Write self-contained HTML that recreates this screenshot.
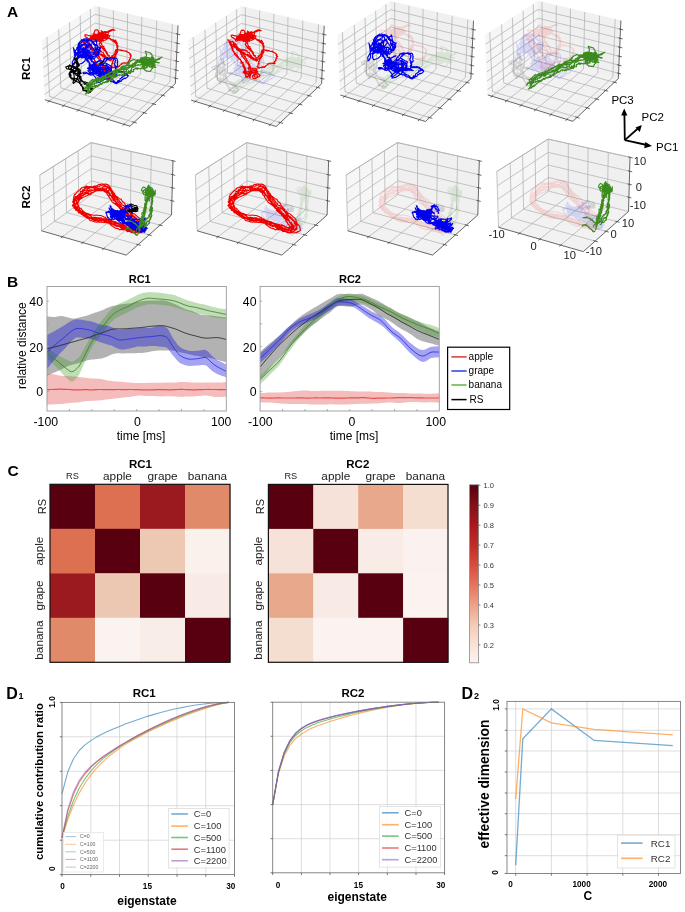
<!DOCTYPE html>
<html><head><meta charset="utf-8"><title>Figure</title>
<style>
html,body{margin:0;padding:0;background:#fff;}
body{width:685px;height:912px;overflow:hidden;}
svg{display:block;filter:blur(0.4px);font-family:"Liberation Sans", sans-serif;}
</style></head><body>
<svg width="685" height="912" viewBox="0 0 685 912">
<rect x="0" y="0" width="685" height="912" fill="#fff"/>
<defs><path id="tablack" d="M75.6 70.6L76.8 66.8L76.8 65.4L77.9 68L77.8 71.7L77.7 76.4L77 79.1L75.4 81.9L73.6 83.4L72.9 82.5L74.4 78.4L74 74.9L73.3 72.5L72.7 70.8L72.1 71.6L73.4 72.9L74.4 72.8L75.5 72L74.3 71.3L71.4 69.8L66.8 68.8L65.7 67L68.1 66.1L70.6 66L74.2 66.4L78.5 68.8L80.4 70.1L79.4 71.9L80 73.4L81.2 73.5L79.8 71.4L77 69.6L73.5 66.4L71.2 66L69.5 64.9L69.3 65.3L68.8 66.5L68.5 68.1L69.4 69.5L70.1 69L71.9 67.4L73 66.9L74.5 67.2L76.8 68.5L77.5 69L77.9 68.2L77.6 68.1L76.2 67.1L75.8 68.9L75.8 69.9L75.5 70.8L74.4 72.1L74.4 70.5L72.6 70.7L71.4 69.6L71 70.8L71.3 71.4L71.5 72.3L69.8 73.1L70.5 73.2L70.4 72.6L72.7 71.8L74.1 71.3L74 71.2L74.1 70.7L75.1 70.7L76 71.9L76.3 70.5L77.1 68.7L76.9 65.4L76.6 63.6L75.3 62L73.2 63.9L71.7 66L71.4 69.2L72.2 71.9L71.7 71.1L72 70.3L70.6 69.4L71 70.3L73.6 72.5L75.5 74.1L76.3 75.4L77.2 74.6L77.9 73.6L80.3 71.1L79.7 71.1L77.7 73.4L76.1 73.5L74.3 73.5M76.2 57.7L76 58.6L76.9 58.2L77.1 59.1L77 59.8L76.8 60.2L76.8 60.6L77.1 61.7L76.9 61.9L77.6 62.2L77.9 62.1L78.1 63.7L77.9 63.6L78.4 63.8L78.6 64.4L79.5 64.9L78.8 66.2L77.7 65.9L78.1 66.1L78.1 65.6L77.2 66.9L76.8 66.6L76.1 66.8L74.8 67.5L74.5 67.2L74.3 68.1L74.4 68.5L74.2 67.8L74 68.7L73.3 68.6L73.3 69.4L72.4 70L72 69.7L72.3 71.3L71.4 71L70.5 71.1L70.8 71.9L71 72.6L69.6 72.2L70.3 73.1L70 73L69.8 74.3L70 74.4L70.4 74.6L70.4 75.6L71.1 75.4L70.7 76.2L70.1 77.6L70.5 77.5L71.5 78.3L72.5 78.2L72.7 78.1L73.4 78.5L74.8 78.8L74.9 78.7L75.6 78.6L75.9 78.6L76.8 78.5L78.2 79.2L77.3 79.4L78.1 79.8L77.9 79.3L78.7 80.6L79.3 80.9L79.2 81L79.9 82.3L80.3 83.3L80.6 84L81.6 84.7L81.7 85.5L81.7 86.1L81.9 86.5L82.1 86.3L82.8 87.3L82.6 88.2L83.8 88.4L83.5 89.3L82.8 89.7L82.9 89.8L83.7 90.7L82.7 89.8L83.5 90.7L84.4 90.2L84.3 90L85 90.4L85.8 90.1L86.8 90.7L87.4 90.2L88.3 90.9L89.1 90.9L89.7 91.4L90.8 91.5L90.7 90.9L90.9 91.2L91.2 90.1L91.5 89.7L92.1 89.8L92.7 89.3L92.3 88.6L91.4 88L90.6 88.2L90.2 86.5L89.7 86.2L89.1 85.7L88.3 86L88.1 85.4L88.1 85.4L86.5 85L86.6 84.4L85.4 83.9L85.6 83.6L84.8 84.4L83.9 83.7L84.2 83.2L84.4 82.5L83.5 82.2L83.5 81.7L82.7 81.3L81.6 80.1L82.1 80.5L81.4 80L80.6 79.9L81 79.6L80.4 79.5L79.7 79L80 79L79.3 77.5L79.7 77.6L79 78.2L79.5 76.6L78.8 76.4L79.5 76.2L78.9 75L79.4 75L78.8 73.8L79 73.2L79.4 73L78.1 72.7L78.6 73L79.2 72.7L79.1 72.7L79 72L78.3 73L78.5 71.8L78.1 71.4L77.9 71.1L77.9 70.3L78.4 69.6L78.4 69.3L78.2 69M73.6 57.5L74.3 57.4L74.3 58L74.6 59.2L75.2 59.5L75.3 59.3L75.6 60.2L76 60.1L76.6 61.3L76.6 60.9L76.3 61.5L76.8 62.4L77.4 62.2L78.1 63.5L77.3 63.3L78.2 64.3L78 64.7L78.3 65.3L78.1 65.9L78.4 66.3L78 66.3L77.6 67.3L77.5 67.5L77.5 67.7L77 67.8L77.2 66.9L76.4 68.1L74.7 68.4L74.5 68.1L73.1 69.1L72.3 69.7L72.4 69.5L71.9 69.8L70.9 70.8L71.4 72.5L70.2 72.1L69.7 72.1L70.1 72.8L69.6 73L69.1 73.6L68.9 74.2L69.3 73.7L69.4 75.2L69.7 76L69.4 75.9L69.8 76.3L70.7 77.3L70.4 77L70.9 77.5L71.5 77.8L71.3 78.5L71.9 78.9L73 79L73 79.5L73.9 79.9L74.4 80.1L74.8 80L75 80.7L75.4 81.7L75.9 81.2L77.1 81.8L77.6 82L78 82.2L78.9 82L78.9 82.1L79.8 83.7L79.8 83.4L80.2 83.1L80.5 83.7L80.8 84.4L81.9 84.5L80.7 85.4L81.6 85.5L82.2 86.2L82.3 86.9L82.3 87.3L83.3 87.2L82.7 88.6L82.9 89.2L84 89.8L83.6 89.7L83.6 90.6L85.2 90.8L85.7 90.3L86.1 90.4L86.2 91.6L86.9 91.3L87.1 92.3L88.6 93.1L88.8 92.4L89.4 92.6L89 92.7L90.3 92.4L90.8 91.2L90.9 91.4L90.9 90.7L90.8 90L90.9 89L91.2 89L90.8 88.5L90.4 87.4L89.9 88.1L90.4 86.7L89.1 86.4L89.2 85.5L88.7 85.2L88.8 84.8L88.4 83.5L87.7 82.8L86.8 82.8L85.4 82.1L85.9 82L84.6 82L83.7 81.8L83.1 82.1L82.4 81.1L82.2 81.4L81.8 80.8L81.3 81.2L80.3 81.2L81.1 80L81.2 80L81.2 78.7L80.8 77.8L80.9 77.5L80.9 76.9L80.1 76.6L80.5 76.5L79 76.7L78.8 76.3L78.6 76.1L77.7 75.8L78 75.6L79 75.8L79.3 75.7L79.2 75.5L80 75.2L79.7 74.5L79.6 73.4L79.9 73.1L79.9 72.6L79.7 72.9L78.5 71.7L78.9 71.5L78 71.3L78.2 70.4L77 69.6L77.2 69.2L77.1 68.4L77.2 68.3M98.5 64.7L99.1 64.9L98.9 63.8L99.5 63.7L100.2 63.5L100.4 63.2L101.5 62.7L101.8 62.4L102.6 62.6L102.5 61.6L102.8 61.8L104.1 61.8L103.5 61.1L104 59.5L104.3 60"/><path id="tablue" d="M99 49.2L99.6 49.9L100 50.8L100.2 51.2L100.1 51.5L99.9 52.5L99.6 52.5L99 52.6L97.9 52.9L97.5 53.5L96.5 53.6L95.2 54.6L94.9 54.3L95.6 54L94.1 53.8L93.2 53.5L93.5 53.6L93.9 54.1L93.1 54L93 53.8L92.6 54.1L92.6 53.8L93.1 55.2L92.9 55.3L92.6 56.4L93 56.2L92.9 56.4L92.2 56.9L92 56.7L91.5 57.5L90.5 57.2L90.5 57.3L89.4 57.4L88.7 57.3L87.9 57.8L87.8 57.8L88.6 58.4L87.8 57.8L88.5 57.7L88.4 57.1L88.9 56.8L89.1 56.2L88.6 56.1L88.6 55.2L88.2 55.2L87.5 54.7L86.4 54.7L85.1 54.5L84.2 55.9L83.1 56.9L81.5 56.5L79.9 57.5L79.4 57.3L78.6 56.6L78.2 56.7L78.4 55.5L77.6 55L77.7 54.7L77.5 53.5L77.8 52.3L77.8 52.5L78.6 51.1L78.3 50.9L78 50.4L78.9 50L77.7 49.4L78.4 48.7L78.4 49.5L78.1 48.1L77.6 47.7L77.6 46.8L77.4 47.4L77.8 47.7L76.6 47.7L77.2 48.2L77.5 47.9L77.3 47.6L77 47.5L77.6 48.1L77.6 47.6L78.4 47.7L78.7 47.1L78.3 47.2L77.6 47.3L78.2 45.9L78 45.2L78.7 43.3L79.3 43.6L79.2 42.3L80.4 42L81 41.1L81.6 40.4L82 40.1L83.3 40.7L83.7 40.6L85.4 40.4L85.8 40.8L87 40.6L87.2 41L86.9 40.5L88.2 40.1L88.7 40.3L89.3 39.9L88.7 40.4L89 39.5L89.5 39.1L89.3 39.5L89.4 39.5L89.8 39.9L91.3 40.1L90.5 40L90.6 40.8L91.1 41.1L91.5 41L92.2 41.5L92.4 41.9L92.6 41.3L92.6 41.5L93 41.7L93.2 41.8L93.3 41.8L95.1 41L94.6 41.3L95.5 41.2L95.4 41.2L95.8 40.2L95.9 39.8L95.6 39.5L96.1 40.4L96.2 41L96.5 40.9L96.4 42.1L96.7 43.3L96.8 44.4L97.1 45L97 46.3L98 46.9L99.3 47.4L99.2 48.4L99.7 49M97.1 48.2L96.1 48L96 48.4L95.8 48.2L95.2 48.3L95.5 49.4L96.2 50.1L95.7 49.9L96.8 50.6L97 52.1L97.6 51.1L97.9 51.1L98.2 51.5L98.1 51.9L98.4 52L98.2 52.7L98.3 52.9L98.6 53.6L97.8 53.9L97.7 54.4L96.9 54.7L95.3 55.1L94.7 56.2L93.3 56.8L92.8 57.6L91.7 58L91.5 58.4L91.1 59.7L90.3 59.2L91.2 59.7L90.5 58.7L89.3 59L89.6 58.6L88.9 57.7L89.2 56.6L87.9 56.7L87.3 55.5L86.3 54.9L85.7 54.8L84.4 55.5L83.5 55.6L82.9 56.3L82.3 56.5L82.3 57L81.8 56.8L81.4 56.9L81.2 56.9L80.9 56.7L80.9 56.7L79.8 56.8L80 57.1L80 56.7L79.1 56.6L78.7 56.6L78.7 54.8L78.2 54.7L78.1 54L78.5 53.7L78 52.5L78.8 52.2L78.2 52.8L78 51L77.9 51L78.2 50.7L77.6 50.2L78.7 49.7L79 50.4L79 49.2L78.6 49.4L78.9 49.4L78.7 49L78.4 49.2L78.5 48.3L78.7 48.7L78.5 47.7L78.4 47.9L78.9 47.3L79.4 46.9L79.2 46.8L80.3 47.2L80.7 46.7L80.3 46.8L80.6 46.6L81.9 46.1L81.2 46.9L81.6 46.8L81 45.9L81.8 46.1L81.7 45.4L81.7 44.4L82.5 44.3L83.6 44.4L84.5 44.1L84.5 43.5L84.9 44.1L85.4 43L86.5 42.4L87.1 41.8L87.1 42.5L87.2 41.3L87.6 41L87.5 40.4L87.5 40L86.9 39.8L87.4 39.9L88.4 39.9L88.2 39.9L89.6 40.2L89.5 39.9L90 40L90.9 40.7L91.7 40.4L91.9 41.9L92.8 42.2L92.9 42.6L93.8 42.4L93.3 43L93.5 43.4L92.8 43.3L92.8 43.4L93.2 43.8L93 44L93.3 43.9L93.8 44.6L94.4 45.2L94.3 44.7L95.3 44.6L96.2 44.8L96.2 45.7L96.4 45.4L97 45.8L97.9 45.9L97.4 46L98 47.1L97.4 46.9L98 47.4L97.1 47.1L97.7 49.1L98 49.2L98.8 49.5M100.9 47.8L100.3 47.6L100.6 48.6L99.4 48.8L99.9 49.1L99.5 49.4L98.9 50L98.6 50.9L98.3 50.9L98.7 51.4L99.4 51.8L99 52.8L98.8 53.2L98.9 53.8L98.1 55.2L98 55.5L96.2 56L96.3 56.8L95.5 57.4L94.9 57.7L94.2 58.8L93.9 58.7L93.1 58.1L93.3 58.9L92.7 58.3L92.9 58.3L92.5 57.9L92.5 58L92 57.9L91.4 57.9L91.3 57.9L90.5 56.7L90.8 57.5L90.8 57.8L90.4 57.9L90.3 57.6L90.4 58L90.2 58L89.8 57.1L88.5 57.1L87.9 57.2L87.6 56.1L86.9 55.6L85.2 55.1L85.9 54.8L84.9 54.6L83.4 54.6L83.7 54.2L82.6 54.4L82.2 54.5L81.4 54.8L81.1 55L81 55.3L80.9 55.2L80.4 54.3L80.6 53.7L80.2 54.4L80.1 53.7L79.8 53.1L79.6 53.8L80 54L78.5 53.1L78.1 53.2L78 53.3L77.3 53.4L76.5 53.6L76.4 53.1L75.3 53.2L75.4 52.6L75.5 52.5L75.4 51.3L75.5 50.8L76 50.2L76.6 49.1L77.3 48.5L77.3 47.5L78.6 47.3L78.9 47.7L79.7 47.2L79.7 46.5L80 46.2L78.8 46.1L79.6 46.2L80.3 44.7L79.6 44.9L79.1 43.7L79.5 43.9L79.5 42.2L79.9 42.3L80.1 41.3L81.3 40.9L82.3 41L82.5 40.1L83.1 40L83.1 39.6L83.9 38.8L83.9 39.1L83.9 39.3L84.7 39L85.3 38.9L86.3 38.7L87.2 39.7L87.7 39.2L88.6 40.3L89.8 40.1L90.1 40.6L91.1 40.2L91.7 41L92.2 40.9L92.4 41.5L93.3 42L93.1 42L92.7 42.2L92.2 42.7L92.4 42.1L92.8 42.8L91.9 42.7L93.5 43.4L92.8 42.8L93 43.6L93.5 43.7L93 42.3L93.8 43.2L94.1 42.9L94.6 44.2L94.2 43.9L95 45L95.4 45.5L95.3 45.7L95.1 46.1L95.2 47.6L94.8 47.5L95.2 48.3L95.6 49.1L96.1 48.8L96.3 49L96.8 48.9L96.9 49.6L97.6 49.3L98.1 49.1M87 46L91 44L91.9 47L89.5 50.5L85.3 50.5L82.7 48.4L83.3 47.4L85.8 49.7L86.3 54.3L86.5 56.8L86.4 57.5L87.1 58.6L90.4 58.5L92 59.7L90.7 58.3L87.1 56.2L83.6 54.6L82.1 53.9L82 52.4L85 50.2L88 46.2L89.5 45.2L89 42.1L87.2 40.5L83.3 39.8L81.5 42.7L79.1 45.2L77.8 47.7L78.9 47.5L80.4 48.6L81.8 48.8L84.3 51.3L86 52L87 52.2L84.7 53L81.7 55.7L77.4 59L76.1 58.5L77.4 57.7L80.6 57.1L82 56.7L82 56.2L80 55.8L80.6 54.6L82.8 54.5L84.3 56.7L83.7 57.6L81.9 57.9L80.6 56.3L79.7 53.2L78.1 49.1L77.7 46.7L78.7 47.2L81.7 48.9L84.8 48.4L86.7 46.2L86.6 44.5L83.7 44.8L81.5 46.6L79.1 50.7L75.9 54.9L75.2 56L75.8 54.1L78.6 50.5L82.7 50.7L84 53.6L83.7 56L83.2 54.7L83.8 52.1L85.4 51L86.3 52.8L88.4 55.8L89.5 57.6L90.9 57.2L91.3 55.7L90.8 52.4L86.5 50.5L82.3 48.7L80.9 49.3L83.7 49.3L87.8 51L87.8 50.4L84.1 50.5L78.3 52.5L74.7 57.4L72.2 62.3L72.6 65.6L73.9 64.7L75 61.8L74.8 56.2L73.9 50.2L73.4 47.8L74.1 49.6L76.2 53.1L78.3 56.3L79 56.9L79.3 56.6L79 57.2L82.1 55.1L84.9 53.5L86.8 52L89.8 52.1L92.6 52L94.7 53.5L95.1 52L94.3 50.2L91.4 46L89.4 45.2L88.4 45L88.3 46.4L87.9 49.8L85.5 51.7L83.3 52.7L83.3 53.1L83 55.8L85.9 56.9L87.1 58.9L88.3 56.9L88.5 55.2L86.2 52.8L83.1 53L80.7 55.5L80.3 55.8L79.6 55.4L80.4 52.8L82.3 50.4L84 48.9L84.9 49.8L85.6 50.1L84.1 51.1L83.9 54.2L85.3 57.9L85.1 60.8L82.2 63.2L78.2 64.5L77 62.1L77.2 57.6L78.4 52.6L78.8 47.7L79.8 44.4M85.4 53.2L85.7 54L85.8 54L85.8 55.1L85.6 55.3L85.8 56.5L86.2 56.3L86 57.1L86.2 57.8L86 58.3L87 59.1L86.7 59.6L87.4 59.5L87.6 59.8L88.5 61L88 61.1L88.3 61.5L89.3 62.1L88.9 63L89.7 63.6L90 63.2L90.2 64.3L90.6 65L90 65.5L90.7 66.9L91 67.5L91.2 67.6L90.4 68.7L90.9 68.7L92 69.8L91.4 70.1L92.8 70.3L93.1 70.8L93.9 70.8L93.8 71.7L94.5 71.5L95.3 72.1L96.4 71.9L97.1 72.2L97 72.7L97.6 72.5L97.4 72.2L96.9 71L96.8 70.5L96.4 69.9L96.7 69.8L96.7 68.6L97.4 67.5L97.2 66.9L96.7 66.6L96.7 66.2L96 65.2L95.2 64.6L95.6 64.1L95.2 63.8L94.2 63.5L94.3 62.5L93.7 61.9L93 62.1L91.5 61.8L91.7 60.9L91.6 60L90.7 59.5L90.7 59.4L91 58.1L91.4 57.5L90.9 57.8L90.6 56.3L90.3 55.9L90 56.2L89.9 54.7L89.9 54.8L89.1 53.6L89.2 52.8L87.6 52.8L87 52.1L86.6 52L86 50.7L85.3 51L84.2 50.5M81.8 52.2L82.6 53L83.5 54.3L83.5 54.5L83.4 55.8L83.8 56.2L84.3 57.1L84.6 57.1L85.1 57.9L85.4 58.6L86 59L86.6 59.5L86.8 59.9L86.7 61L88.1 60.1L87.7 61.6L87.9 61.8L88.8 61.8L89.1 62.5L89 62.7L89.5 64L89.1 64.6L89.3 65.1L89.1 66.2L90.1 65.8L90 66.6L90.7 67.6L90.4 68.7L91.2 69.4L91.2 69.5L92.1 70.5L92.1 71.2L93.2 70.9L92.9 72L93.6 72.6L94.1 73L95.2 73.4L94.6 73.2L95.4 73L96.4 73.6L96.5 73.7L96.4 73.4L96.5 73.2L96.2 72.4L96.4 71.9L96.6 71.6L95.8 69.9L96.4 69.8L95.6 69.2L95.3 68.6L95.4 68L95.1 66.8L94.9 65.2L94 64.9L94 63.6L93.4 63.4L93.5 62.4L92.8 61.9L92.2 61.7L91.7 61L91.8 60.8L92.2 60.4L90.7 60.2L90.7 59.4L91.1 58.8L90.8 58.1L90 58.3L89.7 57.8L89.2 56.6L88.6 55.7L88.3 56L88 55.2L87.4 54.9L86.2 54.2L86.2 54.1L85.6 53.3L85.8 52.7L84.5 52.6L84.2 51.5L83.8 51.5M95.5 67.8L96.4 66.1L96.5 65.7L93 65.5L90.1 67L89.3 69.6L90.6 72.4L93.4 75L96.2 78.4L97 81.1L96.5 82.8L97 82.7L100.1 82.1L104.7 79.3L108.3 75.2L111.6 70.6L111.1 68.2L108 66.2L102.8 65.5L100.7 65.8L101.1 65.2L105.1 62.7L109.2 65.1L111.8 66.5L110.8 70.4L108.4 74.2L106.9 75.8L105.1 75.5L105.8 73L107.3 70.4L107.9 66.6L106.4 64.7L104.6 65.5L106 66.7L107.8 69.8L108.2 73L106.4 75.5L102.7 76.4L100.2 76.8L100.4 74.4L100.9 73.5L102.2 72.5L103 70.5L103.4 71.9L102 69.4L100.5 68.6L97 67.8L93 67.5L90.9 67.5L91.6 66.4L94.9 63.5L98.7 60.7L100.5 60.6L95.7 62.6L90.7 65.5L90.1 67.5L91.7 68.4L98.5 69.4L104 69.2L107.6 69.8L107.5 71.6L105.7 71.9L102.8 73.9L101.5 74.5L102.2 74.2L101.7 73.3L99.7 72.3L96.4 69.6L91.3 69.2L90 69.5L90.3 71.8L90.7 73L90 74.6L89.1 73.3L89.3 74.8L89.1 74.5L88.5 74L86.4 72.6L85.6 72.2L83.7 72.3L83 72.7L83.6 73.8L86.7 73.1L90.9 75.2L93.4 74L95.3 72.3L91.6 70L88.4 67.8L91.3 66.5L98.5 67L107.2 68L111.2 71.1L110.4 73L105.7 74.3L98.7 74L93.9 73.2L92.3 72.5L91.3 72.6L94.7 73.6L97.5 75.6L101.6 75.7L106.1 75.7L109.3 74.8L110 73.6L108.8 72.8L106 73.2L104 74.9L100.5 76.7L97.1 79L95.3 80.8L96.7 81.6L99.6 80L101.8 77.9L105.8 74.4L106.2 70.7L105.8 68.1L107.6 67.7L107.3 69.2L107.5 72.3L104.9 75.2L101.6 74.8L100.1 71.5L97.8 67.9L95.5 66.4L93.8 67.3L97.6 70L103.1 73.1L110.2 75.5L114 74.7L114.6 73.4L112.1 72.8L111.8 72.8L110.7 72.4L110.9 72L111 69.3L110.7 68.6L109 67.8L103.8 67.9L99.5 68.2L93.4 68.2L89.3 69.2L87.9 70.7L89.1 72.2L93.4 73.9L100.9 73.2L109.6 73.5L114.9 73.8L117.2 75.3L117.9 75.2L115.7 75.2L113.1 74.4L108.7 74.4L105.4 74.8L104.7 74.5L107.1 73.6L108.8 74.3L107.3 73.3L101.6 72.2L94.6 70.7L87 68.1M99 65.7L99 65.7L99.7 65.1L99.9 64.5L101.2 64.5L100.8 63.7L101.3 62.7L101.7 61.9L102.7 62L102.6 61L103 60.7L104 60.2L104.4 59.2L104.2 59.6L104.2 58.8L105.4 58.3L105.7 58.6L106 58.3L107.1 58.1L107.6 57.3L107.8 58.2L109.2 58.6L109.8 58.2L110.9 58.2L111.1 58.2L112.5 58.1L112.7 57.8L113.4 59.3L114.2 58.4L115.1 58.4L114.8 59.1L115.6 60.5L115.2 59.7L115.4 61.3L115.1 61.3L115.1 62.2L115 63L114.3 63.4L114.3 64.1L114.7 64.4L115.5 66.1L114.5 65.4L115.1 65.6L115.4 66.8L114.9 67.4L115.3 67.3L115.3 68.8L116.1 68.9L115.7 69.9L114.9 70.3L115.4 71.2L115 71.2L115.5 71.4L115.9 71.4L116.5 71.6L118.1 71.4L118.4 71.3L119.1 71.6L120.1 71.5L120.8 71.4L121.1 71.1L120.9 71.2L122.5 71.8L122.8 72.3L122.4 72.4L123.4 71.8L123.5 72.6L123.8 72.9L124.9 73.4L124.7 73.5L125.3 73.3L125.5 73.4L126.6 73.8L125.4 74.2L125.3 74.4L125.1 75.5L124.3 75.9L123.6 75.5L122.9 75.8L123.4 75.7L122.8 77.1L122.3 77.3L121.7 77.8L121.6 77.7L121.1 78.2L119.9 78.7L120 79.3L120 80.1L119.7 80.7L117.9 80.6L118.6 80.8L118.5 82L117.6 81.1L117.6 82.3L116.5 82.2L116.2 82.6L115.5 82.4L114.9 82.1L114.8 81.9L114 81.2L113.8 81.1L113.2 79.9L112.1 79.9L112.3 79.7L110.6 79.4L110.8 79.3L110.2 79L109.6 79.3L109.5 78.4L109.5 77.5L108.8 77.9L108.2 77.7L107.1 76.6L107.2 76.6L106.4 76.4L105.9 75.5L105.7 75.6L104.8 74.7L104.3 74.2L104.2 74.8L103.4 74.4L103.3 74.4L102 73.1L102.2 73L101.6 72.7L101.1 72.5L100.7 71.7L101.2 71L100.6 72L101.1 71.2L100.8 70.6L100.1 70.6L100.5 70.8L100.5 70.1L100.3 70.2L100 69.8L99.9 69.6L100.4 69.2L99.8 68.1L99.9 67.8M99.9 66.7L100.7 65.9L101.1 65.8L101.2 65.8L102.5 65.5L103 64.7L103.6 64.1L103.5 64L105.1 62.7L104.9 62.9L105.2 61.8L105.9 60.7L106.9 60.8L106.5 60.3L107.1 59L108.1 59.6L108.7 58.9L108.9 57.8L109.7 58.3L110.7 57.9L112 57.5L112.4 58.1L111.5 58.2L113.2 57.8L113.4 58.1L114.5 58.1L115.2 58L115.5 57.9L116.3 58.1L116.8 58.5L117.1 59.1L117.3 59.7L117.3 60.5L117.2 60.8L117.8 61.3L117.5 61.7L117.3 63.3L117.2 63.8L117.3 64.1L117.7 64.9L117.3 65.7L117.6 66.1L116.5 66.8L116.5 67.6L116.1 67.7L115.8 68.2L116.3 69.4L116.1 69.7L115.9 70.3L115.9 71.3L115.1 71.5L115.2 72.2L115.2 72.4L115.3 72.9L116.2 72L117.2 72.3L118 72.1L118.5 71.9L119.1 72.3L119.6 72.2L120.5 72.2L121.7 72.2L122.4 71.6L123.1 72.5L124.1 72.1L125 74L125.1 74.7L125.9 74.1L126.5 75.2L127.2 74.3L127.6 75.1L127.6 75.7L128.3 75.8L128.2 76L127.5 76.8L126.9 77.4L126 78.1L125.5 78.1L125 78.6L124.7 78.1L124 78.3L123.5 79L122.7 79.4L122 79.3L122.1 79.7L121.7 80.4L121.3 81.1L120.2 81.5L119.6 81L120 81.4L119.3 81.9L118.6 82.5L118 82.5L117 83L117.5 83.1L116.6 83.6L116.3 83.7L115.9 83.5L114.5 83L113.6 82.1L113.5 82.3L113 81.7L111.9 81.5L111.3 81.7L110.4 81.3L110.7 80.8L110.2 80.6L109.3 80.5L109 79.5L108 79.6L107.4 79.7L107.1 79.4L106.2 78.7L105.9 78.9L105.5 79.1L104.4 79L104.1 78.4L103.5 77.9L102.3 77.5L101.8 77.4L101.2 76.8L100.6 76.7L99.9 75.8L99.4 76.7L98.6 75.9L98.6 75.5L98.4 74L99 73.7L98.4 73.2L98.3 72.6L98.8 71.9L98.6 70.8L99 70.6L98.7 69.5L99.7 69.6L98.5 68.3L98.7 68L98.8 67.3L98.1 66.1L99.2 65.8"/><path id="tared" d="M99.7 42L98.5 39.7L99.1 37.9L98.8 37.6L99.8 36.2L99.8 36L100.6 34.5L102 33.4L102.6 31.7L101.8 32.3L101.2 30.9L102 31.2L101.7 31.7L100.7 33.2L99 33.4L95.4 35.7L93.4 37.5L90.5 39L88.8 39L86.8 37.5L85.1 36.4L84.9 34.9L86.2 34.8L88 35.3L90.1 35.6L94.3 35.7L96.8 34.9L97.6 34.3L99.4 32.7L100.9 33L101.9 33.9L103.1 33.3L103.5 34.8L102 36.9L100.4 38.7L99.8 39.7L99.8 37.9L99.4 37.1L97.7 36.3L94.4 36.2L90.3 37.7L89.1 40.7L90.6 40.7L94.1 39.1L98.8 37.9L102.4 34.8L106.2 34.9L108.3 35.8L107.5 37L105.1 38.5L103 39.3L100.7 37L98.4 35.8L96.7 34.6L96.9 36.5L96.2 37.6L98.4 38.1L99 37.9L98.6 38.1L99.3 37.4L98.7 38.8L98.2 39.3L99.7 39.4L100.4 37.5L100.9 37.5L102.6 35.9L104.3 35.5L105.8 36.5L106.7 36.3L107.9 34.4L108.5 32.8L106.8 31.9L104.9 31.5L102.5 32.5L100.8 34.3L99.5 34.9L98.3 35.5L98.5 35.9L99.8 35.9L99 36.6L97.3 37.2L95.4 37L94.4 37L96.9 37.5L100.6 36.9L103.9 37.2L103.5 38.1L102.9 36.4L101.7 34.3L102.6 33.6L104.2 32.3L103.2 33.2L101.4 34.9L98.7 36.1L98 37.2L98.6 38.4L97 39.2L98.2 40L97.7 38.8L96.7 38.2L94.5 38.6L94.2 37.4L95.9 38.1L97.3 37.8L99.8 36.7L101.2 35.5L105 35.6L108.4 35.5L106.6 36.6L104.2 38.2L102.3 40.1L102.3 40L104.8 36.9L105 35.5L102.7 33.4L99.8 33.2L98.2 34.8L96.5 37.1L95.3 37.5L98.6 35.9L101 35.3L103.7 33.9L103.5 33.4L102.1 34.3L97.8 35.6L93.2 38L90.2 37.6L90.7 36.8L94.3 35L99.5 33.5L103.8 33.7L107.3 34.5L109.8 36L108.5 38.3L105.1 40.2L99.9 41L95.1 40L91.5 39.4L89.2 38.8L91 38.7L92.1 38.8L93.1 37.5L93.7 38.2L92.9 36.7L93.4 37.1L94.8 38.3L99.2 37.9L102 36.9L103.1 35L103.9 32.8L106.3 32.2L109.4 31.7L112.7 30.1L114.9 30.3L112.6 29.4L109.4 30.6L106.1 32.8L105.1 35L103.6 37.8L103 39.1L99.9 39.6L96.8 38.3L94 36.8L92.8 34.9L94.1 33.7L96.4 34.6L99.8 35L102.6 35.4L103.6 37.8L103.4 36.5L102.6 36.6L99.7 38L98.2 38.3L97.4 36.5L97.3 34.9L98.2 33.4L98.8 32.5L98.3 30.7L97.2 29.8L95.1 30.1L94.2 32.3L93.7 34.3L94.2 37.6L92.8 38.5L93.6 40.1L93 39.7L93.8 39.2L95 38.9L96.5 38.9L96.9 37.1L95.1 37.6L94.6 37.1L95.3 38.2L95.9 39.9L97.4 41L97.6 41.5L97.6 41.1L98.9 40.6L100.8 40.1L104 41.1M83.7 40.3L83.5 41.7L84.5 42.6L84.7 43.5L85.4 43.5L85.7 44.2L85.4 45.3L85.5 46L86 46.3L86.7 47.1L86.7 47.3L86.8 48.5L86 48.7L85.9 49.7L86.7 50.5L87.1 51.1L87.3 51.2L88 52.4L88.2 53.5L88.3 54.1L89 54.6L89.9 55.5L90.4 56.1L90.9 56.7L92.3 56.7L91.9 57.5L92.5 57.8L92.6 58.1L93.2 58.3L94 59.2L94.4 59.4L94.6 60.9L95.1 60.6L95.3 61L95 61.5L94.8 62.8L97.1 62.4L96.8 63.3L96.8 63.7L96.5 64.6L96.9 65.3L98 66.4L96.8 66.2L97.8 67.4L98.3 68.7L98 68.7L98.3 69.5L98.1 69.9L99.1 70L98 71.6L98 72.8L98.8 72.9L99.4 73.2L99.1 74.7L99.7 75.4L99.4 76.6L99.7 76.7L101.2 75.9L101.9 75.8L102.6 74.7L102.5 75.4L102.9 74.8L103.5 74.7L104.4 74.3L105.2 73.3L105.5 72.8L104.6 71.8L104.9 70.6L104.5 70.5L104.2 69.7L103.9 68.3L103.5 68.1L103.4 66.9L102.9 66.1L102.5 64.8L101.9 63.6L101.9 63.6L101.2 62.8L99.9 61.8L100.3 61L99.4 60.3L99.3 59.7L98.4 58.9L97.9 57.7L97.5 58L96.9 56.5L96.3 56.3L95.4 55.7L96.3 55.3L94.8 54L94.9 54.3L94.9 53.5L94.5 53L94.3 52.6L94.1 51.3L94 49.9L93.4 50.6L94 50.4L92.4 49.8L92.5 48.7L92 48.4L91.6 48.1L91.6 46.9L91.7 46.9L90.6 46.4L90.3 46.7L90.4 45.4L89.9 45.7L90 44.6L89.3 43.4L88.6 44.2L88 42.5L87.8 42.5L87.2 42.3L86.2 41.3L86 40.9L85.3 41.6L84.6 41.2L83.8 40.7L83.8 40.7M81.1 39.3L81.7 39.5L81.8 39.8L82.3 39.7L82.8 40.9L83.3 41.5L83.3 42.7L83.7 43.6L84.5 44.8L84.3 45.1L84.9 45.5L85.3 47.6L85.5 47.6L86.2 48.2L86.2 48.9L86.8 49.2L86.8 50.5L87.3 50.9L88.1 51.9L88.4 52.2L88.5 52.7L89.3 53.4L89.6 53.4L90.1 53.9L91 54.8L90.8 55.1L91.6 56.2L92.2 57L92.6 58.2L92.9 58.8L94.2 59L94.7 60.5L95.3 61.9L95.9 61.6L96.4 62.8L96.7 63.9L97.6 64.2L97.3 65.2L98.3 66L98.1 66.2L98.8 67.3L99.4 67.9L99.2 67.8L99.2 68.8L99.5 69.7L99.1 69.9L99.1 70.7L99 71.4L99.7 71.8L99.5 72.9L99.5 73.4L99.1 73.7L99.9 74.9L99.4 75.8L100.2 76.4L99.8 76.6L101.3 76.9L100.6 76.6L102.1 75.6L102.5 75.3L102.1 74.7L103.1 73.6L104.2 73.2L104.6 72.2L104 72.1L104.8 71.1L104.4 70.2L104.2 69.7L104.1 68.9L104.8 68.3L104 67.6L103.7 66.3L103.5 65.7L103.7 65.3L103.5 64.6L102.7 63.7L103.3 63.9L102 62.7L101.9 61.6L101.7 61.2L101.7 60.8L100.6 59.8L100.4 58.4L100.3 58.4L99.7 57.8L99.5 57.8L99 55.8L98.4 56.3L98.1 55.1L97.7 54.9L97 53.9L97 53.5L95.3 53.4L95.1 52.6L95.3 52.5L94.4 51.6L93.4 51.1L93.1 50.8L92.8 50.2L91.7 49.9L91.6 50L90.8 48.6L90.4 47.9L90 47.9L90.1 47.9L89 47.1L89 46.6L89.1 46L88.1 44.7L87.7 44.4L88.2 42.9L87.7 43L87.3 42.9L87 41.6L86 41.2L86.6 41.3L84.5 41.8L84 42L82.9 42.4L82.5 41.9M98.3 71.4L98.8 72L100.4 72.2L101.9 71.5L104.8 70.9L107.4 70.2L109.2 70.4L110.6 68.9L109.6 68.3L108.4 67.9L106.1 67.9L106 68.6L107.5 69.4L110.3 69.9L110.6 71.8L110.1 71.1L109.3 74.4L106.3 75.5L106.7 77.4L107 78.3L109.4 78.3L111.1 77.3L111.2 75.2L109.9 73.2L107.5 73.5L107.6 74L108.4 76.5L111 76.9L113.1 76.3L113.9 75.1L111.7 73.2L109.6 70.8L107.9 70.2L106.4 70.9L104.9 70.1L104.3 70L102.6 69.7L102 68.2L102.7 66.6L103.6 65.9L104.5 66.8L104.6 67.8L104.8 69.3L104.9 70.4L104.5 70.8L104 72.6L100.5 73.4L97.8 72.4L96.8 71.9L98.3 70.6L102.5 71.2L102.9 72.1L103.8 72.4L104 74.2L104 73.5L103.3 73.5L102.7 73.6L104.2 74.9L103.8 76.1L104 76.9L103.9 77.7L102.7 76.3L103.2 74.4L105.5 72L108.1 72.2L111.1 71.6L111.2 71.1L110 71.1L107 72.4L104.3 73.8L104.3 75.5L103.4 76.1L103.7 75.5L102.2 75.3L101.4 73.4L100.6 73L99.4 72.3L99.1 71.7L97.7 72.8L99.3 74M103.4 36.3L104.5 37.2L104.5 37.6L105.2 37L105.2 37.5L106.1 37.9L105.9 38.3L107.3 38.1L107.3 38.8L108.6 38.5L108.5 38.1L110.2 38.9L111.2 39.8L111.9 40.4L113 39.6L112.9 40L114.6 40.9L115.2 39.9L114.8 41.5L115.4 41.9L115.9 40.8L116.5 42.3L116.8 42.3L116.1 43.3L117.4 43.3L117 43.7L116.6 44.5L117.2 45.5L116.7 45.9L117.3 46.5L117.1 46.6L116.9 47.9L117.6 48.3L117.6 49.5L117.4 49.3L117.2 49.8L117.6 50.1L117.8 51.1L117.2 51.3L117.7 51.6L116.9 53L116.7 53.6L116.5 53.4L115.8 53.9L115.9 55.2L115.4 55.1L114.5 56.9L114.3 56.4L114.8 57.2L113.9 56.9L113.6 57.7L112.6 58.5L112.4 58.6L112.3 58.6L111.4 59.9L110.6 58.8L110.7 57.7L109.5 56.9L108.8 56.3L108.8 56.1L107.2 54.7L107.5 54.2L106.5 53.3L106.3 53.4L106 52.3L106 52.1L105.7 51.6L105.5 50.8L105.2 50.9L105.4 50.6L105.2 49.6L104.5 50L104.2 50.7L103.5 49.1L102.8 49.1L103 48.1L102.4 48.4L102.3 47.7L101 47.8L102.2 47.1L100.4 46.3L100.5 46.6L100.5 45.7L99.4 44.9L99.4 44.7L98.9 43.8L99.5 43.6L99.7 42.8L100.9 42L101.3 41.7L101.5 40.4L102.4 40.5L102.8 38.8L102.7 39.4L102.9 38.3L103.2 37.5L103.5 36.8L104.5 36.7L104.5 35.9L104.7 35.5M104.5 36.6L104.9 36.7L105.4 37L106.8 37.8L106.8 37.2L107.2 38.3L108.1 37.7L108.3 37.7L109.5 38.6L110.1 38.6L110.7 39L110.5 39.6L111.2 39.7L112.4 40.1L112 39.5L113 40.3L113.5 41.1L112.9 41.4L114.2 42L114.5 41.9L115 42.8L115.8 43.4L115.9 43.2L116.2 43.6L116.9 43.7L116.7 44.3L117.2 44.5L116.4 44.7L117.9 45.4L117.2 45.8L117.7 45.6L117.7 46.6L117.7 47L117.7 47.5L117.8 47.7L117.2 48.5L117.5 49.1L117.8 49.1L116.6 50L116.3 50.7L117.1 51.2L116.4 51.3L116.3 51.8L115.4 52.8L115.2 53.1L115.1 54.9L114.5 54.2L113.8 54.7L112.9 55.7L112.7 55.7L111.9 55.6L112.5 56.8L111.3 56.9L110.9 57.5L110.6 57.5L110.2 57.4L110 57.2L109.2 56.7L108.5 55.9L109.4 55.5L108.2 55L107.9 54.9L107.5 54.3L107.3 53.5L107.3 53.7L107.3 52.7L106.4 52.7L106.6 51.8L106 51.8L106.4 51.2L105.3 50.8L105.6 50.5L105.5 50.1L104.5 49.6L104.8 49.1L104.5 48.2L103.9 48.1L103.8 46.9L103.9 46.4L103.2 46.6L102.6 46.1L102.3 46.2L102.1 45.4L102 45L101.4 44L101.2 43.7L101.7 43.5L100.8 42.7L101 42.2L100.9 41.6L102.2 40.8L101.2 40.3L102.2 39.6L102.7 39.8L102.1 39.1L102.6 38.4L103 38.3L103.5 37.4L103 37.5L103.8 37.2M116.7 49L116.7 49.4L117.1 49.8L117.3 49.1L117.7 49.8L117.9 49.7L119.2 49.7L119.3 50.2L120.2 49.8L120.7 50.5L120.8 50.1L121.4 50L121.9 50.8L122.9 50.2L123.2 50.4L123.8 50.9L124.6 51.2L124.9 51.2L126.2 50.7L125.7 51.1L127 51.9L127.6 52.1L127.2 51.8L128.3 52.4L128.6 52.6L129.2 53.1L128.9 52.7L129.8 53.6L129.7 53.3L130.1 54.2L130.9 54.4L130.5 54.2L129.9 54.9L130.4 55.5L130.6 56.2L131.5 55.9L130.6 56.7L130 57.7L130.7 58.2L130.1 58.2L129.9 58.8L129.3 59.8L129.9 59.8L129.1 60.7L128.3 61.4L128.4 61.5L128.4 61L128.5 62.7L128.8 63.2L128 63.4L127.6 63.1L128.2 62.2L127.1 63.2L126.6 62.9L126.4 63.1L125.6 62.7L125.9 62.7L125.7 62.8L124.7 63.5L124.9 63.1L124 63L123.7 62.7L122.8 63.3L122.3 63.2L121.6 63.6L121.8 64.3L121.2 64.5L120.8 64.7L120.1 65.1L119.6 65.4L119.4 65.9L119.5 66.2L119 66.4L118.3 66.3L118.3 67.1L118.3 67.2L117.2 66.6L117.4 67.1L116.4 66.9L116.2 66.3L115.1 67.1L115.2 67.5L113.9 67L113.9 67.1L113.3 67.8L112.3 67.1L112.1 67.2L112.5 67.5L111.9 67.9L112 67.7L111.7 66.8L110.7 66.4L111.9 66L111.7 65.2L111.8 64.5L112 63.9L112 64L112 63.1L112.8 63.6L112.7 62.2L112.4 61.2L112.7 60.9L113.5 60.6L113.5 60.1L113.7 59.6L113.5 59.2L114 58.5L113.9 58.4L113.8 58.5L115 57.2L114.7 56.9L114.8 56.9L114.7 56.8L115.4 56.3L116 56.1L115.4 55.3L115.5 55L114.8 54.9L115.2 54.6L115.2 54.6L115.7 54.2L115.1 52.6L114.8 53.2L115.2 52.2L115.1 51.3L115.8 51.7L115.7 51.1L115.6 50.6L115.7 49.8L116.1 49.4M86.2 44.2L86.8 45L87.3 45.2L88.4 46.3L89.2 46L90.5 46.6L90.9 47.1L91.2 47.8L92.4 48.1L92.9 48.3L94.3 49.3L93.9 48.9L95 49.3L95.7 50.3L96.6 49.3L97.2 50.1L97.3 50L97.8 49.6L99.1 50L100.1 50.6L100.6 50L100.5 50.7L101.3 51.5L101.4 51.5L101.7 52.1L103.1 52.3L103.4 52.9L103.6 53.6L104.1 54.3L105 55.3L105.4 55.7L105.7 57L106.4 57.1L106.9 57.5L107.3 58.7L107.8 58.3L109 58.5L109.1 59.2L109.4 59.2L111.1 60.2L110.3 60.3L109.4 59.8L108.5 59.2L107.9 59.1L106.7 59L106.6 59L106.1 58.1L105.3 57.8L104.9 58L103.9 57.3L103.7 57L102.6 56.6L102.6 55.7L101.8 55.5L101 55.6L100.8 54.7L100.4 54.3L99.6 54.1L99.5 53.8L98.4 54.1L98.4 52.6L97.8 52.5L96.8 52.8L96.9 51.7L95.4 51.5L95.6 50.3L95 50.8L94.8 50.3L93.5 50L93.2 49.3L92.8 49.3L92.6 48.8L92.1 48.9L91.6 48.4L91 48.4L90.3 47.3L89.5 47.3L89.3 45.9L89.1 46.4L88.7 46.1M87.2 43.1L87.3 44.7L87.8 44.9L88.9 45.5L89.2 46.4L90.4 46.6L90.9 47.3L91.5 48.3L92.5 48.7L93.2 48.9L92.7 50.2L94.3 50.7L95.1 51.5L96 51.4L96.3 52L96.9 52.8L98.1 53.1L99 53.4L98.7 53.7L99.6 54L100.6 54.2L100.5 54.4L101.7 55L102.7 54.9L102.5 54.6L103.3 55.3L103.3 56L104.1 56L104.5 55L105.1 55.6L105 56.4L105.8 56.5L106 56.8L106.2 57.2L107.4 57.7L107.3 57.8L108.3 59.1L109.8 58.8L110 59.7L110.2 60.8L110.3 60.7L109.6 60.2L109.3 60L108.4 59.6L108.6 59.4L107.5 59.2L107.8 59.5L107.3 58.5L107 58.5L106.9 58L105 57.6L104.6 56.8L104 56.6L103.5 55.9L103.3 55.4L102.1 54.8L101.2 53.8L100.2 54.4L99.6 54.1L98.8 53.4L98.2 53.2L96.9 53.1L96.7 52.5L96.2 52.8L95.6 52.6L94.5 52.3L94.7 51.9L94.3 50.5L93.6 51L92.6 50.3L92 50.4L92 50L91 49.5L90.3 48.8L90.4 49.3L89.8 47.9L89 47L88.6 47.2L87.7 45.8L86.3 46.3"/><path id="tagreen" d="M86.7 85.9L86 84.7L86.6 85.7L86.7 84.4L87.2 84.3L87.2 84.2L88.1 83.3L87.7 84.4L89.1 84L89.1 83.1L90.3 83L89 82.4L90 81.9L89.9 81.6L90.8 80.7L91.5 80.7L91.5 80.3L91.8 80.9L92.3 79.3L93.7 80L94.8 79.5L95.4 79.1L95.6 78.5L95.8 79.3L96.7 78.9L96.8 78.1L97.3 77.9L98.8 77.9L98.8 78.5L99.5 77.4L99.7 77.8L100.8 78.2L101.2 77.2L100.7 77.7L101.1 78.2L101.3 77.4L102.2 77.4L102.4 76.6L101.9 77.2L103.1 76.3L102.4 76.4L102.1 76.5L102.1 75.9L103.2 76.3L103.8 76.1L103.9 75.8L104.8 75.8L105.7 75.1L105.8 73.9L106.8 74.8L107.8 74.4L107.9 73.5L108 73L109 73.4L109.6 72.5L110.8 72.4L110.3 72.3L110.4 73.3L111.6 72.1L112.1 71.3L112.2 72.2L113 71.8L113.3 71.3L114 71.8L113.4 71.2L113.7 71.4L114.1 70.5L114.2 70.7L115.1 70.3L115.1 69.7L115.2 69.7L116.2 70L116.2 69.5L116.9 68.7L117.4 69.3L117.6 69.3L118.3 69.7L119.1 69L119.5 69.3L120.6 68.5L121.9 68.2L122.6 67.6L123 67.2L125.1 66.7L124.6 66.4L125.9 65.4L126.6 64.9L127.3 64.9L126.8 64.6L127.5 64L127.7 64.1L128.5 63.7L128.4 64L128.7 62.4L129.1 63.4L130.1 61.3L130.1 61.1L130.8 61.4L130.8 60.6L132.2 60.4L132.2 60.1L133.8 59.5L134.3 59.4L134.6 59.8L135.2 60.1L136.2 60.3L136.8 60.3L137 60.2L137.5 60.8L137.9 59.6L138.2 60.5L138.6 60.9L139 60.9L139.7 60.5L139.7 60.3L139.5 59.8L140.7 59.2L140.8 57.9L140.6 58.4L141.5 58.3L141.4 59L141.8 58.2L142.3 58.3L143.8 58.9L143.8 58.5L144.4 59.1L144.9 59.5L145.2 59.3L146.1 59.5L146.7 58.9M83.3 90L84.6 89.4L84.6 88.1L85.5 88.1L85.1 87.1L86.7 86.9L87 86.3L88.3 86.4L89.4 85.1L89.5 84.7L90.8 84.8L90.6 85L91.4 84.1L91.4 84.1L91.9 84L91.9 83.8L91.1 83.3L91.8 83.1L91.7 83.1L92.6 83.1L91 83.2L92.1 82.6L92.6 82.4L93.3 82.4L93.4 82L93.2 81.8L94.2 80.9L94.1 81.8L94.6 80.6L95.2 80.3L95.9 79.8L97.4 80.1L96.9 80.1L97.7 79.4L99.4 79.1L100 78.8L100.8 79.5L101.1 78.6L102.1 77.9L102.4 77.8L102.9 77.8L103.4 77.1L104.2 76.8L104.6 76.3L104.9 75.9L106.2 75.8L106.2 76L106.3 75.3L106.4 74.9L107.4 74.6L107.3 74.9L108.2 74.7L108.7 74.6L109.3 75.2L110.4 75.1L109.6 75.4L112 75L112.2 74.5L112.4 74.7L112.9 74.1L114 74.1L114.2 72.7L115.5 72.4L115.3 72.1L115.6 72.1L116 71.2L117.1 70.2L118.1 69.9L117.8 70.1L119.2 69L119.5 69L119.4 69L120.4 68.7L119.4 68.7L119.5 68.7L120.7 68.3L120.9 67.4L121.2 68.2L121.3 67.9L121 66.9L122.2 66.8L122.3 66.1L123.4 66.9L123.7 65.9L123.9 66L125.3 65.8L126 65.9L126.7 65.3L126.7 65.1L127.1 65.4L128.3 65.6L128.3 65.1L128.6 65.4L129.3 64.9L129.7 66.2L129.8 65.4L129.9 66.1L131 66L130.5 65.9L131.5 65.7L132.1 64.8L132 64.8L132.8 64.1L134 63.9L134.1 63.2L134.2 63.9L135.7 62.7L135.5 62.6L135.9 61.6L137 62.4L136.1 61.5L136.9 61.3L137.1 61L138.4 60.3L138 59.9L139.7 60.5L139.4 59.7L139.8 59.7L140.6 60.3L140.7 59.2L140.9 59.9L141.6 59.2L142.4 58.5L142.6 59.1L143.6 59.2L143.9 59L144.7 58.3L145.3 57.9L146.5 58.5L147.4 58.8M85.7 87.3L86.1 87.4L86.4 87.3L86.2 87.4L87.1 88.4L86.6 88.2L86.2 87.5L87.3 88.7L88.1 88.1L88 87.9L87.8 87.3L88.8 87.1L89.9 86.9L90.2 87.6L90.8 85.6L91 85.2L92.2 85.2L92.6 84.5L94.1 83.7L94.2 84.7L94.9 83.3L94.4 83L95.3 83L96 83.2L96.6 83.1L96.8 83.1L96.2 82.7L97.9 82.2L97.1 82.6L97.4 81.8L97.8 81.3L97.8 81.5L98.4 81.3L98.6 80.3L99 80L99.1 79.8L99.6 79.3L100.2 79.2L100 79.4L100.2 79.2L101.3 77.8L101.6 79.2L102.5 79L102.6 77.9L103.7 78.7L104.2 77.4L104.8 78.2L105.9 77.2L106.8 77.3L107.7 76.9L107.9 76.9L109.2 75.9L109.9 76.9L110.2 76.6L110.4 76.3L110.6 76.8L111.7 76.3L111.3 77.1L112.4 76.7L111.5 76.8L111.7 75.5L112.9 75.5L112.5 74.3L113.6 74.6L113.3 73.8L113.6 73.3L114.2 73.5L114.9 72.7L115.2 72.8L115.3 71.7L115.7 71.5L116.6 71.7L116.5 70.4L117 70.7L117.6 70.8L119.9 69.8L119.8 70.5L120.2 69.6L120.5 70.1L121.5 69.3L121.4 69.9L122.5 68.4L123.6 69.3L123.8 68L123.9 68.9L124.8 68.2L125.2 67.2L126.3 68L126.6 67.4L126.9 67.3L128.3 67.1L127.9 67.2L129.3 66.4L129.7 66.4L130.3 65.3L130.9 65L132 64.9L133.2 64.7L132.6 63.7L133.9 63.2L134.8 63.1L134.6 62.8L135 62.1L136.2 63.5L135.9 62.1L136.1 61.7L136.7 62.2L136.9 62.3L137.4 62L137.7 61.8L138.5 62L138.5 62.2L139.1 61.8L138.9 61.8L139.8 62.3L140 62.5L141.3 62.2L141.5 63.9L142.4 63.6L142.5 64.2L142.9 64.2L144.2 63.4L144.6 64.8L144.8 63.4L145.9 63.5L146.3 63.8L147.7 63.2L147.7 63.4L148.5 63.1L148.8 62.2M86 93L86.5 93.2L87 92L87.4 92.2L87.8 91.1L87.3 90.6L88.5 90.4L87.8 89.7L88.8 89.6L88.8 89.3L87.9 88.7L89 88.6L89.5 88.6L89.9 87.9L90 87.5L90.6 87.6L90.7 87.4L91 86.6L91.9 86.9L93.5 86.5L92.3 87.3L92.9 86.3L93.8 86.4L93.8 86.5L95 85.5L95.2 85.5L96.6 85.9L96 85.9L97.1 85.2L97.3 85.5L98.6 85.4L98.9 85.1L99.4 85.1L100.2 84.3L101 83.5L101.9 83.7L102 83.3L103.2 82.5L103.2 82.1L103.6 82.4L103.9 82.3L104.4 82.6L105.4 82L104.7 82.2L105.5 82.1L106.1 81.5L106.8 81.4L107 80.2L107 80.1L108.9 80.1L109.6 79.6L110.4 79.3L111 79.1L111 78.2L112.6 78.9L112.5 78.3L113.3 78.2L114.4 76.9L114.4 76.9L113.8 76.3L114.4 76.2L115.1 76.3L115 75.9L114.7 75.7L114.4 74.4L114.9 74.6L115.4 73.4L116.1 73.6L117 73.4L117.6 72.3L117.1 72.4L118.2 72.7L118.8 72.7L119.5 72L120.6 71.8L121 71.9L121.1 72.6L122.6 72.6L122.1 72.4L122.3 72.6L122.9 72.5L124.2 72.1L124.1 72.5L123.9 71.1L124.8 71.2L124.8 71.2L126.2 71.7L126.6 70.7L126.1 72.2L127.8 72.1L128.8 72.1L128.4 70.7L129.5 71.6L129.8 71.3L130.5 71.7L130.1 70.8L131.3 70.7L131 69.8L131.9 70.3L131.8 70.2L131.5 69.1L131.4 67.8L131.8 67.9L132.9 67.3L133 67.5L133.1 66.9L133.5 66.9L133.7 66.5L134 66.1L134.7 66.2L135.3 65.1L135.8 65.9L136.8 65.1L138.3 64.7L137.3 65.3L139 65.1L139.4 65.2L139.6 65.2L140.9 64.4L142.3 64.8L141.4 63.7L142.6 64.1L142.6 63.7L144.1 63.3L144.3 62.8L144.6 63.5L144.8 62.6L145.7 63L146.1 64L145.7 64.2M85.6 94.3L85.4 93.6L86.3 93.8L87.4 92.7L88.4 91.8L88.2 93.1L88.7 92.5L89.8 91.4L90.4 91.1L90.2 90.4L91.5 91.2L92.3 89.7L92.3 90.1L92.9 89.7L93.5 88.8L93.1 89.4L94.1 88L94.1 88.4L94.9 87.8L95.3 87.7L95.5 86.4L95.6 86.8L96.1 86.9L96.2 85.8L96.9 86.3L97.3 86.4L98.4 86L98.6 84.9L99 85.6L98.8 84.4L99.3 85L100 83.7L101 83.9L100.5 83.2L101.3 84.4L102.4 83.7L102.7 82.6L103.8 82.5L104.1 83.1L104.2 82.8L104.7 82.4L105.1 82.4L105.6 82.5L106.5 82.1L106.3 81.5L106.4 81.8L107.3 82.3L107.2 82.2L108 82.2L107.8 81.9L107.7 81.3L108.6 81L108.5 81.4L109.3 80.1L109.7 80L110.7 80.5L111.2 80L111.2 79L111.8 78.4L111.8 78.2L112.3 78.7L113.2 78L113.7 78.1L113.7 76.8L114.8 77.6L115 76.6L116.1 76.6L115.9 77.1L117.3 76.1L117.6 76.1L117.9 75L118.9 74.9L119.3 74.6L119.5 75.5L120 74.7L121.4 75.2L121.5 75.8L122.3 74.7L122.9 75.1L122.5 74.5L122.8 75.3L122.7 74.9L123.7 75.3L123.5 74.9L123.7 75.1L124.5 73.8L125.3 73.8L125.4 74.5L125.1 74.2L127 73.8L127.1 73.5L127.3 73.5L128.1 73.2L128 73.7L128.7 73L129.4 73.3L129.5 72.5L130.5 73.5L130.2 72.8L131 72.4L131.4 72.1L131.2 71.4L131.8 71.8L132.1 71.6L133.6 71.6L133.6 70.5L133.4 69.5L134.2 69.3L134.4 69.3L135.8 68.6L135.2 68.1L136.8 69.1L136.6 68.1L137.6 68.2L137.7 69.2L137.7 68L139.7 68.7L140.2 68.8L140.7 68.5L141.4 68.4L142.3 68.4L142.1 68.5L142.9 68.1L144 68.8L144 68.9L144.8 67.1L145.2 68.2L146.6 67.8L146.4 67.7L147.7 67.8M86.7 89.2L86.9 88.9L87.6 89.4L88.5 88.6L88.9 88.4L88.8 87.6L88.6 88L89.7 87.5L89.8 86.6L89.4 86L90 85.6L90.4 86.1L91 85.2L90.6 84.1L91 83.7L90.8 83.1L91.4 83.8L91.5 83.1L92.2 82.4L91.7 82.5L92.7 81.3L92.3 81.8L93.3 81.6L94.1 80.4L94.8 80.3L95.9 80.8L96.8 80.8L97.8 79.8L98.3 79.6L99 80.7L99.6 80.3L100.5 80.7L100.4 80.8L101.8 81.2L101.6 79.9L101.4 80.6L100.8 80.9L101.7 80.7L101.9 80L102.3 79.8L102.5 80.9L103.3 79.2L102.4 80.5L103 79.4L103.6 79.1L104.2 78.6L103.6 79L105.2 78.8L105 78.6L105.6 78.2L106.7 77.7L107.8 77.5L108.4 77.2L109.3 76.9L110 76.7L111 76L111.2 76.4L112.1 75.3L112.9 75.2L113.4 75.1L114.1 74.8L114 74.2L114.5 74.2L115.6 74.1L115.6 73L116 73.3L116.5 72.9L116.9 72.3L116.3 72.1L117.5 71.9L116.7 71.5L117.7 70.9L117.2 71.1L118 70.6L118.4 71.2L119.1 70.3L119.7 70.6L119.8 69.6L121 69.9L121.7 69.4L122.8 69.5L123.3 70.2L123.9 70L125.1 69.1L126 69.8L125.5 69.1L127.1 69.4L127.2 69.5L127.9 68.9L127.8 68.3L128 68.7L129 67.8L129.1 67.9L129.4 67.6L130.2 67.1L131.3 66.2L131.9 66.4L132.7 65.9L132.8 66.1L132.7 65.7L134.5 65.5L134.5 65.1L134.4 65.1L135.1 64.5L135.5 64.4L135.6 63.9L136.6 63.1L137.1 62.5L137.5 62.2L138 61.8L138.2 62L137.9 61.6L138.6 61.1L139.4 61.1L139.4 62.3L139.7 61.1L139.6 61.6L140.3 61.8L140.3 62.1L140.9 61.2L141.4 61.7L142.2 61.7L142.4 62.6L142.6 61.9L142.9 62.5L144.9 61.4L145.4 61.3L145.1 61.6L146.6 61.4L147.7 61.1M147.5 63.5L146.2 63.6L145.4 62.1L144.7 60.5L145.8 59.4L148.8 58.8L151.2 58L153.5 57.6L152.7 57.1L151.2 58.4L149.5 60.5L147.7 63.5L146.7 65.5L146.9 65.7L145.6 63.7L144.5 62.6L142.5 61.5L140.8 60.6L139.7 59.9L140.4 60.2L141.9 60.7L144.7 61.3L148 62L150.4 63.4L152.9 65.3L155 65.3L154.1 65.2L152.9 64.1L152.4 63L149.7 61.3L150.4 62.2L151 63.1L153.2 62.3L152.5 60.4L149.9 58.7L147.3 58.7L145.5 61.3L143.4 63L144 65.3L144.2 63.9L142.9 62.8L141.7 60.5L141.2 59.2L140.7 59.4L141.9 61.9L143.5 62.5L145.2 61.8L146.3 60.9L147.2 61.9L148.5 63.7L149.4 66.9L152.6 67.5L154.1 67.1L156 67.1L155.4 67.4L154.6 67.2L152.5 66.1L150.6 64.8L151.3 64.5L151.3 62.1L152.6 60.6L150.7 60.4L149.2 60.7L147.5 60.3L147.8 60.2L149.6 60.1L150.1 58.8L149 57.5L147.3 57.5L144.5 57L141.6 57.8L139.8 59.8L141.6 62.4L144.8 64L147.9 65.1L150.5 65.1L149.5 63.8L146.3 62.5L144.1 61.5L143.5 62.1L144.8 61.8L146.1 61.7L148.3 60.8L149.7 61.9L149.6 64L148.8 64L147.3 63.2L146.5 61.7L146.1 60.2L148 60.8L150.2 61.9L153.2 63.5L152.8 65.2L153 64.7L153.3 64.4L152.7 62.7L152.3 61.5L152.9 60.5L153.6 59.3L154 59.6L151 60.1L149.6 59.6L148.2 59.8L149.3 61.8L150.7 63.2L150.5 64.5L150.7 64.2L151.9 61.9L151.8 60.7L151.5 60.4L151 61.5L151.2 61.6L150.8 60.7L151.1 59.3L151.1 58.5L151.7 59.3L154.3 61L157.4 62.3L159.3 62.8L158.7 63L155.3 62L151.6 61.1L150.7 61.3L151.4 60.3L154.3 61.3L155.1 60.9L155.6 61.7L154.4 63.1L150.7 64L147.6 64.9L146.4 67.3L147.2 67.1L149.1 64.5L149.8 63L151.3 60.4L152.1 56.5L152 54.9L150.2 52.7L146.7 51.8L145.3 51.2L145.4 51.8L146.4 54L146.4 56.2L145.5 57.2L145.4 58.6L147.4 60.5L150.4 60.4L150.5 61.5L149.2 62.2L147.4 61.6L148.5 60.8L148.5 60.4L149.1 60.6L149.4 60.6L148.5 60.4L146.3 60.9L144.5 62.6L144.2 64.4L145.2 65.9L147.3 63.7L148.7 61.5L150.4 58.3L151.5 57.2L152.6 58.7L152.5 59.7L153.2 59.8L154.5 60.5L152.8 60.2L151.4 59.5L147.4 60.2L143.6 59.9L139.6 60.4L140.9 60.5L143.6 61.3L145.7 62.1L146 64.8L145.3 65.2L144.2 64.3L145.1 62.6L148.9 60.5L153.5 60.5L157.5 59L160.4 57.8L161.7 57.5L161.9 57.1L160.7 57.8L159 59.5L156.2 60.1L154 62.5L154.5 65.3L153.6 67.2L151.8 69L150.2 71.5L148.7 71.3L146.2 71.1L144.7 69.8L143.4 67.7L143.2 66.8L143.8 66.4L144.2 65.5L145.1 65.6L144.5 64.1L142.8 65.5L141.9 67L142.7 66.9L147.3 65L149.3 62.7L150.4 60.8L150.4 59.8L151 59.8L153.3 60.6L154.4 62.7L154.1 64.8L152.7 66.5L149.5 66.6L148.5 64.9L146.9 61.6L145.6 58.1L145 58L144.6 59.1L147.5 59.9L148.7 59.6L151.5 58.4L152.2 57.9L152.2 58L153.7 59.1L153.8 59.2L154 58.7L153.3 57.7L152.5 57.8L151.7 58.2L151.3 60.7L150.3 61.6L149.6 62.4L150.9 63.2L149.6 62.6L148.4 61L146.3 59.7L145.1 59.5L145.7 59.4"/></defs>
<defs><path id="tbblack" d="M128 211.2L129.6 211.9L131.8 211L135.7 211.7L137.9 211L137.1 210.2L135.3 208.8L135.4 208.5L134.3 208L133.9 209.5L132.7 210.1L131.4 210.9L130.7 211.4L129.7 211.2L130.7 211.5L131.1 211.8L131.6 210.4L130.2 209.7L131 209.9L130.6 209.7L131.8 209.2L132.6 208.4L134.9 209L136 209.9L135.6 210.4L135.5 210.9L134 211L133.1 211.2L134.7 210.8L136.6 209.1L137.5 207.5L136.6 205.7L133.9 205.3L131.1 203.9L130.4 204.4L129.5 204.8L130.9 205.6L132.8 206.8L135 207.3L137.6 207.9L138.1 208.7L137.2 209.8L134.7 210.9L132.7 211.8L131.7 211.2L131.2 210.2L129 210.3L128.1 210.3L125.9 211.2L125.4 211.8L126.3 211.5L129.2 210.2L132.8 210.3L135 210L135.6 210.7L135.9 209.9L136.3 208.9L135 208.4L135.7 209.6L136.1 211.8"/><path id="tbblue" d="M110.7 211.2L110.3 211.7L110.3 212.3L110.1 213.8L110.1 213.9L110.1 213.8L110.3 214.6L111.6 214.9L111.8 214.5L112.7 214.7L114.1 214.1L114.2 213.4L115.4 214.2L115.5 214.2L116.5 214.3L117.6 214.2L118 214.3L118.1 214.8L118.6 215.1L119.7 215.4L119.7 215.6L120.7 215.5L121 215L121.3 215.2L122.1 214.7L123.1 215.5L123.8 215.6L124.5 215.9L126 215.8L126.9 216.3L128.1 215.7L129.5 216.3L130.3 216.2L131.3 216.4L131.3 216L131.5 216.5L131.5 216.3L131.6 217.2L130.8 217.5L130.6 218.4L130 218.4L129.7 219.6L129.7 220.5L130.5 220.6L129.6 222.8L130.1 223.1L130.4 223.3L130.8 224.7L131.4 225L132.7 223.9L132.6 224.8L134.1 224.8L134.6 225L135.1 224.7L136.2 224.9L137.3 225.1L138 224.4L139.6 225.5L140.1 226.1L140.7 225.9L140.6 226.4L141.3 226.7L141.1 226.4L142.2 226.6L141.4 226.8L141.6 226.7L141.8 228L141.6 227.6L141.7 228L141.9 228.5L142.7 229L142.5 228.5L143.2 229L144 229.9L144.1 230.4L143.5 230L143.4 230.1L143.5 231.1L143 231.3L143.3 231.2L142.6 231.4L142.1 231.5L141.2 231.4L141.1 231.5L140.2 231.6L139.4 231.1L139 231L139.6 229.7L138.2 228.9L137.8 229.1L138.2 228L137.9 227.8L137.4 227.5L137.7 226.8L136.5 226.5L136.4 227L135.5 225.8L135.8 226.8L134.5 225.8L134.3 226.4L132.4 226L131.2 225.7L129.4 225.4L128.2 224.8L127.3 223.7L126.8 223.8L125.3 222.8L124.2 222.1L124.7 220.9L124.3 220L123.3 219.6L123.4 218.8L123.2 217.9L122.8 216.9L121.5 216.6L121.6 216.3L120.9 216.9L121.2 216.6L120.6 216.5L119.9 216.6L120.3 216.6L120.4 217.5L119.6 217.2L119.6 217.7L119.7 218.6L119.7 218.8L119.4 218.7L118.6 218.4L118.3 218.5L118.4 219.2L118 219L117 219.4L116.8 218.6L116.8 218.6L115.5 218L114.8 218.5L114.1 216.9L113.9 217.2L113.1 216.9L112.7 215.3L112 214.4L111.7 213.9L111.2 213.2L110.5 213.3L110.5 212.7L109 212.1L109.3 211.9L108.6 212.1L108.5 211.1L108.7 210.6M109.8 211.6L110.2 211.5L110.6 212.3L111.5 213.5L111.1 212.3L112 213.1L112.6 212L112 212L113.7 212L114.4 211.1L115.2 211.8L116.3 210.9L116.7 212L118.3 212.4L119.2 213.2L119.4 213.8L120.5 214.2L120.7 214.3L121.6 213.9L121.5 213.7L121.9 214.2L121.4 214L121.6 213.7L121.6 214L121.6 215.1L122.1 215.8L122.5 216.7L121.3 217.6L122.3 217.9L122.1 219.2L122.4 219.4L122.7 220.3L123.2 220.3L123.8 220.8L124.7 220.1L125.6 219.4L125.9 219L126.5 218.7L127.3 218.6L127.8 218.7L128.9 218.3L128.5 218.7L129 220L130.1 220.5L131 221.7L131.5 222.2L132.3 223.2L131.8 223.3L132.9 222.9L133.3 223.3L133.3 223.7L133.7 223.3L134 223.8L134.3 224.3L133.9 224.7L133.7 224.9L134.5 224.5L135.1 225.7L134.7 225.3L134.9 225.9L134.7 225.9L135.5 226.8L136.5 226.8L135.9 227.3L137.6 227.8L137.4 228.1L139.4 228.5L139.9 229.7L140.4 229.9L141.4 230.5L142.6 230.1L142.5 230.5L144.1 232.1L144.7 232.1L144.8 231.2L145 231.5L143.6 230.8L143.6 229.7L142.7 229.1L142.5 229.2L142 227.8L140.6 228L140.6 227.5L140 227.4L139.2 228.8L138.9 228.2L138.8 227.8L138 227.6L137.7 227.2L136 226.3L135 226.2L135 225.7L133.2 224.8L133.3 224.5L132.4 223.8L132.3 224.1L131.8 223.1L132.4 223.5L132.7 223.9L132.9 223.2L132.9 224.1L132.5 222.8L133.3 223.1L132.9 223.3L133 223.7L131.5 223.9L131.6 223.6L130.5 223.1L129.7 224L129 223.6L128 223.5L127.1 222.5L125.8 223.1L124.9 222.9L123.9 223.3L122.6 223.6L122.6 222.8L121.2 223.1L120.6 222.9L120.2 222.2L119.2 221.9L118.6 221L117.2 219.3L117.2 218L116.5 217.1L116.1 215.2L116 214.9L115.3 214.4L114.9 214L114.6 213.3L114.5 214.3L114.2 214.8L113.6 214.2L113.2 215.7L113.4 216.1L112.9 216.4L112.9 216.3L113 217.1L112.7 216.4L112.6 216.3L112.6 215.9L112.8 214.9L112.7 213.5L112.4 212.4L111.5 210.8L111.3 209.5L110.8 207.9L110.3 206.7L111 206.2L109.6 205.5M111.2 208.5L111.3 209.5L112.3 210.4L112.2 210.2L113.2 210.6L113.4 211.6L112.9 212.3L113.8 213.1L113.8 212.9L113.9 214.2L113.8 214.4L114.9 214.6L115.4 214.6L115.9 215.4L115.9 215.8L116.7 215.7L117.3 215.6L117.9 215.2L118.3 214.9L119.5 213.8L119.8 214.3L119.9 213.7L120.5 213L120.9 213L120.9 212.7L121.2 213.3L121.6 214.4L121.4 214.7L122.4 215.4L122.5 216.4L123.4 217.3L124.4 217.3L124.4 218.1L125.5 218.4L125.8 218.5L126.4 218.6L125.8 218.5L125.3 218.6L126.6 219.4L128.1 219.1L128.1 220.3L128.6 219.9L129.5 220.6L130.5 221.1L131.3 220.8L133.1 221.8L133.3 222.3L133.7 221.8L134.4 222.4L135.4 223.1L135.9 223.4L136.5 223.7L136.8 223.1L136.9 223.7L136.3 224.5L136.8 223.8L136.5 224.2L137 225.1L136.8 225.6L137.9 225.7L138.4 226.4L138.5 227.2L138.6 227.7L139.8 228.6L140.1 228.5L140.2 228.5L141.4 228.5L142.1 228.8L142.7 229.5L142.7 228.6L144.2 228.6L145 228.9L145.1 229.7L146.2 229.8L145.9 230L145.3 230.6L143.4 230.9L142.9 231.7L142.2 232.1L140.6 231.6L140.3 231.6L140.1 232.1L138.4 231.7L138.9 231.3L138.3 231.4L137.3 230.5L136.8 230.6L136.4 230.8L136.3 229.2L135.1 229.6L135.8 229.1L134.9 229.4L135.2 229.1L135.2 228.2L135.7 228.2L135.1 227.7L135.1 228.1L135.7 227.1L135.6 227L134.7 226.9L134.2 226.1L134 225.4L133.4 224.9L132.8 224.4L131.9 224.1L130.9 223.4L131.3 223.1L130.7 222.3L130.8 222.3L130.5 221.8L130.4 221.8L129.4 221.2L129.4 221.2L128.2 222.4L128 222.5L127.3 222L126 222.8L125.3 223.3L125.3 223.5L123.3 223.6L123.2 222.7L122.1 221.7L121.8 220.7L119.9 219.7L119.5 218.9L119 217.8L118.7 217.1L117 216.6L115.5 215.5L114.5 214.1L113.8 213.9L111.9 213.4L111.5 212.5L110.7 212.1L110.2 212L110.3 212.2L110 211.6L110.8 212.4L111.3 212.6L112.3 213.3L112.3 213.5L112.5 213.1L112.1 213.4L112 212.6L111.2 211.9L111.5 211L109.5 209.7L109.8 209.8L109.2 208.6L108.8 207.5M110.6 208.4L110.8 208.4L112.1 208.4L112.4 209L113.1 209.3L114.4 210.6L114.7 211.5L115.4 212.1L115.1 213L116.6 214L116.8 214.3L117.5 214.6L117.3 215L117.3 215.4L118.4 215.3L118.3 215.1L118.4 214.4L118.3 214.6L119.4 215L119.5 214.6L119 215.3L119.7 215.4L119.8 215.7L120.3 216.7L120.1 217.4L121.2 217.5L120 218.1L120.5 217.7L121.6 217.5L122.1 217.1L122.3 217.4L123.4 217.5L123.2 216.5L122.9 215.9L124.4 216.4L124.2 216.6L124.4 217L125.2 217.2L125.7 218.7L126 218.7L127.4 219.4L128.3 219.4L129.2 220.4L130.4 220.9L130.9 220.8L132.3 220.2L133.1 221L133.8 220.6L134.8 221.2L134.6 221.6L134.6 222.4L134.5 222.8L135 223.1L135.2 223.6L135.6 224.6L136.5 224L136.7 224.6L137.8 225.8L139.2 225.3L139.7 225.2L140.1 225.9L140.7 226.4L140.9 226.1L141.8 226.9L141.7 227.2L141.7 228.2L140.9 228.5L140.8 228.6L141.1 229.3L140.5 228.8L140.9 229.6L141.9 229.1L142 228.4L142.5 228.4L143.3 228.4L142.7 227.7L142.3 226.8L142.2 226.7L141.3 226.5L141.8 226.4L141.4 225.8L141.2 226.6L140.9 227.5L140.9 226.5L139.8 226.5L140.1 226.5L140.2 226.9L139 226.7L138.3 226.9L137.7 227.3L136.8 226.3L137.6 226.8L136.1 227.4L136.1 226.8L135.2 226.3L135.2 226L135.1 224.6L134.9 225.3L135.2 224.6L135.6 224.8L134.5 224.3L134.4 224.3L133.8 223.5L132 223.4L130.9 224.5L129.6 223.6L127.6 223.2L126.5 223.5L125.1 222.9L124.8 222.5L124.7 222.4L123.8 221.5L123 220.9L122.3 220.3L121.6 219.3L121.2 219.5L121.7 219L121.1 218.2L120.6 218.6L120.4 216.9L120.3 216.4L121 215.8L120.5 215.4L120.6 215.3L120.5 214.6L120.8 214.6L120 215.1L119.8 214L118.2 214L117.2 214.3L115.9 215.3L115.3 215.5L113.8 216.1L113.1 216.5L113 216.9L112.3 218.2L111.7 218.3L111.6 217.4L110.5 217.1L111.1 216.5L112.3 215.6L111.7 215L111.8 214L112.2 212.2L111.2 210.6L111.4 210L111 209.1L111 207.2L110.8 207.2L111.3 206.4M108.5 212.2L108.8 212.1L110.6 212.2L111.1 211.6L112.3 211.7L112.4 211.4L113.2 210.8L113.5 210.7L114.3 210.9L114.7 210.9L114.3 211.4L114.8 210.4L114.6 210.2L115 211L114.9 210.7L115.4 210.6L116.4 210.9L117.5 210.4L118.3 211.5L119.4 212L120 212.5L121.3 213L121.6 213.8L121.7 214.9L122.9 214.8L122 216.2L123.1 215.7L122.8 215.9L123.1 216.7L124 215.6L123.4 215.2L123.8 215.3L124.3 214.8L125.6 216.1L126.9 216.2L127.4 217L128.5 217.7L129.6 219.3L130.4 220.8L131.3 220.6L131.3 222.1L131.4 223.5L132.2 223.4L132.4 223.4L133.2 222.6L133.1 222L132.9 222.1L134 221L134.2 220.5L134 218.9L135.3 220L135 220.4L135 221.1L135.6 221.4L136.3 223L136.5 224L136.3 224.5L137.6 224.4L137.1 226L137 226.8L137.4 227.6L137.7 227.7L138.5 228.6L138.8 228.8L138.3 229.2L139.6 229.4L140.6 229.7L141.7 230L142.9 229.7L143.8 228.9L144.2 229.2L146 228.6L146.5 228.6L146.2 227.4L147.3 228.4L146.4 227.6L145 227.4L144.6 227.4L143.7 227L142.4 227.2L140.8 226.6L139.6 227.8L138.3 227.5L136.9 227.6L136.1 227.5L134.6 227L134.1 227.3L133.4 226.1L133 226.7L132.4 227L131.9 226.7L131.6 227L131.5 226.8L132.2 227.3L131.4 227.3L131.1 226.6L131.1 226.6L131.3 226.8L131 226.6L129.8 226.6L130.3 226.4L129.3 226.2L129.3 225.4L128.5 225.4L126.9 225L125.9 223.6L125.1 223.6L124.5 223.1L124.2 222.9L123.8 221.8L123.6 222.4L123.7 222.3L123.4 222.7L123.6 222.7L123.7 221.2L123.8 221.7L122.8 221.7L122.1 221.5L121.8 221.2L120.9 220.4L120.2 220.4L119.3 220.6L119 220.7L118.3 220.5L117.9 220.1L117.9 219.2L117.1 219.9L117.5 219.8L117.7 219.5L116.4 219.4L116.2 219.1L116.2 219.4L115.3 218.5L115.2 218.7L114.2 219.3L113.2 219.3L112.6 219L111.1 219.7L110.2 219L109.1 219.3L109.1 218.8L108.3 217.6L107.6 217.5L107.5 216.6L106.8 215.5L106.9 215.3L106.7 214L106.1 213.4L106 212L106.8 212M123.8 213.4L122.4 211.8L121.4 211.3L120.4 212L120 212.5L119.1 214.5L117.6 214.5L115.2 215.1L112.5 214.5L111 213.9L111.8 213.6L112.7 213.2L115.2 213.3L117.1 212.3L117 212.9L118.1 212.6L115.9 213.6L116.2 215.3L115.9 216.8L117.3 217.7L119.5 218.1L121.3 217.3L122.9 215.2L123.9 214.7L125 214L124.4 215.4L123.1 216.8L120.8 217.6L119.1 218.6L118.9 217.9L118.9 216L119.8 215L121.7 213.1L123.1 212L124.2 212.9L125.1 213.5L123.1 213.6L120 215.5L115.7 215.3L115.3 215.9L116.2 215.6L116.6 215L118.9 212.6L119.6 212.3L120.6 209.9L121.1 209.5L120.8 210.2L119.9 210.3L119.5 212.1L121.1 213.5L121.4 215.2L120.6 216.9L120.8 219.6L119.2 220L117.4 220.4L117.1 219.4L117.7 216.2L119.3 212.7L122.4 210.9L124.1 209.3L125.7 209.8L125.2 210.8L123.6 210.5L121.9 210.2L122.9 209.1L123.2 211.2L123.6 213.1L124.4 213.1L124 214.5L122 215.4L121.3 215.5L118.1 215.5L115.3 216.4L112.4 217.2L110.4 217.1L110.5 216L113 213L117.6 210.9L121.3 211.2L124.7 212.1L127.6 213.3L128.1 213.8L128.1 213L126.1 211.7L123 212L120.1 211.9L116.6 213.2L115.1 214.5L114.6 215.2L114.7 214.9L115.2 213.8L116.2 214.2L117.2 212.7L118.3 214.8L118 214.4L117.1 215.4L117.5 214.2L116.6 215.1L117.4 216.5L117.7 215.8L117.9 217.5L119 217.8L118.8 218.9L118.8 218.5L118.9 219L119.6 219.8L120.6 219.9L121.2 219.5L121.7 219.4L123.1 218.1L122.5 216.7L119.4 215.1L115.3 213.5L110.9 212.5L107.6 212.4L106 212.2L105.8 212.2L107.2 212L109.1 211.2L112.2 211.6M135.9 224.6L134 224.4L134.5 222.6L134.9 224L135.9 223.3L137.2 224.7L137.2 224L135.7 223.4L134.1 223.8L132 222L129.4 221.5L128.4 221.6L130.4 224.2L132.8 226.3L135.1 227.7L136.2 228.1L136.3 228.1L136.5 226.8L136.4 226.9L136 227.1L135.5 228.2L137.2 227.9L138.1 229.2L138.2 228.2L138.2 226.3L137.9 224.8L137.2 222.2L136.6 221.5L135.1 221.4L133.9 220.7L132.3 221.3L131.4 221.4L131.2 223.2L131.3 224.3L131.4 227.2L131.6 227.8L132.3 228L134.3 226.1L138.7 224.1L143.2 221L145.2 219.1L145.2 217.8L143.5 218.9L141.9 218.9L140.4 220.7L139.6 222.2L139.5 223.8L139.3 225.6L138.3 225.8L133.2 225.5L131.3 225.2L129.3 225.1L130.6 223.7L132.9 223L136.6 223.1L137.8 223.4L136.8 222.9L133.3 221.2L131.8 220.3L132.3 219L135.6 219.1L138.7 219.2L141.4 220.9L140.4 222.4L139.4 223.5L139.9 225.6L139.9 226.1L142.1 226.9L143.9 224.8L145.8 224.5L146.5 223.4L144.9 225.8L142.1 226.7L138.5 227.1L136.9 226.3L137.9 224.7L138.8 221.6L141.3 220.2L141.2 218.2L140.7 219.5L139.2 221.1L137.9 222.2L138.5 224.2L141.2 224.7L144.1 224.5L144.7 223.7L144.1 222.8L142 224.1L137.8 224.4L134.9 225.5L130 227.1L129 227.9L129.1 229L129.8 228.8L133.2 228L133.5 224.1L134.9 223.9L133.3 223.3L132 223.6L131 224.4L131.2 224.7L131.4 224.6L132.3 224.4L131.2 224.9L129.6 225.8L128.8 225.8L131.8 226.4L135.3 225.8L141.6 223.7L141.4 221.5M123.8 213.7L123.7 213.2L123.8 212.1L123.6 212.3L124.4 212.1L124.7 211.3L124.6 210.4L125 210.4L125.3 209.2L125.3 209.5L125.9 209L125.6 207.9L126.1 208.3L126 207.5L125.7 207L125.9 207.4L126.7 207L126.6 206.3L127.4 206.8L127.8 206.9L127.6 206.6L127.8 206.9L128.9 207L128.5 207.3L128.6 206.9L128.9 207.9L128.8 208L128.7 208.1L130 208.6L129.3 209.1L130.2 209.7L130.6 209.7L130.9 210.4L131 210.1L130.6 211.1L131.6 211L132.1 212L131.8 213.2L132.2 213.2L132.9 213.4M124.3 213.1L124.7 212.4L124.4 212.4L124.1 211.9L125 211.3L125.6 211.3L124.8 210.6L125 210L124.8 210.5L125.7 209.5L125.1 208.4L125.2 208.4L126.3 207.5L125.1 207.2L124.8 206.2L126.5 205.7L125.8 205.7L125.9 206.1L126.3 205.5L127.4 205.7L128 204.6L127.7 205.6L127.8 205.5L128.5 205.7L128.2 205.9L129.1 206.2L128.8 205.7L130 205.8L130 206.7L130.1 206.7L131.2 207.3L131.3 206.5L131.5 207.3L131.8 208.4L132.1 208.8L131.7 208.9L132.1 209.9L132.8 209.8L133 211L133 211M129.3 225.3L130.3 226.1L131.4 225L131.6 226L131 226.6L130.9 226.5L131.7 226.8L131.4 228L132.4 227.1L132 228.8L133.2 228.2L132.5 228.9L132.9 228.9L133.1 229.8L134.1 229.7L134.8 229.6L135.3 229.9L135.8 229.4L135.9 230.3L137 230.3L137.9 231.4L138 230.6L139 230.9L138.8 231L139.3 231.4M131 223.6L131.2 224.1L130.7 224.8L130.9 225.3L132.5 225.5L132.3 226.4L133.5 226.7L133.6 226L134.2 226.8L134.2 227.8L134.8 228.2L134.7 228.8L134.8 228.9L135.2 228.5L135.2 228.9L135.9 229.2L135.1 229.2L136.6 229.5L136.7 229.6L136.6 229.9L137.9 229.5L137.1 229.7L137.5 230L138.8 229.5L138.7 229.8"/><path id="tbred" d="M77.4 209.6L77.5 208.8L77.5 206.8L77.9 205.9L78 204.6L77.7 202.8L78.3 201.2L78.7 200.1L78.9 198.3L79.8 196.8L80.7 195.9L81 194.4L82.2 192.7L82.9 192L83 190.6L83.9 190L85 188.9L85 188.1L85.6 187.3L86.5 187.2L87 186.9L87.8 187.4L89.1 186.8L89.7 186.4L90.7 187.6L91.6 186.5L92 187.8L93 187.4L93.9 188.5L94.6 188.4L95.5 189.1L96.7 189.2L97.5 189.5L98.6 189.9L99.8 189.7L100.8 190.3L101.2 190L102.4 190.1L103.6 190.2L104.9 190.3L105.9 191.4L106 191.5L106.9 192.1L107.8 192.7L108.8 193.6L109.6 194.5L109.7 194.7L110.7 195.5L111.4 195.9L112.8 196.7L113.5 196.7L114.1 198.2L114.9 199L115.9 199.2L116.9 200.2L117.1 200.6L118 201.9L118.8 202.6L119.5 204.1L120.2 204L120.3 204.6L120.9 205.6L120.9 206.1L122 207.4L122.7 208.3L122.2 209.3L123 209.9L123.8 210.5L123.8 211.8L123.6 212.4L124.9 213.2L124.6 213.4L125.9 214.2L125.8 215L126.3 215.7L127.1 215.8L127.8 217.5L128.7 217.7L129.4 218.6L130 219.2L131.2 220L131.9 220.2L132.6 220.8L133.4 221L134.1 221.9L134.8 223L135.7 222.6L136.3 223.5L136.9 224.5L137.8 225.5L137.6 225.5L138 226.5L138.3 227.4L137.8 229.2L137.4 228.5L136.9 229.2L135.1 229.9L134.6 229.9L132.7 230.4L131.9 230.3L130.2 230L129 230.2L127.8 230.6L126.5 230.1L125.8 229.9L124.6 229.6L123.6 229.8L122.3 229.9L121.8 229.5L120.7 229.4L119.7 229.9L118.5 228.8L118.2 228.5L117.5 228.7L116.7 228.3L116.2 228.3L115.5 228.2L114.5 227.6L114.1 227.1L113.4 226.9L112.7 226.4L111.8 225.7L111.1 225L110.5 224.9L110.2 224.1L109.7 223.2L108.2 223.2L107.2 222.4L106.6 222L105.7 222.1L105 221.4L104.4 221.3L103.2 220.8L102.8 220.5L102 220.8L101.4 221.1L100.6 220.2L99.5 220.8L99 220.6L97.2 220.7L96.6 219.8L95.6 219.8L94.8 220.3L94 219.6L92.7 219.5L92.4 219.4L91.4 218.9L90.3 218L89.5 217.6L88.2 217.3L86.8 216.7L86.7 215.8L85.9 215.9L84.9 215.3L83.6 214.4L82.9 213.8L82.6 213.7L81.4 212.2L80.4 212.5L79.2 211.8L78.6 211.3L77.9 211.1L77 210.3L75.9 210.4L75.3 208.8L74.2 208.3L73.8 207L73.5 206.9L72.6 205.6L72.1 204.9M74.1 203.6L74.7 202.9L74.8 202.2L74.7 201.4L75 200.6L75.7 199.9L76.1 199L76.1 198.8L76.8 197.9L77.3 197.4L78.5 196.7L79.4 196.4L80.4 196.2L81.7 195.7L82.4 195.6L83.3 194.7L84.6 194.5L85.9 193.7L87.1 193.7L88.4 193.7L89.5 193.3L91 192.7L92 192.6L93 192.2L94.5 191.5L96.3 191L96.6 190.6L98.8 190.7L99 190.5L100.4 190.2L100.8 189.7L102.2 190.1L103.7 189.2L103.8 189.1L104.8 188.8L106 188.8L106.8 187.8L107.1 188.2L108 187.7L109.2 187.5L109.6 187.7L110.1 188.3L110.1 189.4L110.7 189.8L111.2 189.6L110.8 190.7L111.8 191L112.1 192L112.7 192.3L112.7 192.9L113.3 193.2L113.8 193.8L114.1 194.3L115 194.7L115.2 195.6L115.4 196.8L116.3 197.5L116.4 197.6L116.9 198.4L117.6 199.2L118.5 200L119.2 200.7L119.8 201.7L120.7 202.9L121.9 203.8L121.9 205L123.3 205.4L124.2 205.7L124.7 207.1L126 207.9L127.3 209L128.3 209.7L129.2 211.1L130.8 211.4L131.8 212.4L133.1 213.6L134.4 213.8L134.6 214.1L136.2 215.5L137 216.1L137.4 216.8L138.4 217.5L139 217.7L139.4 218.4L140.4 219.6L140.3 219.9L140.3 221L141.4 222.5L141.2 222.7L141.7 224L141.5 225.3L141.2 226L141 226.9L140.2 228.5L140 228.4L138.6 229.8L137.9 229.6L136.4 230.3L135.3 230.1L134.4 229.9L133 230.2L132.1 229.8L131.2 229.6L130.5 228.9L129.1 228.9L129 228.2L128 228.2L127.1 227.9L126.7 227.6L126.2 227.2L125.6 226.6L124.3 226.6L124.3 225.9L123.2 226.1L122.8 225.3L121.4 225.3L120.8 224.5L120 224.4L118.7 223.9L118 223L117.3 223.1L116.3 222.2L115 221.5L113.8 221.6L112.3 221.4L111.8 220.9L109.6 220L108.4 219.3L107.2 218.7L106.2 219L104.7 218.8L103.9 218.7L102 218.9L101.6 218.3L100.8 217.8L99.6 217.7L98.2 217.7L97.3 217.8L96.9 218L95.3 217.9L94.8 218L93.8 218.1L93.5 218.2L93.4 218.4L92 218.6L91.8 217.9L90.6 217.8L90.2 217.6L89.5 217.2L89.4 217.1L88.2 216.7L87.6 215.8L87.1 216L86.8 215.2L85.7 214.7L85.4 213.8L84.2 213.6L83.2 212.7L82.8 211.9L81.4 211.6L80.3 210.8L79.7 210L78.4 209.7L77.6 209.1L76.7 207.9L76 207.7L75.5 206.9L74.8 206.1L73.6 205L73 204M76 205.1L75.8 203.6L76.9 202.7L78 201.7L78.9 200.6L79.7 199.4L80.1 199.2L81.8 198.3L82.7 197.5L84.1 196.8L84.9 196.6L86.9 195.7L87.4 195.6L88.6 194.9L89.6 194.5L90.9 194.1L91.4 193.2L92.7 192.8L93.5 192.3L94.9 191.6L95.1 190.3L95.8 191L96.5 190.3L97.3 190L98.1 190L98 189.1L98.4 189.1L99.2 188.3L99.1 189.4L99.6 189L99.8 189.1L100.4 189.2L100.8 189.7L102.2 189.2L102.5 190.7L103.2 190.5L103.5 190.9L104.7 191.8L105.4 192.1L106.3 192.4L106.7 193.1L107.5 195L109.1 196L108.7 196.8L109.8 198.2L110.6 199.4L111.1 200.1L111.9 201.6L112.3 202L113.9 203.2L115 203.7L115.3 204.4L116 204.5L116.9 205.4L117.7 206L119.3 206.3L120.4 206.4L121.6 207L121.7 207L123.2 207.4L124 208.1L124.6 208.6L125.2 209L126.3 209L127.5 209L127.1 209.5L127.8 210.4L128.4 210.7L128.9 211.7L129.8 211.7L129.7 212.7L129.6 212.7L130.4 213.7L130.9 214.6L131.9 215.2L132.4 215.8L132.6 216.1L133.9 217.2L133.8 217.7L135.1 218.3L136.4 219.2L136.4 219.6L138 220.3L139.1 221.8L139.5 222L140.5 223.1L140.8 223.4L142.2 224.2L142.5 224.7L143.5 225.6L144.2 226.6L144.3 228.1L144.4 228.8L144.9 229.8L144.3 230.6L143.1 231.6L141.7 231.9L141.2 232.8L140.3 232.6L138.6 233L137.2 232.7L135.9 232.8L134.9 232.2L133 232.3L132.4 232.1L131.6 231.6L130 231.5L128.7 230.9L127.8 230.6L126.9 229.8L125.8 229.6L125.1 228.6L124.4 228.8L123.9 227.7L123.7 227.4L122.6 227.2L122.7 226.9L121.3 226.3L121.3 225.3L120.3 225.1L120 224.9L119.4 224.7L118.2 223.9L118 223.6L117.4 223.5L116.5 223L115 222.7L114 222.2L113.4 221.2L111.8 221L111.5 221L109.7 220.7L108.4 220L107 220.1L105.6 219.2L104.7 219L103.4 218.9L102.8 218.8L101.2 218.4L100.2 218.4L99.4 218.1L98.3 218.2L96.3 218.9L96.5 218.2L94.4 219.1L93.6 218.6L92.8 219L91.8 218.4L91.7 218.1L90.3 218.3L89 218.2L88.4 218.1L87.5 217.5L86.8 217.1L86.4 217.1L85.8 216.7L84.9 216.2L83.9 215.9L83.5 215.8L83.3 215.2L82.5 214.3L81.7 213.9L81.5 213.2L80.2 212.2L80 210.4L79.6 209.8L79.3 209.1L79.2 208.3L78.5 206.6L78.2 206.6M73.7 202.1L74.6 201.1L74.8 200.3L74.8 199.4L75.4 198.3L76.4 197.9L77 197.1L77.7 196.2L78.9 195.8L80.2 194.5L80.6 195L82.1 193.9L83.1 193.2L82.7 193.1L84.3 192.8L85.7 192.1L86.3 191.7L87.3 191.1L88.5 190.5L89.4 190.8L89.9 189.5L90.3 189.7L92.3 190L93.4 190.3L94.2 190.1L95.2 189.9L96.2 189.9L97.1 190.3L97.8 190.2L99 190.6L100.1 190.7L100.6 190.4L101.8 190.6L103 190.8L104.1 191L104.7 191.3L106 190.7L106.3 190.4L107.1 191.2L108.5 190.4L108.6 191.8L108.9 191.9L109.1 192.7L109.9 193.6L110.3 194L110.4 195.3L110.8 196L111.8 195.8L112.4 197.2L112.5 197.5L112.9 198.7L113.5 199.5L112.8 199.9L114.3 200.9L115.2 201.7L115.7 202.6L115.7 203.2L116.3 203.6L116.3 204.8L117 205.5L117.9 205.5L118.1 206.7L119.5 207.2L119.9 208.1L120.3 208L120.8 209.2L121.1 210.6L121.9 210.2L121.9 211.3L123.2 212.4L123.7 212.6L124.3 213.3L124.6 213.5L125.6 213.6L125.7 214.3L126.3 215.2L126.7 215.3L127.3 216L127.5 216.3L128.5 216.5L129.2 216.7L130 218.2L130.4 218.1L131 218.7L131.8 219.7L132.7 220.2L133.7 220.8L133.8 221.7L134.9 222.4L135.4 222.8L135.7 223.5L135.9 224.9L137.2 225.4L136.9 226.1L136.5 226.8L136 227.6L134.8 228.3L134.2 228L133.9 228L132.8 228.1L132.4 227.9L132.2 227.8L130.8 227.3L130.5 226.8L130.1 227.2L128.8 226.2L128.7 225.9L128 225.5L126.9 225.5L126.6 224.7L126 224.7L125.3 225.2L124.1 224.7L123.6 224.5L122.2 224.4L121.1 224.5L119.8 223.5L118.7 223.7L117.8 223.8L116.5 223.3L115.6 223.4L114.2 223L112.9 223.1L112.5 223L110.5 223L109.7 222.8L109 222.6L107.7 221.7L106.8 222.4L105.8 222.3L104.1 222.3L104.1 222L102.6 222.5L101.8 222.3L101.3 222L99.8 222.1L98.9 222.2L98.1 221.7L96.7 222.2L96.1 221.9L95 221.9L93.9 221.4L92.9 221.2L92.4 220.9L90.8 220.8L90.4 220.7L89.6 220.1L89.3 219.6L89.2 218.6L88 218.4L87.5 218.3L86.1 217.3L86.1 217L84.6 216.2L84 216.1L83.3 215.2L82.2 214.8L82 214.2L81.2 214.2L80.3 212.9L78.7 213L77.9 211.3L77.6 210.9L77.6 210.3L75.8 209.1L75.4 208.6L75.7 207.8L75.1 206.3L74.8 205.3L74.2 204.2M76.3 204L77.2 203.4L78 202.5L78.5 201.1L79.1 201L78.9 199.3L78.8 198.7L80.1 198L81.1 197.3L81.4 196.4L82.1 195.9L82.4 195.9L82.8 195.2L83.7 195.3L83.6 194.4L84.8 193.8L85.3 193.7L86 192.8L86.2 193.2L87.3 192.6L87.9 192.8L88.7 191.7L89 191.3L89.8 191L90.6 191.3L92 190.6L92.7 190.5L94.2 189.7L95 189.2L95.9 189.1L97.3 188.8L98.7 188.6L99.7 188.8L101 188L102.2 187.8L103.3 187L104.4 186.7L105.8 186.5L106.4 186.7L108 186.5L108.6 187.9L109.4 188.6L110.1 188.9L110.6 190.2L111.2 191.9L111.5 192.5L111.9 193.7L112.6 194.5L112.5 195.3L113.1 195.4L113.7 197L114 197.4L114.2 199L114.2 199.7L114.6 200.5L115.1 201.5L115 201.9L116.1 202.2L116.2 203.3L116 203.6L117.4 205L117.1 204.8L118.3 205.7L118.3 206.1L119.1 206.8L119.4 207.6L120.5 208.4L121.2 208.6L122.3 209.5L123.4 210.7L123.9 211.4L124.1 212.2L125.9 212.8L125.9 214.3L126.9 214.6L127.8 216.4L128.5 216.5L128.7 218.5L129.9 218.9L130 219.7L130.7 221.2L130.4 221.6L132.1 222.8L132 223.5L132.4 224.2L133.6 224.9L133.7 225.8L133.9 226.2L134.6 227.2L135.1 228L135.3 228.2L136.2 229L136 229.6L136.5 229.8L135.8 230.4L135.1 231.5L134.6 230.2L133.8 230.4L133.3 230.9L133 230.5L132.5 229.9L130.9 229.3L130.7 228.9L129.4 228.7L129.1 228.7L128.1 228L127.3 227.9L126.7 227.3L125.5 227.6L124.8 226.7L123.6 227.4L124.1 226.8L123.2 226.7L121.9 227.4L121.4 226.1L120.1 225.9L118.9 226L118.2 225.6L116.9 225.6L116.5 225.1L115.7 224.7L114.8 224.5L113.6 223.5L113.2 223.1L112 222.8L111.4 222.1L110.4 221.2L110.3 220.1L109.4 220.5L108.8 219.8L108.3 219L107.5 218.8L106.1 218.5L105.7 217.4L104.3 217.2L103.4 216.5L102.6 216.2L101.5 215.7L100.4 215.5L99.3 215.5L98.4 215.2L96.6 215.2L96.3 215.1L94.7 215.2L93.6 215.3L92.4 215L91.2 214.8L90.8 214.6L89.3 214.3L88.4 213.9L87.7 213.6L86.8 213.4L85.4 213.6L84.5 213.1L83.7 212.8L82.7 212.2L81.8 212.2L80.6 212L79.9 210.9L78.8 211L78.5 210.9L77.6 209.3L76.9 208.7L76.3 208.2L75.5 207.7L74.7 206L74.6 205.2L74.7 203.3L74.1 202.2L74.6 201.4M73.2 201.6L73.7 200.4L74.1 199.3L74.1 199.2L74.3 198.3L75.1 197.9L75 197.2L75.5 196.6L76.4 196.5L77.3 196.1L77.7 195.5L78.5 195.1L79.1 193.9L80.1 194.6L81.1 193.8L82.2 192.8L82.6 192L83 191.9L84.1 190.8L85 190.4L87 189.9L87.6 189.8L87.9 188.9L89 188.3L89.4 188.4L91.1 186.9L92.7 186.7L93.3 186.5L94.8 186L95.8 185.9L97.6 185.5L98.8 184.4L99.8 184.5L100.6 184.6L101.7 184L103.1 184.4L105.2 184.3L105.8 183.9L107.2 184.9L107.5 184.4L108.8 185.6L109.9 186.6L110.6 187.9L111.5 189.7L111.9 190.5L113.2 192L113.1 192.8L113.9 193.9L113.7 195.2L114.5 196.5L114.6 197.3L115.3 198.9L114.5 199.8L115.3 200.7L115.8 201.7L116.1 201.8L116.6 202.7L116.7 203.2L117.1 204.5L117.4 205.6L118.4 206.1L117.9 206.2L118.8 206.9L119.5 208.3L119.5 208.1L119.9 208.4L121.2 209L121.5 210L121.7 210.4L123.2 211L123.2 211.7L124 211.9L125.1 212.6L125 212.9L126.1 213.3L126.8 214.2L128.1 213.5L128.2 214.6L129.6 215.1L130.4 215.5L131.4 215.9L131.7 216.4L132.4 216.3L134 217.2L135 218.5L135.7 218.7L136.2 219.5L137.1 220.5L138.1 221.2L138.3 221.6L138.8 222.3L138.7 223.8L140.1 224.5L139.4 225.5L139.4 226.1L138.4 226.3L138.2 226.7L136.7 227.8L135.7 227.4L135.7 227.8L134.3 227.8L134.2 227.7L133.1 227.5L132.4 227.5L131.1 227.5L130.7 227.6L129.7 226.5L129.1 226.5L127.9 226L127 226L126.2 225.5L125.3 225.2L123.3 224.7L122.5 224.5L121.7 224.2L120.2 223.8L118.8 223.8L117.7 222.8L116.8 223L115.7 222.4L114.5 221.9L113.9 221.6L112.8 221.1L111.7 221.3L110.3 221.1L109.9 220.9L108.5 221L108.7 220.2L106.9 220.2L106.1 220.5L105.6 220.9L104.9 220.4L103.8 220.9L103.6 220.5L103.3 220.7L102.1 220.3L101.8 220L100.9 220.4L100.7 220L99.6 220.2L98.6 220.4L97.7 220.1L97.2 220L96.2 220.5L95.7 220.5L93.9 220.3L93.2 219.1L91.8 219.2L90.5 218.4L89.5 217.8L88.8 216.9L87 216.7L86.2 216.7L85.1 215.9L83.8 215.2L82.6 215.1L81.8 213.6L80.7 212.6L78.8 212L78.2 210.9L77.1 210.6L76.3 209.6L75.5 209L75 207.3L75.1 205.9L73.7 205.3L73.9 204.2L73.6 203.5L72.6 201.8L73.3 200.8M73.1 203.2L73.5 201.9L73.5 200.6L73.3 199.4L73.7 198.4L73.8 196.6L74.3 195.5L74.7 194.2L75.3 194.4L76.3 193L77 192.2L77.5 191.6L78.7 190.6L79.8 190.1L80.2 189.6L80.7 188.7L81.6 187.9L83.1 187.8L83.7 187.4L84.3 187.2L85.5 186.6L86.7 186.1L87.8 186.5L88.6 186.8L89.4 186.5L90.7 186.7L90.9 186.7L92.7 186.7L93.1 187.6L94.4 188L95.4 187.5L96.8 187.8L97.3 188.1L98.5 188.3L100.5 188.2L101.2 188L102.9 189L103.1 188.6L104.1 188.7L105.2 189.3L106.5 189.6L107.2 190.3L107.4 191.1L108.1 192.1L108.9 192.8L109.6 193.6L109.4 194.5L109.7 195.1L111.2 195.7L111.5 195.9L112 198.2L112.5 197.9L113 198.6L113.2 199.5L114.2 200.2L115.3 201.2L116 201.5L116.5 202.3L117 203L118.3 204.3L118.8 204.8L119.7 206L120.7 206.8L121.4 206.9L122.4 207.8L122.7 208.7L123.8 209.6L124.5 210.6L125.3 211L125.9 212.1L126.6 212.8L126.9 213.5L127.2 214.1L128.1 215.1L128.4 215.2L129.3 215.9L129.7 215.9L130.6 217.1L130.2 216.9L130.7 217.7L130.9 217.4L130.7 218.1L131.9 217.5L132.1 218.7L131.6 218.8L132.9 218.8L132.5 219.3L133.6 220.1L133.6 220.8L133.9 221.2L134.2 222.6L135.2 223.6L135.5 224.6L135.9 225.9L135.5 225.9L135.6 227.6L134 227.6L133.8 228.5L133.5 228.9L133 229.4L132.4 229.4L132 229.3L131.1 229.6L130.3 229.2L129.9 228.9L129 229.3L127.8 229.1L127.6 229L126.3 228.4L125.7 228.8L125.2 227.7L123.9 228.4L123.6 227.8L122.9 227.2L122 226.8L120.9 226.7L120.1 226.9L119.3 226.2L118.4 226.3L117.5 226.3L116.7 226.3L115.7 226L115 225.7L114.6 225.3L113.1 224.6L112.4 224.3L111.2 223.7L110.2 223L109.9 222.7L108.1 222.1L108.1 221.6L106.6 221.9L106 220.6L104.7 221L103.7 220L103 219.5L101.7 219L100.9 218.9L99.1 218.6L98.2 217.8L98.1 218L96.5 217.6L95.7 217.5L95.3 217.4L93.2 217.4L92.7 217.8L91.5 217L91.1 216L90.1 215.6L88.8 214.9L88.5 214.9L87.2 213.7L85.8 213.5L85.5 213.3L83.9 213.4L83.7 212.2L82.8 212L81 211.5L80.6 210.4L79.3 210.1L78.4 209L77.8 208.8L77.3 207.7L77.1 207.2L75.8 206.1L75.3 205.6L74.3 205.5L74.7 203.9L74.3 203.3L73.8 202.5M76.1 201.3L76.7 200.5L77.7 199.4L77.6 198.9L78.2 197.9L78.5 196.1L77.4 195.8L78.9 195.4L79.4 194.6L80.2 193.4L80.4 192.5L80.2 191.4L81.6 191.4L82.6 191L82.5 190L83 189.7L84 189.8L84.6 188.9L84.9 188.8L86.5 188.3L87.6 187.7L87.7 188.3L88.2 188L89.2 188.1L90.5 187.6L90.3 187.4L92 187.4L92.5 187.8L93.2 187.5L94.4 187.4L95.7 186.8L96.3 187.3L97.4 186.7L98.9 186.7L99.3 186.5L100.1 185.7L101.5 185.7L102.5 185.8L104.2 185.7L104.8 185.2L105.6 186L106.6 186.4L107.7 187.4L108.8 188.7L109.7 190.1L110.7 190.5L111.3 191.5L111.8 192.8L113.1 192.8L114.5 193.4L114.6 195.1L115.5 195.4L116.2 196.1L117.2 196.8L117.9 197.9L118.6 197.9L119.5 199L120.4 199L121.4 199.4L121.8 200.6L122.4 201.3L123 202L123.6 202.3L124.4 203L125 204L125.3 205.2L126.1 205.9L126.5 206.6L127.3 207.5L127.7 208.6L128.3 208.7L129.4 209.9L128.9 211L130.3 211.8L130.4 212.5L130.9 213L131.2 213.2L132 214.3L132.6 215.2L133.2 215.3L132.9 215.8L134 216.2L135.5 217.4L136.3 217.9L136.6 218.8L137.2 220.2L138.1 220.7L138.4 221.4L139.9 222.7L140.2 223.2L140.6 224.6L141.2 225.7L141 227.1L141.4 227.9L141.3 229.1L140.4 229.8L139.5 230.3L138.2 231.2L137.1 231.7L136.2 231.7L134.9 232.7L134.1 232.9L132.4 232.8L131.5 232.4L130.5 232L129.9 231.4L127.7 231.2L127.3 231.7L126.2 230.3L124.8 229.7L123.9 229.6L123.1 228.5L121.8 228.6L120.2 227.3L120 227.2L119 226.1L117.8 225.8L117.7 225.3L115.9 224.9L115.4 224.5L114.2 223.8L113.2 223.2L112.4 222.7L111.3 222.3L109.9 221.8L109.2 221.6L108.2 220.6L107.3 220.4L106.7 220.2L104.8 220.3L103.8 219.7L103.3 219.5L102.1 219.5L101.1 219.1L100.4 219.4L99.8 219.3L98.5 218.7L97.2 219.3L96.5 218.8L95.6 218.6L94.8 218.1L93.9 218L93.1 218.2L92.2 217.3L91.6 217.3L91.1 216.7L90.2 215.7L89.7 215.1L88.5 214.7L87.9 214.1L86.6 214.3L86.2 213.2L85.6 212.9L84.3 212.1L83.8 211.6L83.1 211L81.8 209.7L81.3 209.5L81.2 208.3L79.3 208.2L79.5 207.9L78.7 206.5L78.8 205.7L77.6 204.9L77.4 203.5L76.4 203.1L76.7 201.6L76.4 201.2L75.7 199.9L75.8 198.6"/><path id="tbgreen" d="M148.4 188.6L149.1 189.8L149.2 192.2L149.3 194.8L149.2 194.9L149.8 195.3L151.1 194.3L152.7 194.8L153.2 196L153.2 194.3L154.1 192.1L152.1 188.2L149 186.4L148.8 185.1L148 186.1L147.5 187.2L147.3 187.1L147.8 190.5L148.7 194L151.2 195.7L152.2 193.6L150.7 191.7L147.5 191.3L144.9 190.1L146.4 190.3L150.1 190.5L153.5 193.6L155.1 194.9L154.1 192.5L151.5 190.3L149.4 187.8L150.3 188.7L150.7 191.5L151.2 195.4L151 195.6L150.7 196.5L149.7 195.4L148.4 197.4L148.3 197.6L149.2 195.7L150.6 192.3L149.6 189.9L147 190L145.6 192.7L148.6 194.1L151.2 196.3L151.3 196.2L148.5 194.8L145.8 192.9L141.4 190.4L142.4 187.9L143.7 186.9L145.8 188.2L145.7 191.6L145.1 197L145.1 200.4L145.7 201.5L147 199L149.7 195.6L150.1 194.1L150 195.9L149.3 199.2L149.2 201.1L149.3 200.4L148.6 198.1L149.4 195.2L148.9 195.1L149.1 194L147.3 194.2L146 193.6L145.6 192.8L147.7 192.1L149.3 192.4L148.1 193L146.2 194.7L143.6 194.4L142.7 192.3L143.5 190.4L146 189.3L148 188.6L149.4 188.9L151.3 189.6L151.1 189.4L150.6 189.3L150 190L149 192.3L147.9 193.8L148 194L147.5 193.6L147.2 195L146.5 195.1L147.3 193.9L147.1 190.6L147.6 188.3L147.8 187.6L146.8 189L146.5 191.6L146.1 193.7L147 193.4L149.7 193.8L150.8 193.9L152.6 194.3L151.9 194.9L152.8 194.8L154.5 193.6L155.2 192.2L155.3 190.2L155.1 191.9L155.4 193.7L153.7 194.6L152.9 194.3L152.7 194.2L152.6 194.4L153 194.2L151.4 193.2L149.7 192.4L147.9 191.1L148.4 190.9L151 191.2L154 191.8L155.1 193.3L154.6 194.9L152.5 196.1L149 197L147.3 197L146.6 195.6L146.7 194L148.3 191.2L149.3 190L148.6 188L148.8 187L149.6 186.9L150.1 187.4L150.1 189.3L149.9 193.6L148.6 197.6L146.5 198.9L145.1 198.6L145.3 195.7L148.7 193.7L152.9 192.7L154.2 193.1L153.6 193.3L151.8 193.6L149.4 194.7L148.2 194.7L147.3 195.5L147.2 195.4L147.1 194.2L148.1 192.9L149.6 193.1L149.7 193.9L149 193.6L148.4 191.7L150.7 189.6L152.5 188.7L153 190L153 191.2L151.7 191.4L150.9 191.8M150.9 194.5L150.4 195.5L150.5 197L150.2 196.5L149.1 196.9L149 198.2L148.2 198.5L147.7 199.1L147.5 200.4L146.3 201.6L146.2 202L146 202.6L144.7 203.5L145 203.6L144.7 204.1L145 205.7L144.6 205.4L144.8 205.8L145.2 206.1L144.9 206.2L144.5 207.2L144.6 206.4L144.4 207.9L144 208.1L144.5 209L144.4 209.8L143.2 210.3L144 210.6L143.1 212.1L142.1 212.8L141.9 214.4L142 214.4L142.6 216.3L141.7 216.3L141.8 217L142.6 217.1L141.9 218.7L142.1 219.7L141.3 219.9L141.9 220.4L141.4 221.3L141.3 221.7L140.9 221.5L141.4 222.5L140 222.9L141 223.9L141.2 223.1L140.9 223.2L139.8 224.4L140.4 224.5L140.1 225L139.9 225.9L139 226.5L139.2 226.9L138.5 227.6L137.4 228.2L137 228.4L136.6 229.5L136.5 230.2L136.1 230.3M147.6 194.9L147.2 195.8L147.8 196.2L147.6 197.8L147.4 198.8L147.2 198.8L146.7 199.5L147.4 200.4L147.3 201.1L146.7 201.6L146.7 202.3L146.6 202.1L146.5 203.9L146.9 204.1L146.4 204.7L146 205.5L146.1 206.7L145.7 206.6L145.3 207.8L145.4 208L145.1 208.4L145.1 209.4L145.4 210.1L145.3 210.7L145.6 210.7L145.3 211L145 211.7L144.9 211.9L144.8 212.4L144.5 213.4L144.2 214L144.4 214.7L144.7 216L144.3 216.3L143.4 217.1L143 218.1L143.8 218.7L143.4 220L142.5 220.1L142.4 221.7L142.8 222.4L142.6 222.5L142.8 222.8L143 223.6L142 224.9L142.2 224.4L142.4 224.7L141.8 225L141.3 224.7L140.6 225.5L141.2 226L140.3 226.2L140.5 227.3L140.5 227.2L139.4 227.9L140 229L139.3 229L138.7 229.7L139.7 230.4L138.6 231.1M149 196.2L148.9 197.5L149.3 198.3L148.6 198.3L148.9 199.3L148.2 199.9L147.5 200.6L147.7 201L147.2 202L146.7 201.9L146.4 202.3L145.3 203.5L146.1 204.1L145.6 204.5L145.6 204.7L145 204.9L145.3 206.2L145.8 206.7L144.6 207.7L145.8 207.1L144.8 208L145.4 209.4L145.3 209.1L145 208.9L146 210.1L145.5 209.7L145.4 210.5L145 211.1L145.4 211L145.4 211.3L145.3 212.1L144.6 213.4L144.5 213.7L144.4 214.3L143.9 214.5L143.9 215.9L143.5 216.3L142.7 216.7L141.9 217.3L142.2 217.4L141.2 218.6L141.2 218.9L140.6 219.5L140 220.4L140.4 221L139.7 220.4L140 221.5L140.1 221.5L139.6 222.1L139.9 222.5L139.7 222.9L139.4 223.6L139.7 224L140.1 224.6L140.4 224.4L139.7 225L139.2 226L139.2 227.2L139.9 228L139.8 229M147.8 197.4L147.9 197.9L147.9 198.8L147.2 198.3L147.4 199.2L147 199.7L146.9 200.3L147.1 200.9L146.1 201.7L146.4 202.1L146.6 202.8L146.4 203.2L146.3 204.4L145.5 205L145.6 204.3L145 205.2L145.4 205.6L144.6 205.7L144.7 206.7L145.1 206.9L144.6 207.2L144.1 208.1L143.9 208L143.9 209L144.3 209.1L144.1 210.7L143.9 211.1L144.1 212.1L143.9 212.9L143.2 213.5L143.9 213.8L143.3 214.7L143.9 215.5L143.4 216.8L142.8 217.5L143 217.8L143.2 218.7L142.5 219L142.7 219.2L142.3 220.1L142.3 220.1L142.2 221L141.9 220.8L142 221.4L142.2 221.1L141.5 222.1L141.4 222.3L140.7 222.7L141.2 223.3L140.5 224L139.9 224.5L139.7 225.4L139.7 226L139.3 226.9L140.1 228.5L139.8 229.3L139.1 230.9L139.2 230.9L138.8 233L138.2 234M148.2 197.1L147.5 197.2L146.7 197.6L147.9 198.6L147.2 199.3L146.7 200.1L146.4 200.6L146.6 201.1L146.5 202.1L145.1 203.9L146 204.5L145.6 204L145.7 204.8L145.2 206.2L146.1 206.7L146.4 207.6L145.6 207.7L146.5 207.1L145.9 207.8L145.8 207.9L145.9 208.5L145.4 209L146.1 209.1L145.5 210L145.6 210.5L145.9 210.8L145.5 211.9L145.3 211.8L144.9 212.4L145 214.2L144.6 214.1L144.5 215.4L144.1 214.9L143.8 217L144 216.9L142.6 217.7L142.1 219.1L143 219.5L141.9 220.7L142 221.7L141.8 221.7L141.3 222.5L141 223.7L140.9 223.8L141 224.1L140.6 224.8L139.6 225.6L139.9 225.3L140.4 226.3L140.7 225.9L140 226L140.5 226.8L139.5 226.8L140.1 227.2L139.9 227.6L139.3 228.3L139.1 228L139.5 228L139.6 229L139.3 230M152.2 196.3L152.1 196.7L152.4 197.5L151.6 198.2L152.1 198.9L151.5 199.6L152 201.6L151.7 202.2L151.3 202.7L151.9 203L151.5 203.9L151.5 204.7L151.7 205.7L151.2 205.6L151.3 206.1L151.3 206.4L151.3 206.7L151.4 207.4L152.4 207.6L151.8 207.4L152.6 208.7L152.7 208.8L151.7 209.3L152.3 210.4L152.1 210.2L152.4 211.2L152 211.2L151.9 212.2L151.3 212.5L151.3 213.1L150.6 213.8L150 214.4L149.8 214.5L149.9 215.4L149.4 216.4L148.6 216.8L148.5 217.6L148.3 217.5L147.4 218.3L147.7 218.4L146.5 218.4L146.7 219.3L145.7 219.5L145.9 220L145.9 220L145.6 219.9L146.1 220.1L145.8 220.2L144.5 221.1L144.8 221.3L144.8 221.9L143.7 222.1L144.8 222.8L144 223.6L144 223.9L143.8 224.6L143.1 225.1L142.5 226.1L141.5 226.6L142.2 227.1M152.2 196L152.9 196.5L153.1 196.6L151.6 197.4L152.1 198.6L152.3 199.3L152.3 199.8L152.7 200.8L152 201.4L152 201.3L151.6 202.5L151.2 202.9L152 204.5L151.7 204.7L151.4 205.2L150.7 207.2L150.5 206.8L150.6 207.2L150.1 208.1L150.3 208.2L150.5 208.8L150.9 209.9L149.9 209.7L150.7 210.5L151.3 210.7L150.8 210.5L150.8 212.4L150.3 212.7L150.6 213.6L151.4 213.4L151.2 214.2L151.5 214.9L151.9 215.4L151.1 215.9L151.6 216.6L151.1 216.9L151.1 217.6L150.7 218.2L150.7 218.7L150.3 219.3L149.8 219.4L149.4 220L149.7 220.2L149.6 221L148.5 221L148.8 221.2L147.1 221.3L148.1 221L148.1 221.5L147.7 221.8L147 222L146.2 222.5L146.3 223.4L146 223.7L146.1 223.9L145.5 224.7L145.4 224.5L145 224.8L144.2 225.3L144.9 225.7M151.4 195.9L151.9 195.9L151.8 196.5L152.6 196.9L152.7 198L152.9 198.7L152.5 198.9L151.8 199.3L151.9 200.6L152.8 200.8L152.6 201.8L152.1 201.5L152.5 202.8L151.9 202.7L152.3 203.5L152.1 204.1L151.9 204.5L152 205.3L151.5 206.3L151.6 206.6L151 208.2L151.5 208.2L150.8 209.2L150.6 209.9L151 210.2L149.6 210.3L150.6 211.6L150.3 212.1L150.2 212.8L150 213.8L150 213.9L149.6 214.6L149.4 214.3L149.2 214.8L148.8 215.4L149.9 215.3L149.8 215.9L149.4 216.2L149.4 215.9L150.7 217.8L150.1 218.2L150.6 219.2L149.3 220.1L149.8 220L149.3 221L149.2 221.4L149.4 222.3L149.4 223.4L148.4 223.8L148.9 223.9L147.9 224.3L147.5 225L147.2 225.4L146.4 225.9L145.9 225.5L145 226.5L144.5 226.3L144.3 227.4L143.8 227.7L142.7 228.3M138.2 235.1L136.4 234.6L136.3 235.3L135.2 234.2L135.5 233.8L135.1 233.7L135 233.8L134.3 232.5L133.8 232.6L133.9 232.2L133.2 232.4L132.6 231.8L132.1 230.8L131.5 230.9L131.2 229.8L130.2 229.5L130.1 228.5L129.3 228.4L128.4 229L128 227.8L127.4 228.5L126.3 228.4L125.9 228.5L125.7 229.3L124.8 229.3M139.3 226.7L138.4 226.2L138 226.1L137.2 226L136.6 224.8L136.8 225.3L136.1 224.7L135.3 223.3L135.1 224.1L134.6 223L133.9 223.4L133.4 222.3L132.4 221.9L132.4 221.8L131.7 221.5L130.9 221.5L130.1 220.6L130.1 220.3L129.6 221.1L129.1 220.7L128 221.5L128.3 221.3L127.2 220.9L125.9 221.3L125.4 221.2"/></defs>
<polygon points="44.9,99.8 95.6,61.7 95,6 42.1,40" fill="#f6f6f6" stroke="#f6f6f6" stroke-width="0.5"/>
<polygon points="95.6,61.7 175.4,83.5 178,25.4 95,6" fill="#f0f0f0" stroke="#f0f0f0" stroke-width="0.5"/>
<polygon points="44.9,99.8 130,126.2 175.4,83.5 95.6,61.7" fill="#f2f2f2" stroke="#f2f2f2" stroke-width="0.5"/>
<path d="M99.6 62.8L99.1 7M49.1 101.2L99.6 62.8M113.3 66.6L113.4 10.3M63.7 105.7L113.3 66.6M127 70.3L127.6 13.6M78.2 110.2L127 70.3M140.6 74L141.8 16.9M92.8 114.7L140.6 74M154.9 77.9L156.7 20.4M108 119.4L154.9 77.9M169.9 82L172.3 24M124 124.4L169.9 82M49.5 96.4L46.9 36.9M49.5 96.4L134.1 122.3M60.8 87.9L58.7 29.4M60.8 87.9L144.2 112.8M71.2 80.1L69.5 22.4M71.2 80.1L153.6 104M81.4 72.4L80.2 15.5M81.4 72.4L162.7 95.4M91.2 65.1L90.4 9M91.2 65.1L171.5 87.2M44.6 94.5L95.5 56.7M95.5 56.7L175.6 78.2M44.2 86L95.4 48.8M95.4 48.8L176 70M43.8 76.9L95.4 40.4M95.4 40.4L176.4 61.2M43.4 67.6L95.3 31.7M95.3 31.7L176.8 52.1M42.9 58.4L95.2 23.1M95.2 23.1L177.2 43.2M42.5 49.1L95.1 14.4M95.1 14.4L177.6 34.1" stroke="#adadad" stroke-width="0.7" fill="none"/>
<path d="M44.9 99.8L130 126.2M130 126.2L175.4 83.5M175.4 83.5L178 25.4M50.2 100.3L47.5 102.4M64.8 104.8L62.1 107M79.3 109.3L76.6 111.5M93.8 113.8L91.2 116M109.1 118.5L106.5 120.8M125 123.4L122.5 125.8M132.3 121.7L136.8 123.1M142.5 112.2L146.9 113.6M151.8 103.5L156.2 104.7M161 94.9L165.3 96.1M169.8 86.7L174 87.9M174 77.8L178.2 78.9M174.3 69.6L178.6 70.7M174.7 60.7L179 61.8M175.1 51.7L179.4 52.8M175.5 42.8L179.8 43.8M175.9 33.7L180.3 34.8" stroke="#444" stroke-width="0.8" fill="none"/>
<use href="#tared" stroke="#ee0000" stroke-width="1.15" fill="none" stroke-linejoin="round"/>
<use href="#tablue" stroke="#0000ee" stroke-width="1.15" fill="none" stroke-linejoin="round"/>
<use href="#tablack" stroke="#000000" stroke-width="1.15" fill="none" stroke-linejoin="round"/>
<use href="#tagreen" stroke="#3a8a1e" stroke-width="1.15" fill="none" stroke-linejoin="round"/>
<polygon points="191.1,100.1 241.8,62 241.2,6.3 188.3,40.3" fill="#f6f6f6" stroke="#f6f6f6" stroke-width="0.5"/>
<polygon points="241.8,62 321.6,83.8 324.2,25.7 241.2,6.3" fill="#f0f0f0" stroke="#f0f0f0" stroke-width="0.5"/>
<polygon points="191.1,100.1 276.2,126.5 321.6,83.8 241.8,62" fill="#f2f2f2" stroke="#f2f2f2" stroke-width="0.5"/>
<path d="M245.8 63.1L245.3 7.3M195.3 101.5L245.8 63.1M259.5 66.9L259.6 10.6M209.9 106L259.5 66.9M273.2 70.6L273.8 13.9M224.4 110.5L273.2 70.6M286.8 74.3L288 17.2M239 115L286.8 74.3M301.1 78.2L302.9 20.7M254.2 119.7L301.1 78.2M316.1 82.3L318.5 24.3M270.2 124.7L316.1 82.3M195.7 96.7L193.1 37.2M195.7 96.7L280.3 122.6M207 88.2L204.9 29.7M207 88.2L290.4 113.1M217.4 80.4L215.7 22.7M217.4 80.4L299.8 104.3M227.6 72.7L226.4 15.8M227.6 72.7L308.9 95.7M237.4 65.4L236.6 9.3M237.4 65.4L317.7 87.5M190.8 94.8L241.7 57M241.7 57L321.8 78.5M190.4 86.3L241.6 49.1M241.6 49.1L322.2 70.3M190 77.2L241.6 40.7M241.6 40.7L322.6 61.5M189.6 67.9L241.5 32M241.5 32L323 52.4M189.1 58.7L241.4 23.4M241.4 23.4L323.4 43.5M188.7 49.4L241.3 14.7M241.3 14.7L323.8 34.4" stroke="#adadad" stroke-width="0.7" fill="none"/>
<path d="M191.1 100.1L276.2 126.5M276.2 126.5L321.6 83.8M321.6 83.8L324.2 25.7M196.4 100.6L193.7 102.7M211 105.1L208.3 107.3M225.5 109.6L222.8 111.8M240 114.1L237.4 116.3M255.3 118.8L252.7 121.1M271.2 123.7L268.7 126.1M278.5 122L283 123.4M288.7 112.5L293.1 113.9M298 103.8L302.4 105M307.2 95.2L311.5 96.4M316 87L320.2 88.2M320.2 78.1L324.4 79.2M320.5 69.9L324.8 71M320.9 61L325.2 62.1M321.3 52L325.6 53.1M321.7 43.1L326 44.1M322.1 34L326.5 35.1" stroke="#444" stroke-width="0.8" fill="none"/>
<use href="#tablue" transform="translate(146.2 0.3)" stroke="#0000ee" stroke-width="1.15" fill="none" stroke-linejoin="round" stroke-opacity="0.13"/>
<use href="#tablack" transform="translate(146.2 0.3)" stroke="#000000" stroke-width="1.15" fill="none" stroke-linejoin="round" stroke-opacity="0.13"/>
<use href="#tagreen" transform="translate(146.2 0.3)" stroke="#3a8a1e" stroke-width="1.15" fill="none" stroke-linejoin="round" stroke-opacity="0.13"/>
<use href="#tared" transform="translate(146.2 0.3)" stroke="#ee0000" stroke-width="1.15" fill="none" stroke-linejoin="round"/>
<polygon points="340.4,95.1 391.1,57 390.5,1.3 337.6,35.3" fill="#f6f6f6" stroke="#f6f6f6" stroke-width="0.5"/>
<polygon points="391.1,57 470.9,78.8 473.5,20.7 390.5,1.3" fill="#f0f0f0" stroke="#f0f0f0" stroke-width="0.5"/>
<polygon points="340.4,95.1 425.5,121.5 470.9,78.8 391.1,57" fill="#f2f2f2" stroke="#f2f2f2" stroke-width="0.5"/>
<path d="M395.1 58.1L394.6 2.3M344.6 96.5L395.1 58.1M408.8 61.9L408.9 5.6M359.2 101L408.8 61.9M422.5 65.6L423.1 8.9M373.7 105.5L422.5 65.6M436.1 69.3L437.3 12.2M388.3 110L436.1 69.3M450.4 73.2L452.2 15.7M403.5 114.7L450.4 73.2M465.4 77.3L467.8 19.3M419.5 119.7L465.4 77.3M345 91.7L342.4 32.2M345 91.7L429.6 117.6M356.3 83.2L354.2 24.7M356.3 83.2L439.7 108.1M366.7 75.4L365 17.7M366.7 75.4L449.1 99.3M376.9 67.7L375.7 10.8M376.9 67.7L458.2 90.7M386.7 60.4L385.9 4.3M386.7 60.4L467 82.5M340.1 89.8L391 52M391 52L471.1 73.5M339.7 81.3L390.9 44.1M390.9 44.1L471.5 65.3M339.3 72.2L390.9 35.7M390.9 35.7L471.9 56.5M338.9 62.9L390.8 27M390.8 27L472.3 47.4M338.4 53.7L390.7 18.4M390.7 18.4L472.7 38.5M338 44.4L390.6 9.7M390.6 9.7L473.1 29.4" stroke="#adadad" stroke-width="0.7" fill="none"/>
<path d="M340.4 95.1L425.5 121.5M425.5 121.5L470.9 78.8M470.9 78.8L473.5 20.7M345.7 95.6L343 97.7M360.3 100.1L357.6 102.3M374.8 104.6L372.1 106.8M389.3 109.1L386.7 111.3M404.6 113.8L402 116.1M420.5 118.7L418 121.1M427.8 117L432.3 118.4M438 107.5L442.4 108.9M447.3 98.8L451.7 100M456.5 90.2L460.8 91.4M465.3 82L469.5 83.2M469.5 73.1L473.7 74.2M469.8 64.9L474.1 66M470.2 56L474.5 57.1M470.6 47L474.9 48.1M471 38.1L475.3 39.1M471.4 29L475.8 30.1" stroke="#444" stroke-width="0.8" fill="none"/>
<use href="#tared" transform="translate(295.5 -4.7)" stroke="#ee0000" stroke-width="1.15" fill="none" stroke-linejoin="round" stroke-opacity="0.13"/>
<use href="#tablack" transform="translate(295.5 -4.7)" stroke="#000000" stroke-width="1.15" fill="none" stroke-linejoin="round" stroke-opacity="0.13"/>
<use href="#tagreen" transform="translate(295.5 -4.7)" stroke="#3a8a1e" stroke-width="1.15" fill="none" stroke-linejoin="round" stroke-opacity="0.13"/>
<use href="#tablue" transform="translate(295.5 -4.7)" stroke="#0000ee" stroke-width="1.15" fill="none" stroke-linejoin="round"/>
<polygon points="487.8,94.9 538.5,56.8 537.9,1.1 485,35.1" fill="#f6f6f6" stroke="#f6f6f6" stroke-width="0.5"/>
<polygon points="538.5,56.8 618.3,78.6 620.9,20.5 537.9,1.1" fill="#f0f0f0" stroke="#f0f0f0" stroke-width="0.5"/>
<polygon points="487.8,94.9 572.9,121.3 618.3,78.6 538.5,56.8" fill="#f2f2f2" stroke="#f2f2f2" stroke-width="0.5"/>
<path d="M542.5 57.9L542 2.1M492 96.3L542.5 57.9M556.2 61.7L556.3 5.4M506.6 100.8L556.2 61.7M569.9 65.4L570.5 8.7M521.1 105.3L569.9 65.4M583.5 69.1L584.7 12M535.7 109.8L583.5 69.1M597.8 73L599.6 15.5M550.9 114.5L597.8 73M612.8 77.1L615.2 19.1M566.9 119.5L612.8 77.1M492.4 91.5L489.8 32M492.4 91.5L577 117.4M503.7 83L501.6 24.5M503.7 83L587.1 107.9M514.1 75.2L512.4 17.5M514.1 75.2L596.5 99.1M524.3 67.5L523.1 10.6M524.3 67.5L605.6 90.5M534.1 60.2L533.3 4.1M534.1 60.2L614.4 82.3M487.5 89.6L538.4 51.8M538.4 51.8L618.5 73.3M487.1 81.1L538.3 43.9M538.3 43.9L618.9 65.1M486.7 72L538.3 35.5M538.3 35.5L619.3 56.3M486.3 62.7L538.2 26.8M538.2 26.8L619.7 47.2M485.8 53.5L538.1 18.2M538.1 18.2L620.1 38.3M485.4 44.2L538 9.5M538 9.5L620.5 29.2" stroke="#adadad" stroke-width="0.7" fill="none"/>
<path d="M487.8 94.9L572.9 121.3M572.9 121.3L618.3 78.6M618.3 78.6L620.9 20.5M493.1 95.4L490.4 97.5M507.7 99.9L505 102.1M522.2 104.4L519.5 106.6M536.7 108.9L534.1 111.1M552 113.6L549.4 115.9M567.9 118.5L565.4 120.9M575.2 116.8L579.7 118.2M585.4 107.3L589.8 108.7M594.7 98.6L599.1 99.8M603.9 90L608.2 91.2M612.7 81.8L616.9 83M616.9 72.9L621.1 74M617.2 64.7L621.5 65.8M617.6 55.8L621.9 56.9M618 46.8L622.3 47.9M618.4 37.9L622.7 38.9M618.8 28.8L623.2 29.9" stroke="#444" stroke-width="0.8" fill="none"/>
<use href="#tared" transform="translate(442.9 -4.9)" stroke="#ee0000" stroke-width="1.15" fill="none" stroke-linejoin="round" stroke-opacity="0.13"/>
<use href="#tablue" transform="translate(442.9 -4.9)" stroke="#0000ee" stroke-width="1.15" fill="none" stroke-linejoin="round" stroke-opacity="0.13"/>
<use href="#tablack" transform="translate(442.9 -4.9)" stroke="#000000" stroke-width="1.15" fill="none" stroke-linejoin="round" stroke-opacity="0.13"/>
<use href="#tagreen" transform="translate(442.9 -4.9)" stroke="#3a8a1e" stroke-width="1.15" fill="none" stroke-linejoin="round"/>
<polygon points="41.5,230.8 91.5,194.6 91.1,142.6 39.8,175" fill="#f6f6f6" stroke="#f6f6f6" stroke-width="0.5"/>
<polygon points="91.5,194.6 171.5,215 173,160.8 91.1,142.6" fill="#f0f0f0" stroke="#f0f0f0" stroke-width="0.5"/>
<polygon points="41.5,230.8 126.3,255.1 171.5,215 91.5,194.6" fill="#f2f2f2" stroke="#f2f2f2" stroke-width="0.5"/>
<path d="M111.2 199.6L111.3 147.1M62.4 236.8L111.2 199.6M130.5 204.6L131.1 151.5M82.8 242.7L130.5 204.6M150.2 209.6L151.3 156M103.7 248.6L150.2 209.6M54.5 221.4L53.2 166.5M54.5 221.4L138.1 244.6M66.6 212.6L65.6 158.7M66.6 212.6L149.1 234.9M78.8 203.8L78.1 150.8M78.8 203.8L160.1 225.1M41.1 216.2L91.4 180.9M91.4 180.9L171.9 200.7M40.7 202.8L91.3 168.5M91.3 168.5L172.3 187.8M40.3 189.3L91.2 155.9M91.2 155.9L172.6 174.7M39.8 175L91.1 142.6M91.1 142.6L173 160.8M41.5 230.8L39.8 175M91.5 194.6L91.1 142.6M39.8 175L91.1 142.6M91.1 142.6L173 160.8M41.5 230.8L91.5 194.6M91.5 194.6L171.5 215" stroke="#adadad" stroke-width="0.7" fill="none"/>
<path d="M41.5 230.8L126.3 255.1M126.3 255.1L171.5 215M171.5 215L173 160.8M63.4 236L60.8 238M83.9 241.8L81.3 243.9M104.7 247.8L102.2 249.9M136.4 244.1L140.8 245.4M147.4 234.4L151.7 235.6M158.4 224.7L162.6 225.8M170.2 200.3L174.4 201.4M170.6 187.4L174.8 188.4M170.9 174.3L175.2 175.3M171.3 160.4L175.6 161.4" stroke="#444" stroke-width="0.8" fill="none"/>
<use href="#tbred" stroke="#ee0000" stroke-width="1.15" fill="none" stroke-linejoin="round"/>
<use href="#tbblue" stroke="#0000ee" stroke-width="1.15" fill="none" stroke-linejoin="round"/>
<use href="#tbblack" stroke="#000000" stroke-width="1.15" fill="none" stroke-linejoin="round"/>
<use href="#tbgreen" stroke="#3a8a1e" stroke-width="1.15" fill="none" stroke-linejoin="round"/>
<polygon points="197.1,230.8 247.1,194.6 246.7,142.6 195.4,175" fill="#f6f6f6" stroke="#f6f6f6" stroke-width="0.5"/>
<polygon points="247.1,194.6 327.1,215 328.6,160.8 246.7,142.6" fill="#f0f0f0" stroke="#f0f0f0" stroke-width="0.5"/>
<polygon points="197.1,230.8 281.9,255.1 327.1,215 247.1,194.6" fill="#f2f2f2" stroke="#f2f2f2" stroke-width="0.5"/>
<path d="M266.8 199.6L266.9 147.1M218 236.8L266.8 199.6M286.1 204.6L286.7 151.5M238.4 242.7L286.1 204.6M305.8 209.6L306.9 156M259.3 248.6L305.8 209.6M210.1 221.4L208.8 166.5M210.1 221.4L293.7 244.6M222.2 212.6L221.2 158.7M222.2 212.6L304.7 234.9M234.4 203.8L233.7 150.8M234.4 203.8L315.7 225.1M196.7 216.2L247 180.9M247 180.9L327.5 200.7M196.3 202.8L246.9 168.5M246.9 168.5L327.9 187.8M195.9 189.3L246.8 155.9M246.8 155.9L328.2 174.7M195.4 175L246.7 142.6M246.7 142.6L328.6 160.8M197.1 230.8L195.4 175M247.1 194.6L246.7 142.6M195.4 175L246.7 142.6M246.7 142.6L328.6 160.8M197.1 230.8L247.1 194.6M247.1 194.6L327.1 215" stroke="#adadad" stroke-width="0.7" fill="none"/>
<path d="M197.1 230.8L281.9 255.1M281.9 255.1L327.1 215M327.1 215L328.6 160.8M219 236L216.4 238M239.5 241.8L236.9 243.9M260.3 247.8L257.8 249.9M292 244.1L296.4 245.4M303 234.4L307.3 235.6M314 224.7L318.2 225.8M325.8 200.3L330 201.4M326.2 187.4L330.4 188.4M326.5 174.3L330.8 175.3M326.9 160.4L331.2 161.4" stroke="#444" stroke-width="0.8" fill="none"/>
<use href="#tbblue" transform="translate(155.6 0)" stroke="#0000ee" stroke-width="1.15" fill="none" stroke-linejoin="round" stroke-opacity="0.13"/>
<use href="#tbblack" transform="translate(155.6 0)" stroke="#000000" stroke-width="1.15" fill="none" stroke-linejoin="round" stroke-opacity="0.13"/>
<use href="#tbgreen" transform="translate(155.6 0)" stroke="#3a8a1e" stroke-width="1.15" fill="none" stroke-linejoin="round" stroke-opacity="0.13"/>
<use href="#tbred" transform="translate(155.6 0)" stroke="#ee0000" stroke-width="1.15" fill="none" stroke-linejoin="round"/>
<polygon points="347.8,230.8 397.8,194.6 397.4,142.6 346.1,175" fill="#f6f6f6" stroke="#f6f6f6" stroke-width="0.5"/>
<polygon points="397.8,194.6 477.8,215 479.3,160.8 397.4,142.6" fill="#f0f0f0" stroke="#f0f0f0" stroke-width="0.5"/>
<polygon points="347.8,230.8 432.6,255.1 477.8,215 397.8,194.6" fill="#f2f2f2" stroke="#f2f2f2" stroke-width="0.5"/>
<path d="M417.5 199.6L417.6 147.1M368.7 236.8L417.5 199.6M436.8 204.6L437.4 151.5M389.1 242.7L436.8 204.6M456.5 209.6L457.6 156M410 248.6L456.5 209.6M360.8 221.4L359.5 166.5M360.8 221.4L444.4 244.6M372.9 212.6L371.9 158.7M372.9 212.6L455.4 234.9M385.1 203.8L384.4 150.8M385.1 203.8L466.4 225.1M347.4 216.2L397.7 180.9M397.7 180.9L478.2 200.7M347 202.8L397.6 168.5M397.6 168.5L478.6 187.8M346.6 189.3L397.5 155.9M397.5 155.9L478.9 174.7M346.1 175L397.4 142.6M397.4 142.6L479.3 160.8M347.8 230.8L346.1 175M397.8 194.6L397.4 142.6M346.1 175L397.4 142.6M397.4 142.6L479.3 160.8M347.8 230.8L397.8 194.6M397.8 194.6L477.8 215" stroke="#adadad" stroke-width="0.7" fill="none"/>
<path d="M347.8 230.8L432.6 255.1M432.6 255.1L477.8 215M477.8 215L479.3 160.8M369.7 236L367.1 238M390.2 241.8L387.6 243.9M411 247.8L408.5 249.9M442.7 244.1L447.1 245.4M453.7 234.4L458 235.6M464.7 224.7L468.9 225.8M476.5 200.3L480.7 201.4M476.9 187.4L481.1 188.4M477.2 174.3L481.5 175.3M477.6 160.4L481.9 161.4" stroke="#444" stroke-width="0.8" fill="none"/>
<use href="#tbred" transform="translate(306.3 0)" stroke="#ee0000" stroke-width="1.15" fill="none" stroke-linejoin="round" stroke-opacity="0.13"/>
<use href="#tbblack" transform="translate(306.3 0)" stroke="#000000" stroke-width="1.15" fill="none" stroke-linejoin="round" stroke-opacity="0.13"/>
<use href="#tbgreen" transform="translate(306.3 0)" stroke="#3a8a1e" stroke-width="1.15" fill="none" stroke-linejoin="round" stroke-opacity="0.13"/>
<use href="#tbblue" transform="translate(306.3 0)" stroke="#0000ee" stroke-width="1.15" fill="none" stroke-linejoin="round"/>
<polygon points="498.5,227.3 548.5,191.1 548.1,139.1 496.8,171.5" fill="#f6f6f6" stroke="#f6f6f6" stroke-width="0.5"/>
<polygon points="548.5,191.1 628.5,211.5 630,157.3 548.1,139.1" fill="#f0f0f0" stroke="#f0f0f0" stroke-width="0.5"/>
<polygon points="498.5,227.3 583.3,251.6 628.5,211.5 548.5,191.1" fill="#f2f2f2" stroke="#f2f2f2" stroke-width="0.5"/>
<path d="M568.2 196.1L568.3 143.6M519.4 233.3L568.2 196.1M587.5 201.1L588.1 148M539.8 239.2L587.5 201.1M607.2 206.1L608.3 152.5M560.7 245.1L607.2 206.1M511.5 217.9L510.2 163M511.5 217.9L595.1 241.1M523.6 209.1L522.6 155.2M523.6 209.1L606.1 231.4M535.8 200.3L535.1 147.3M535.8 200.3L617.1 221.6M498.1 212.7L548.4 177.4M548.4 177.4L628.9 197.2M497.7 199.3L548.3 165M548.3 165L629.3 184.3M497.3 185.8L548.2 152.4M548.2 152.4L629.6 171.2M496.8 171.5L548.1 139.1M548.1 139.1L630 157.3M498.5 227.3L496.8 171.5M548.5 191.1L548.1 139.1M496.8 171.5L548.1 139.1M548.1 139.1L630 157.3M498.5 227.3L548.5 191.1M548.5 191.1L628.5 211.5" stroke="#adadad" stroke-width="0.7" fill="none"/>
<path d="M498.5 227.3L583.3 251.6M583.3 251.6L628.5 211.5M628.5 211.5L630 157.3M520.4 232.5L517.8 234.5M540.9 238.3L538.3 240.4M561.7 244.3L559.2 246.4M593.4 240.6L597.8 241.9M604.4 230.9L608.7 232.1M615.4 221.2L619.6 222.3M627.2 196.8L631.4 197.9M627.6 183.9L631.8 184.9M627.9 170.8L632.2 171.8M628.3 156.9L632.6 157.9" stroke="#444" stroke-width="0.8" fill="none"/>
<use href="#tbred" transform="translate(457 -3.5)" stroke="#ee0000" stroke-width="1.15" fill="none" stroke-linejoin="round" stroke-opacity="0.13"/>
<use href="#tbblue" transform="translate(457 -3.5)" stroke="#0000ee" stroke-width="1.15" fill="none" stroke-linejoin="round" stroke-opacity="0.13"/>
<use href="#tbblack" transform="translate(457 -3.5)" stroke="#000000" stroke-width="1.15" fill="none" stroke-linejoin="round" stroke-opacity="0.13"/>
<use href="#tbgreen" transform="translate(457 -3.5)" stroke="#3a8a1e" stroke-width="1.15" fill="none" stroke-linejoin="round"/>
<text x="7" y="17" font-size="15.5" text-anchor="start" font-weight="bold" fill="#000">A</text>
<text x="30" y="68.5" font-size="11.5" text-anchor="middle" font-weight="bold" fill="#000" transform="rotate(-90 30 68.5)">RC1</text>
<text x="30" y="197" font-size="11.5" text-anchor="middle" font-weight="bold" fill="#000" transform="rotate(-90 30 197)">RC2</text>
<text x="640.1" y="165.2" font-size="11.2" text-anchor="middle" fill="#222">10</text>
<text x="638.8" y="191.2" font-size="11.2" text-anchor="middle" fill="#222">0</text>
<text x="637.9" y="208.7" font-size="11.2" text-anchor="middle" fill="#222">-10</text>
<text x="496.6" y="237.9" font-size="11.2" text-anchor="middle" fill="#222">-10</text>
<text x="533.7" y="249.7" font-size="11.2" text-anchor="middle" fill="#222">0</text>
<text x="569.7" y="258.7" font-size="11.2" text-anchor="middle" fill="#222">10</text>
<text x="628.1" y="226.6" font-size="11.2" text-anchor="middle" fill="#222">10</text>
<text x="613.5" y="237.5" font-size="11.2" text-anchor="middle" fill="#222">0</text>
<text x="593.8" y="255.1" font-size="11.2" text-anchor="middle" fill="#222">-10</text>
<g stroke="#000" stroke-width="1.8" fill="none"><path d="M624.8 140.2L624.4 113"/><path d="M624.8 140.2L638.5 128"/><path d="M624.8 140.2L647 145"/></g>
<g fill="#000"><polygon points="624.2,108.5 621.2,115.5 627.4,115.5"/><polygon points="641.8,125 635.5,127.6 639.8,132"/><polygon points="652,146 645.3,142 644.2,148.3"/></g>
<text x="611.4" y="103.6" font-size="11.5" text-anchor="start" fill="#000">PC3</text>
<text x="641.6" y="120.7" font-size="11.5" text-anchor="start" fill="#000">PC2</text>
<text x="656" y="151.3" font-size="11.5" text-anchor="start" fill="#000">PC1</text>
<clipPath id="cb1"><rect x="47" y="286.5" width="179.3" height="124.5"/></clipPath>
<g clip-path="url(#cb1)">
<polygon points="47,374.1 49,374.1 51,374.1 53,374.2 55.1,374.5 57.1,374.9 59.1,375.4 61.1,375.7 63.1,375.9 65.1,376 67.1,376.1 69.2,376.2 71.2,376.3 73.2,376.5 75.2,376.6 77.2,376.8 79.2,377 81.2,377.3 83.3,377.6 85.3,377.8 87.3,378 89.3,378.2 91.3,378.4 93.3,378.5 95.4,378.6 97.4,378.7 99.4,378.8 101.4,379.1 103.4,379.5 105.4,379.9 107.4,380.4 109.5,380.7 111.5,381 113.5,381.2 115.5,381.5 117.5,381.6 119.5,381.7 121.5,381.8 123.6,382 125.6,382.2 127.6,382.4 129.6,382.6 131.6,382.7 133.6,382.8 135.6,382.9 137.7,382.9 139.7,382.9 141.7,382.9 143.7,382.9 145.7,382.9 147.7,382.9 149.7,382.8 151.8,382.8 153.8,382.8 155.8,382.8 157.8,382.8 159.8,382.8 161.8,382.8 163.8,382.7 165.9,382.5 167.9,382.4 169.9,382.4 171.9,382.4 173.9,382.5 175.9,382.4 177.9,382.3 180,382.1 182,382 184,382.1 186,382.1 188,382.2 190,382.3 192.1,382.4 194.1,382.5 196.1,382.6 198.1,382.6 200.1,382.6 202.1,382.7 204.1,382.6 206.2,382.6 208.2,382.5 210.2,382.4 212.2,382.4 214.2,382.4 216.2,382.5 218.2,382.6 220.3,382.5 222.3,382.4 224.3,382.1 226.3,381.9 226.3,396.7 224.3,396.8 222.3,396.9 220.3,397 218.2,397 216.2,397 214.2,396.9 212.2,396.5 210.2,396.1 208.2,395.8 206.2,395.6 204.1,395.5 202.1,395.7 200.1,395.9 198.1,396.1 196.1,396.3 194.1,396.4 192.1,396.4 190,396.4 188,396.5 186,396.6 184,396.8 182,396.9 180,396.8 177.9,396.7 175.9,396.5 173.9,396.4 171.9,396.3 169.9,396.3 167.9,396.3 165.9,396.3 163.8,396.3 161.8,396.4 159.8,396.4 157.8,396.3 155.8,396.2 153.8,396.1 151.8,396 149.7,396 147.7,396 145.7,395.9 143.7,395.8 141.7,395.7 139.7,395.6 137.7,395.7 135.6,395.9 133.6,396.3 131.6,396.6 129.6,396.9 127.6,397 125.6,397.2 123.6,397.4 121.5,397.7 119.5,398 117.5,398.2 115.5,398.5 113.5,398.7 111.5,398.9 109.5,399.1 107.4,399.4 105.4,399.6 103.4,399.9 101.4,400.2 99.4,400.4 97.4,400.6 95.4,400.7 93.3,400.8 91.3,400.8 89.3,400.9 87.3,401.1 85.3,401.3 83.3,401.6 81.2,401.9 79.2,402.2 77.2,402.4 75.2,402.5 73.2,402.7 71.2,402.8 69.2,402.9 67.1,403.2 65.1,403.4 63.1,403.7 61.1,403.9 59.1,404 57.1,404.1 55.1,404.2 53,404.4 51,404.5 49,404.6 47,404.7" fill="#e23c3c" fill-opacity="0.34"/>
<polygon points="47,316.4 49,316.5 51,316.8 53,317 55.1,316.9 57.1,316.6 59.1,316.3 61.1,316.1 63.1,316.3 65.1,316.7 67.1,317.3 69.2,317.8 71.2,318.2 73.2,318.4 75.2,318.4 77.2,318.1 79.2,317.6 81.2,317.1 83.3,316.5 85.3,316 87.3,315.5 89.3,314.8 91.3,314.1 93.3,313.3 95.4,312.5 97.4,311.9 99.4,311.2 101.4,310.5 103.4,309.7 105.4,308.8 107.4,307.8 109.5,307 111.5,306.3 113.5,305.8 115.5,305.4 117.5,305 119.5,304.5 121.5,304.2 123.6,303.9 125.6,303.7 127.6,303.6 129.6,303.4 131.6,303 133.6,302.6 135.6,302.1 137.7,301.8 139.7,301.6 141.7,301.3 143.7,301.1 145.7,300.8 147.7,300.5 149.7,300.4 151.8,300.4 153.8,300.4 155.8,300.4 157.8,300.4 159.8,300.4 161.8,300.3 163.8,300.4 165.9,300.8 167.9,301.4 169.9,302.1 171.9,302.9 173.9,303.6 175.9,304.5 177.9,305.6 180,306.7 182,307.6 184,308.5 186,309.2 188,309.9 190,310.5 192.1,311.1 194.1,311.9 196.1,312.8 198.1,313.6 200.1,314.4 202.1,314.8 204.1,315.1 206.2,315.2 208.2,315.3 210.2,315.5 212.2,315.7 214.2,316 216.2,316.2 218.2,316.6 220.3,316.8 222.3,317 224.3,317.3 226.3,317.6 226.3,362.2 224.3,361.7 222.3,361.2 220.3,360.7 218.2,360.1 216.2,359.5 214.2,358.9 212.2,358.3 210.2,357.9 208.2,357.6 206.2,357.4 204.1,357.2 202.1,356.8 200.1,356.4 198.1,356 196.1,355.7 194.1,355.5 192.1,355.1 190,354.6 188,354 186,353.5 184,353.1 182,352.7 180,352.2 177.9,351.7 175.9,351.1 173.9,350.6 171.9,350.4 169.9,350.3 167.9,350.4 165.9,350.5 163.8,350.6 161.8,350.5 159.8,350.5 157.8,350.6 155.8,350.7 153.8,351 151.8,351.3 149.7,351.8 147.7,352.2 145.7,352.6 143.7,352.8 141.7,353 139.7,353.1 137.7,353.1 135.6,353.2 133.6,353.2 131.6,353.2 129.6,353.2 127.6,353.3 125.6,353.3 123.6,353.4 121.5,353.4 119.5,353.3 117.5,353.3 115.5,353.5 113.5,353.9 111.5,354.6 109.5,355.5 107.4,356.5 105.4,357.3 103.4,358 101.4,358.4 99.4,358.7 97.4,359 95.4,359.3 93.3,359.4 91.3,359.6 89.3,359.9 87.3,360.3 85.3,360.9 83.3,361.6 81.2,362.3 79.2,363 77.2,363.5 75.2,364 73.2,364.4 71.2,364.9 69.2,365.6 67.1,366.4 65.1,367.5 63.1,368.6 61.1,369.6 59.1,370.5 57.1,371.3 55.1,372.2 53,373 51,373.9 49,374.8 47,375.6" fill="#000000" fill-opacity="0.3"/>
<polygon points="47,347.2 49,348.9 51,350.5 53,352 55.1,353.4 57.1,354.7 59.1,356 61.1,357.1 63.1,358.1 65.1,359 67.1,360 69.2,361.1 71.2,361.8 73.2,361.4 75.2,360.3 77.2,358.8 79.2,357.1 81.2,354.2 83.3,350.6 85.3,346.8 87.3,343.1 89.3,339.3 91.3,335.7 93.3,332.4 95.4,329.2 97.4,326.3 99.4,323.6 101.4,321.1 103.4,318.8 105.4,316.3 107.4,313.8 109.5,311.3 111.5,309.1 113.5,307.3 115.5,305.9 117.5,304.7 119.5,303.6 121.5,302.6 123.6,301.7 125.6,300.9 127.6,300 129.6,299.1 131.6,298.1 133.6,297 135.6,295.9 137.7,294.8 139.7,294 141.7,293.3 143.7,292.8 145.7,292.4 147.7,292.2 149.7,292.1 151.8,292.2 153.8,292.3 155.8,292.4 157.8,292.5 159.8,292.7 161.8,292.9 163.8,293.2 165.9,293.6 167.9,293.9 169.9,294.2 171.9,294.5 173.9,295 175.9,295.6 177.9,296.4 180,297.3 182,298.3 184,299.1 186,299.8 188,300.4 190,301 192.1,301.6 194.1,302.2 196.1,302.7 198.1,303.2 200.1,303.7 202.1,304.1 204.1,304.5 206.2,305 208.2,305.6 210.2,306.2 212.2,306.8 214.2,307.3 216.2,307.8 218.2,308.2 220.3,308.5 222.3,308.8 224.3,309 226.3,309.2 226.3,319 224.3,318.6 222.3,318.4 220.3,318.2 218.2,318 216.2,317.7 214.2,317.4 212.2,316.9 210.2,316.4 208.2,315.8 206.2,315.3 204.1,314.8 202.1,314.3 200.1,314 198.1,313.7 196.1,313.4 194.1,312.9 192.1,312.4 190,311.9 188,311.3 186,310.8 184,310.2 182,309.6 180,309 177.9,308.3 175.9,307.6 173.9,307 171.9,306.4 169.9,306 167.9,305.7 165.9,305.4 163.8,305.2 161.8,304.9 159.8,304.7 157.8,304.5 155.8,304.3 153.8,304.2 151.8,304.2 149.7,304.3 147.7,304.5 145.7,304.9 143.7,305.4 141.7,305.9 139.7,306.5 137.7,307.2 135.6,308.2 133.6,309.2 131.6,310.2 129.6,311.2 127.6,312.2 125.6,313.2 123.6,314.3 121.5,315.2 119.5,316.2 117.5,317.3 115.5,318.5 113.5,320 111.5,321.8 109.5,324.1 107.4,326.6 105.4,329.4 103.4,332.1 101.4,334.7 99.4,337.2 97.4,339.7 95.4,342.3 93.3,345.1 91.3,348.4 89.3,352.3 87.3,356.5 85.3,360.9 83.3,365.5 81.2,370.4 79.2,374.6 77.2,377.3 75.2,379.6 73.2,381.2 71.2,381.6 69.2,380.5 67.1,378.6 65.1,376.8 63.1,374.6 61.1,372.3 59.1,369.9 57.1,367.7 55.1,365.7 53,363.8 51,361.9 49,360.2 47,358.4" fill="#3c9a1e" fill-opacity="0.33"/>
<polygon points="47,335.1 49,334 51,333 53,331.9 55.1,330.7 57.1,329.5 59.1,328.4 61.1,327.3 63.1,326.1 65.1,324.8 67.1,323.4 69.2,322.1 71.2,321 73.2,320.1 75.2,319.5 77.2,319.3 79.2,319.4 81.2,319.7 83.3,320 85.3,320.4 87.3,320.7 89.3,321.1 91.3,321.5 93.3,322.1 95.4,322.8 97.4,323.5 99.4,324.2 101.4,324.7 103.4,325 105.4,325.3 107.4,325.7 109.5,326.2 111.5,327 113.5,328 115.5,329 117.5,329.7 119.5,329.9 121.5,329.8 123.6,329.6 125.6,329.3 127.6,328.9 129.6,328.7 131.6,328.6 133.6,328.5 135.6,328.4 137.7,328.2 139.7,328 141.7,327.8 143.7,327.7 145.7,327.7 147.7,327.9 149.7,327.9 151.8,327.7 153.8,327.2 155.8,326.6 157.8,326 159.8,325.7 161.8,325.8 163.8,326.3 165.9,327.2 167.9,329.1 169.9,332.6 171.9,336.3 173.9,339.4 175.9,342.3 177.9,345 180,347.1 182,348.3 184,349.2 186,349.9 188,350.5 190,350.9 192.1,351 194.1,350.9 196.1,350.8 198.1,350.7 200.1,350.4 202.1,350.1 204.1,349.8 206.2,350.2 208.2,351.8 210.2,354.1 212.2,356.1 214.2,357.7 216.2,359.2 218.2,360.5 220.3,361.5 222.3,362.4 224.3,363.4 226.3,364.5 226.3,377.4 224.3,376.6 222.3,375.9 220.3,375.2 218.2,374.4 216.2,373.4 214.2,372.3 212.2,371 210.2,369.3 208.2,367.2 206.2,365.4 204.1,364.9 202.1,365 200.1,365.3 198.1,365.5 196.1,365.6 194.1,365.8 192.1,365.8 190,365.9 188,365.7 186,365.4 184,364.8 182,364 180,363 177.9,361.2 175.9,359 173.9,356.6 171.9,354.3 169.9,351.4 167.9,348.6 165.9,347.3 163.8,347 161.8,346.8 159.8,346.6 157.8,346.4 155.8,346.1 153.8,346 151.8,345.9 149.7,346 147.7,346.2 145.7,346.4 143.7,346.5 141.7,346.5 139.7,346.4 137.7,346.6 135.6,346.9 133.6,347.4 131.6,347.9 129.6,348.4 127.6,348.8 125.6,349.2 123.6,349.4 121.5,349.5 119.5,349.3 117.5,348.6 115.5,347.5 113.5,346.5 111.5,345.6 109.5,345 107.4,344.4 105.4,343.8 103.4,343.2 101.4,342.6 99.4,341.9 97.4,341.1 95.4,340.2 93.3,339.5 91.3,339 89.3,338.7 87.3,338.5 85.3,338.3 83.3,338 81.2,337.7 79.2,337.4 77.2,337.3 75.2,337.9 73.2,339.4 71.2,341.4 69.2,343.7 67.1,346 65.1,348.3 63.1,350.4 61.1,352.3 59.1,354.4 57.1,356.6 55.1,359 53,361.5 51,364 49,366.5 47,369.1" fill="#1010e0" fill-opacity="0.38"/>
<polyline points="47,389.6 49,389.6 51,389.5 53,389.5 55.1,389.4 57.1,389.3 59.1,389.2 61.1,389.2 63.1,389.3 65.1,389.4 67.1,389.4 69.2,389.5 71.2,389.6 73.2,389.8 75.2,389.9 77.2,389.9 79.2,389.9 81.2,389.8 83.3,389.7 85.3,389.6 87.3,389.7 89.3,389.8 91.3,389.8 93.3,389.8 95.4,389.7 97.4,389.6 99.4,389.5 101.4,389.5 103.4,389.6 105.4,389.6 107.4,389.7 109.5,389.7 111.5,389.7 113.5,389.6 115.5,389.6 117.5,389.5 119.5,389.5 121.5,389.6 123.6,389.6 125.6,389.6 127.6,389.6 129.6,389.5 131.6,389.5 133.6,389.6 135.6,389.6 137.7,389.7 139.7,389.7 141.7,389.8 143.7,389.8 145.7,389.9 147.7,389.9 149.7,389.9 151.8,389.9 153.8,389.8 155.8,389.7 157.8,389.7 159.8,389.6 161.8,389.6 163.8,389.6 165.9,389.7 167.9,389.8 169.9,389.8 171.9,389.8 173.9,389.7 175.9,389.6 177.9,389.5 180,389.4 182,389.4 184,389.5 186,389.6 188,389.7 190,389.7 192.1,389.8 194.1,389.8 196.1,389.8 198.1,389.7 200.1,389.7 202.1,389.6 204.1,389.5 206.2,389.5 208.2,389.4 210.2,389.5 212.2,389.5 214.2,389.5 216.2,389.5 218.2,389.6 220.3,389.7 222.3,389.7 224.3,389.7 226.3,389.7" fill="none" stroke="#e85050" stroke-width="1.2"/>
<polyline points="47,348.5 49,348.2 51,347.8 53,347.3 55.1,346.8 57.1,346.3 59.1,345.8 61.1,345.2 63.1,344.7 65.1,344.1 67.1,343.5 69.2,342.9 71.2,342.4 73.2,341.8 75.2,341.3 77.2,340.7 79.2,340.1 81.2,339.6 83.3,339 85.3,338.5 87.3,337.9 89.3,337.3 91.3,336.6 93.3,335.8 95.4,335 97.4,334.3 99.4,333.6 101.4,333 103.4,332.4 105.4,331.6 107.4,330.8 109.5,330 111.5,329.4 113.5,329 115.5,328.9 117.5,328.8 119.5,328.9 121.5,328.9 123.6,328.8 125.6,328.8 127.6,328.6 129.6,328.4 131.6,328.3 133.6,328.1 135.6,328 137.7,327.8 139.7,327.7 141.7,327.5 143.7,327.2 145.7,327 147.7,326.7 149.7,326.4 151.8,326.2 153.8,326.1 155.8,325.9 157.8,325.8 159.8,325.7 161.8,325.7 163.8,325.8 165.9,326.1 167.9,326.7 169.9,327.3 171.9,327.9 173.9,328.5 175.9,329.1 177.9,330 180,330.9 182,331.8 184,332.6 186,333.3 188,334 190,334.6 192.1,335.1 194.1,335.6 196.1,336.1 198.1,336.6 200.1,337.2 202.1,337.7 204.1,338 206.2,338.1 208.2,338.1 210.2,338 212.2,337.8 214.2,337.7 216.2,337.6 218.2,337.7 220.3,338 222.3,338.4 224.3,339 226.3,339.7" fill="none" stroke="#222" stroke-width="0.8"/>
<polyline points="47,353.3 49,354.9 51,356.4 53,357.9 55.1,359.4 57.1,361 59.1,362.6 61.1,364.3 63.1,366 65.1,367.6 67.1,369.2 69.2,370.8 71.2,371.8 73.2,371.4 75.2,370.1 77.2,368.2 79.2,366.1 81.2,362.6 83.3,358.4 85.3,354.3 87.3,350.3 89.3,346.3 91.3,342.7 93.3,339.4 95.4,336.4 97.4,333.5 99.4,330.8 101.4,328.2 103.4,325.6 105.4,323.1 107.4,320.5 109.5,318 111.5,315.8 113.5,314 115.5,312.5 117.5,311.3 119.5,310.2 121.5,309.3 123.6,308.4 125.6,307.6 127.6,306.7 129.6,305.7 131.6,304.5 133.6,303.4 135.6,302.3 137.7,301.3 139.7,300.5 141.7,299.8 143.7,299.2 145.7,298.6 147.7,298.3 149.7,298.2 151.8,298.3 153.8,298.5 155.8,298.7 157.8,298.9 159.8,299 161.8,299.2 163.8,299.4 165.9,299.6 167.9,299.8 169.9,300.1 171.9,300.4 173.9,300.9 175.9,301.5 177.9,302.2 180,303 182,303.8 184,304.6 186,305.4 188,306 190,306.4 192.1,306.8 194.1,307.1 196.1,307.5 198.1,308 200.1,308.5 202.1,309 204.1,309.5 206.2,310.1 208.2,310.6 210.2,311.1 212.2,311.6 214.2,311.9 216.2,312.3 218.2,312.7 220.3,313.1 222.3,313.7 224.3,314.1 226.3,314.5" fill="none" stroke="#3d7a2a" stroke-width="0.8"/>
<polyline points="47,352.2 49,350.4 51,348.6 53,346.7 55.1,344.9 57.1,343.1 59.1,341.4 61.1,339.9 63.1,338.3 65.1,336.6 67.1,334.8 69.2,333 71.2,331.3 73.2,330 75.2,329 77.2,328.5 79.2,328.5 81.2,328.7 83.3,328.9 85.3,329.2 87.3,329.6 89.3,330 91.3,330.6 93.3,331.3 95.4,332 97.4,332.8 99.4,333.5 101.4,334.1 103.4,334.6 105.4,335 107.4,335.5 109.5,336 111.5,336.7 113.5,337.7 115.5,338.7 117.5,339.6 119.5,340.1 121.5,340.1 123.6,339.9 125.6,339.5 127.6,339.2 129.6,338.9 131.6,338.7 133.6,338.5 135.6,338.2 137.7,337.9 139.7,337.6 141.7,337.4 143.7,337.1 145.7,337 147.7,336.8 149.7,336.7 151.8,336.5 153.8,336.3 155.8,336 157.8,335.7 159.8,335.6 161.8,335.7 163.8,336.1 165.9,336.7 167.9,338.4 169.9,341.6 171.9,345.2 173.9,348 175.9,350.8 177.9,353.4 180,355.4 182,356.6 184,357.6 186,358.4 188,359 190,359.2 192.1,359.2 194.1,359 196.1,358.8 198.1,358.6 200.1,358.2 202.1,357.8 204.1,357.4 206.2,357.6 208.2,359.2 210.2,361.3 212.2,363.1 214.2,364.6 216.2,366 218.2,367.2 220.3,368.4 222.3,369.4 224.3,370.5 226.3,371.4" fill="none" stroke="#2828e0" stroke-width="0.8"/>
</g>
<rect x="47" y="286.5" width="179.3" height="124.5" fill="none" stroke="#9a9a9a" stroke-width="0.9"/>
<path d="M69.4 411v-2M91.8 411v-2M114.2 411v-2M136.7 411v-2M159.1 411v-2M181.5 411v-2M203.9 411v-2M47 301.2h2M47 323.8h2M47 346.4h2M47 369h2M47 391.6h2" stroke="#9a9a9a" stroke-width="0.8"/>
<clipPath id="cb2"><rect x="260.1" y="286.4" width="179.2" height="124.6"/></clipPath>
<g clip-path="url(#cb2)">
<polygon points="260.1,393.3 262.1,393.1 264.1,392.9 266.1,392.8 268.2,392.6 270.2,392.5 272.2,392.6 274.2,392.6 276.2,392.6 278.2,392.5 280.2,392.4 282.2,392.3 284.3,392.2 286.3,392.1 288.3,391.9 290.3,391.7 292.3,391.5 294.3,391.2 296.3,391 298.4,390.9 300.4,390.7 302.4,390.5 304.4,390.4 306.4,390.4 308.4,390.6 310.4,390.9 312.5,391.1 314.5,391.1 316.5,391 318.5,390.9 320.5,390.8 322.5,390.8 324.5,390.7 326.5,390.7 328.6,390.7 330.6,390.7 332.6,390.7 334.6,390.8 336.6,390.8 338.6,390.8 340.6,390.7 342.7,390.8 344.7,390.9 346.7,391 348.7,391.1 350.7,391.2 352.7,391.2 354.7,391.3 356.7,391.4 358.8,391.5 360.8,391.5 362.8,391.4 364.8,391.4 366.8,391.4 368.8,391.5 370.8,391.6 372.9,391.7 374.9,391.9 376.9,392 378.9,392 380.9,392 382.9,392.1 384.9,392.2 386.9,392.3 389,392.5 391,392.7 393,392.9 395,393 397,393 399,393 401,393 403.1,393 405.1,393.1 407.1,393.3 409.1,393.4 411.1,393.4 413.1,393.4 415.1,393.4 417.2,393.4 419.2,393.4 421.2,393.6 423.2,393.7 425.2,393.8 427.2,393.8 429.2,393.8 431.2,393.7 433.3,393.6 435.3,393.4 437.3,393.3 439.3,393.4 439.3,402.7 437.3,402.6 435.3,402.5 433.3,402.3 431.2,402.2 429.2,402.2 427.2,402.3 425.2,402.4 423.2,402.4 421.2,402.3 419.2,402.2 417.2,402.1 415.1,402.1 413.1,402 411.1,402 409.1,402 407.1,402.2 405.1,402.4 403.1,402.7 401,403 399,403.1 397,403 395,402.8 393,402.6 391,402.5 389,402.5 386.9,402.6 384.9,402.7 382.9,402.9 380.9,403.1 378.9,403.3 376.9,403.4 374.9,403.5 372.9,403.6 370.8,403.6 368.8,403.7 366.8,403.7 364.8,403.7 362.8,403.7 360.8,403.8 358.8,403.9 356.7,404 354.7,404.1 352.7,404.2 350.7,404.3 348.7,404.4 346.7,404.4 344.7,404.5 342.7,404.5 340.6,404.6 338.6,404.6 336.6,404.5 334.6,404.4 332.6,404.3 330.6,404.3 328.6,404.3 326.5,404.4 324.5,404.5 322.5,404.6 320.5,404.6 318.5,404.6 316.5,404.6 314.5,404.6 312.5,404.5 310.4,404.4 308.4,404.3 306.4,404.1 304.4,403.9 302.4,403.9 300.4,403.9 298.4,404 296.3,404 294.3,404.1 292.3,404 290.3,404 288.3,403.9 286.3,403.8 284.3,403.8 282.2,403.7 280.2,403.5 278.2,403.3 276.2,403.1 274.2,402.9 272.2,402.7 270.2,402.6 268.2,402.5 266.1,402.5 264.1,402.6 262.1,402.6 260.1,402.5" fill="#e23c3c" fill-opacity="0.34"/>
<polygon points="260.1,352 262.1,350.1 264.1,348.3 266.1,346.5 268.2,344.8 270.2,343.1 272.2,341.4 274.2,339.7 276.2,338.1 278.2,336.5 280.2,334.8 282.2,333 284.3,331.1 286.3,329.1 288.3,327.2 290.3,325.2 292.3,323.4 294.3,321.5 296.3,319.7 298.4,318 300.4,316.4 302.4,315 304.4,313.7 306.4,312.4 308.4,311.2 310.4,309.9 312.5,308.7 314.5,307.5 316.5,306.4 318.5,305.2 320.5,304 322.5,302.8 324.5,301.5 326.5,300.4 328.6,299.3 330.6,298.2 332.6,296.9 334.6,295.7 336.6,294.6 338.6,294 340.6,293.8 342.7,293.7 344.7,293.9 346.7,294 348.7,294.2 350.7,294.3 352.7,294.3 354.7,294.2 356.7,294 358.8,293.8 360.8,293.7 362.8,294.1 364.8,294.8 366.8,295.7 368.8,296.6 370.8,297.5 372.9,298.4 374.9,299.3 376.9,300.3 378.9,301.3 380.9,302.4 382.9,303.6 384.9,304.9 386.9,306.2 389,307.4 391,308.6 393,309.8 395,311 397,312 399,313 401,313.9 403.1,314.8 405.1,315.7 407.1,316.6 409.1,317.5 411.1,318.5 413.1,319.5 415.1,320.4 417.2,321.3 419.2,322.1 421.2,323.1 423.2,324.2 425.2,325.4 427.2,326.5 429.2,327.5 431.2,328.3 433.3,329.1 435.3,330 437.3,330.8 439.3,331.5 439.3,345.8 437.3,345.3 435.3,344.8 433.3,344.1 431.2,343.5 429.2,342.9 427.2,342.4 425.2,341.9 423.2,341.4 421.2,340.7 419.2,339.9 417.2,338.9 415.1,337.6 413.1,336.1 411.1,334.6 409.1,333.2 407.1,332 405.1,331 403.1,330 401,328.8 399,327.5 397,326.2 395,324.7 393,323.3 391,321.9 389,320.6 386.9,319.5 384.9,318.4 382.9,317.5 380.9,316.4 378.9,315.2 376.9,313.8 374.9,312.2 372.9,310.6 370.8,309.2 368.8,308 366.8,306.9 364.8,305.8 362.8,305 360.8,304.5 358.8,304.6 356.7,305.1 354.7,305.8 352.7,306.4 350.7,306.8 348.7,306.8 346.7,306.6 344.7,306.3 342.7,306.1 340.6,305.9 338.6,306 336.6,306.7 334.6,308.2 332.6,310.1 330.6,311.9 328.6,313.4 326.5,314.8 324.5,316.2 322.5,317.7 320.5,319.3 318.5,320.9 316.5,322.4 314.5,323.8 312.5,325.2 310.4,326.7 308.4,328.5 306.4,330.4 304.4,332.5 302.4,334.5 300.4,336.5 298.4,338.3 296.3,340.1 294.3,341.9 292.3,343.8 290.3,345.9 288.3,348.2 286.3,350.4 284.3,352.7 282.2,355 280.2,357.2 278.2,359.3 276.2,361.1 274.2,363.1 272.2,365.3 270.2,367.7 268.2,370.3 266.1,372.7 264.1,375.1 262.1,377.5 260.1,380.1" fill="#000000" fill-opacity="0.3"/>
<polygon points="260.1,375.7 262.1,373.9 264.1,372 266.1,370.1 268.2,368.2 270.2,366.2 272.2,364.3 274.2,362.6 276.2,360.8 278.2,359 280.2,356.8 282.2,354.2 284.3,351.2 286.3,348 288.3,345.1 290.3,342.4 292.3,340 294.3,337.6 296.3,335.2 298.4,332.7 300.4,330.2 302.4,327.8 304.4,325.6 306.4,323.6 308.4,321.6 310.4,319.8 312.5,318 314.5,316.1 316.5,314.3 318.5,312.5 320.5,310.8 322.5,309 324.5,307.1 326.5,305.1 328.6,303.3 330.6,301.6 332.6,300 334.6,298.6 336.6,297.4 338.6,296.5 340.6,295.8 342.7,295 344.7,294.3 346.7,293.7 348.7,293.4 350.7,293.5 352.7,293.8 354.7,294.2 356.7,294.8 358.8,295.2 360.8,295.6 362.8,296 364.8,296.6 366.8,297.3 368.8,298.3 370.8,299.2 372.9,300.2 374.9,301.2 376.9,302.2 378.9,303.1 380.9,303.9 382.9,304.6 384.9,305.3 386.9,306 389,306.9 391,308 393,309.1 395,310.4 397,311.6 399,312.7 401,313.6 403.1,314.5 405.1,315.3 407.1,316.2 409.1,317 411.1,317.9 413.1,318.7 415.1,319.7 417.2,320.7 419.2,321.6 421.2,322.4 423.2,323 425.2,323.5 427.2,324 429.2,324.5 431.2,325.1 433.3,325.7 435.3,326.4 437.3,327.3 439.3,328.4 439.3,337.7 437.3,337.2 435.3,336.7 433.3,336.1 431.2,335.4 429.2,334.7 427.2,333.9 425.2,332.9 423.2,331.8 421.2,330.7 419.2,329.8 417.2,328.9 415.1,327.9 413.1,326.9 411.1,326 409.1,325.1 407.1,324.4 405.1,323.6 403.1,322.8 401,321.8 399,320.6 397,319.3 395,318 393,316.7 391,315.4 389,314.2 386.9,313.1 384.9,312.1 382.9,311.1 380.9,310.1 378.9,309.2 376.9,308.2 374.9,307.3 372.9,306.5 370.8,305.8 368.8,305.2 366.8,304.6 364.8,304 362.8,303.3 360.8,302.7 358.8,302.3 356.7,301.8 354.7,301.5 352.7,301.3 350.7,301.2 348.7,301.2 346.7,301.4 344.7,301.7 342.7,302.2 340.6,302.8 338.6,303.6 336.6,304.6 334.6,306 332.6,307.6 330.6,309.3 328.6,311 326.5,312.7 324.5,314.4 322.5,316.1 320.5,317.9 318.5,319.7 316.5,321.5 314.5,323.4 312.5,325.3 310.4,327.2 308.4,329.1 306.4,330.8 304.4,332.6 302.4,334.6 300.4,336.8 298.4,339.3 296.3,341.9 294.3,344.6 292.3,347.2 290.3,349.8 288.3,352.4 286.3,355.3 284.3,358.2 282.2,361.2 280.2,364 278.2,366.4 276.2,368.5 274.2,370.4 272.2,372.3 270.2,374.3 268.2,376.4 266.1,378.5 264.1,380.5 262.1,382.3 260.1,384" fill="#3c9a1e" fill-opacity="0.33"/>
<polygon points="260.1,353.5 262.1,351.7 264.1,349.9 266.1,348.1 268.2,346.3 270.2,344.5 272.2,342.7 274.2,340.9 276.2,339 278.2,337.1 280.2,335 282.2,332.9 284.3,330.8 286.3,328.8 288.3,327 290.3,325.4 292.3,324 294.3,322.5 296.3,321 298.4,319.6 300.4,318.3 302.4,317.2 304.4,316.4 306.4,315.6 308.4,314.8 310.4,313.8 312.5,312.9 314.5,312 316.5,311.1 318.5,310.2 320.5,309.1 322.5,307.8 324.5,306.4 326.5,305 328.6,303.7 330.6,302.4 332.6,300.9 334.6,299.5 336.6,298.4 338.6,298 340.6,298.1 342.7,298.2 344.7,298.4 346.7,298.6 348.7,298.9 350.7,299.2 352.7,299.9 354.7,301 356.7,302.3 358.8,303.6 360.8,304.8 362.8,305.9 364.8,307.1 366.8,308.4 368.8,309.6 370.8,310.9 372.9,312 374.9,312.9 376.9,313.8 378.9,314.8 380.9,315.9 382.9,317.4 384.9,319.3 386.9,321.5 389,323.9 391,326.1 393,327.9 395,329.4 397,330.8 399,332.2 401,334 403.1,336 405.1,338 407.1,340.1 409.1,341.9 411.1,343.5 413.1,345.1 415.1,346.7 417.2,348.1 419.2,349.2 421.2,349.8 423.2,350 425.2,349.6 427.2,348.6 429.2,347.6 431.2,346.7 433.3,346.5 435.3,346.4 437.3,346.3 439.3,346.2 439.3,357.3 437.3,357.4 435.3,357.5 433.3,357.7 431.2,358.1 429.2,359.1 427.2,360.4 425.2,361.4 423.2,361.9 421.2,361.6 419.2,360.6 417.2,359 415.1,357.3 413.1,355.4 411.1,353.7 409.1,351.9 407.1,349.9 405.1,347.7 403.1,345.4 401,343.2 399,341.2 397,339.4 395,337.7 393,336.1 391,334.2 389,332.2 386.9,330.2 384.9,328.3 382.9,326.6 380.9,325.1 378.9,323.7 376.9,322.5 374.9,321.4 372.9,320.3 370.8,319.1 368.8,317.9 366.8,316.5 364.8,315 362.8,313.5 360.8,312 358.8,310.5 356.7,309 354.7,307.7 352.7,306.7 350.7,306.1 348.7,305.8 346.7,305.7 344.7,305.6 342.7,305.6 340.6,305.6 338.6,305.7 336.6,306.3 334.6,307.3 332.6,308.7 330.6,310 328.6,311.1 326.5,312.3 324.5,313.5 322.5,314.9 320.5,316.2 318.5,317.5 316.5,318.6 314.5,319.5 312.5,320.2 310.4,321 308.4,322 306.4,322.9 304.4,323.8 302.4,324.7 300.4,325.6 298.4,326.5 296.3,327.6 294.3,329 292.3,330.5 290.3,332.1 288.3,334 286.3,336.2 284.3,338.5 282.2,340.9 280.2,343.2 278.2,345.4 276.2,347.5 274.2,349.6 272.2,351.5 270.2,353.5 268.2,355.5 266.1,357.5 264.1,359.5 262.1,361.2 260.1,362.9" fill="#1010e0" fill-opacity="0.38"/>
<polyline points="260.1,397.8 262.1,397.8 264.1,397.9 266.1,398 268.2,398.1 270.2,398.1 272.2,398.1 274.2,398 276.2,397.9 278.2,397.9 280.2,397.9 282.2,398 284.3,398 286.3,398 288.3,398 290.3,398 292.3,398 294.3,398 296.3,397.9 298.4,397.9 300.4,397.9 302.4,397.9 304.4,398 306.4,398.1 308.4,398.1 310.4,398 312.5,398 314.5,397.9 316.5,397.9 318.5,398 320.5,398 322.5,397.9 324.5,397.9 326.5,397.8 328.6,397.8 330.6,397.9 332.6,398 334.6,398.1 336.6,398.2 338.6,398.2 340.6,398.2 342.7,398.2 344.7,398.1 346.7,398 348.7,397.9 350.7,397.8 352.7,397.8 354.7,397.8 356.7,397.8 358.8,397.8 360.8,397.7 362.8,397.7 364.8,397.7 366.8,397.8 368.8,398 370.8,398.2 372.9,398.3 374.9,398.3 376.9,398.2 378.9,398.2 380.9,398.1 382.9,398.1 384.9,398.1 386.9,398 389,398 391,398 393,397.9 395,397.8 397,397.7 399,397.7 401,397.6 403.1,397.6 405.1,397.7 407.1,397.7 409.1,397.7 411.1,397.7 413.1,397.7 415.1,397.8 417.2,397.8 419.2,397.9 421.2,397.9 423.2,397.9 425.2,398 427.2,398 429.2,398 431.2,398 433.3,398 435.3,398 437.3,398 439.3,398" fill="none" stroke="#e85050" stroke-width="1.2"/>
<polyline points="260.1,367.1 262.1,364.6 264.1,362.1 266.1,359.7 268.2,357.4 270.2,355.1 272.2,352.8 274.2,350.5 276.2,348.3 278.2,346.2 280.2,344.1 282.2,342.1 284.3,340.2 286.3,338.3 288.3,336.4 290.3,334.6 292.3,332.8 294.3,331 296.3,329.3 298.4,327.6 300.4,326 302.4,324.5 304.4,323 306.4,321.4 308.4,319.8 310.4,318.3 312.5,316.9 314.5,315.6 316.5,314.3 318.5,313 320.5,311.7 322.5,310.4 324.5,309 326.5,307.7 328.6,306.4 330.6,305.3 332.6,304 334.6,302.8 336.6,301.7 338.6,301 340.6,300.5 342.7,300.1 344.7,299.9 346.7,299.7 348.7,299.6 350.7,299.5 352.7,299.4 354.7,299.4 356.7,299.4 358.8,299.3 360.8,299.4 362.8,300 364.8,300.9 366.8,301.9 368.8,303 370.8,304 372.9,305 374.9,306 376.9,307.1 378.9,308.3 380.9,309.6 382.9,310.9 384.9,312.3 386.9,313.7 389,314.8 391,315.8 393,316.9 395,318 397,319.2 399,320.4 401,321.7 403.1,322.8 405.1,323.8 407.1,324.9 409.1,325.9 411.1,327 413.1,328.2 415.1,329.3 417.2,330.4 419.2,331.3 421.2,332.2 423.2,333.1 425.2,333.8 427.2,334.6 429.2,335.3 431.2,336.2 433.3,337 435.3,337.9 437.3,338.6 439.3,339.3" fill="none" stroke="#222" stroke-width="0.8"/>
<polyline points="260.1,379.6 262.1,377.6 264.1,375.6 266.1,373.7 268.2,371.7 270.2,369.8 272.2,368 274.2,366.1 276.2,364.2 278.2,362.2 280.2,359.9 282.2,357.3 284.3,354.5 286.3,351.6 288.3,348.7 290.3,346 292.3,343.3 294.3,340.8 296.3,338.3 298.4,336 300.4,333.8 302.4,331.7 304.4,329.7 306.4,327.7 308.4,325.7 310.4,323.8 312.5,321.8 314.5,319.9 316.5,318 318.5,316.1 320.5,314.4 322.5,312.7 324.5,311 326.5,309.4 328.6,307.7 330.6,306 332.6,304.2 334.6,302.4 336.6,300.8 338.6,299.6 340.6,298.7 342.7,297.9 344.7,297.1 346.7,296.7 348.7,296.5 350.7,296.6 352.7,296.8 354.7,297.2 356.7,297.6 358.8,298 360.8,298.5 362.8,299 364.8,299.7 366.8,300.5 368.8,301.3 370.8,302.3 372.9,303.3 374.9,304.4 376.9,305.4 378.9,306.4 380.9,307.3 382.9,308.2 384.9,309.1 386.9,310 389,311 391,311.9 393,312.9 395,314 397,315.1 399,316.2 401,317.3 403.1,318.4 405.1,319.3 407.1,320.3 409.1,321.1 411.1,321.9 413.1,322.7 415.1,323.6 417.2,324.5 419.2,325.3 421.2,326.1 423.2,326.8 425.2,327.5 427.2,328.2 429.2,329 431.2,329.9 433.3,330.8 435.3,331.6 437.3,332.5 439.3,333.3" fill="none" stroke="#3d7a2a" stroke-width="0.8"/>
<polyline points="260.1,358.2 262.1,356.5 264.1,354.7 266.1,352.7 268.2,350.7 270.2,348.7 272.2,346.8 274.2,345 276.2,343.1 278.2,341.2 280.2,339.2 282.2,336.9 284.3,334.5 286.3,332.1 288.3,329.9 290.3,328.1 292.3,326.5 294.3,325.1 296.3,323.8 298.4,322.6 300.4,321.6 302.4,320.8 304.4,320 306.4,319.3 308.4,318.5 310.4,317.6 312.5,316.8 314.5,315.9 316.5,315.1 318.5,314.1 320.5,313 322.5,311.7 324.5,310.3 326.5,308.9 328.6,307.6 330.6,306.3 332.6,304.7 334.6,303.2 336.6,302.1 338.6,301.7 340.6,301.8 342.7,302 344.7,302.2 346.7,302.4 348.7,302.7 350.7,303 352.7,303.6 354.7,304.6 356.7,305.7 358.8,307 360.8,308.3 362.8,309.8 364.8,311.2 366.8,312.6 368.8,313.8 370.8,315 372.9,316.1 374.9,317 376.9,318 378.9,319.1 380.9,320.6 382.9,322.4 384.9,324.5 386.9,326.8 389,329 391,331.1 393,332.8 395,334.2 397,335.6 399,337 401,338.7 403.1,340.7 405.1,342.9 407.1,345.1 409.1,347.2 411.1,349 413.1,350.7 415.1,352.4 417.2,353.9 419.2,355.1 421.2,355.8 423.2,356 425.2,355.4 427.2,354.3 429.2,353.1 431.2,352.2 433.3,351.9 435.3,352 437.3,352 439.3,352.2" fill="none" stroke="#2828e0" stroke-width="0.8"/>
</g>
<rect x="260.1" y="286.4" width="179.2" height="124.6" fill="none" stroke="#9a9a9a" stroke-width="0.9"/>
<path d="M282.5 411v-2M304.9 411v-2M327.3 411v-2M349.7 411v-2M372.1 411v-2M394.5 411v-2M416.9 411v-2M260.1 301.2h2M260.1 323.8h2M260.1 346.4h2M260.1 369h2M260.1 391.6h2" stroke="#9a9a9a" stroke-width="0.8"/>
<text x="7" y="286.6" font-size="15.5" text-anchor="start" font-weight="bold" fill="#000">B</text>
<text x="139.7" y="283" font-size="11" text-anchor="middle" font-weight="bold" fill="#000">RC1</text>
<text x="350" y="283" font-size="11" text-anchor="middle" font-weight="bold" fill="#000">RC2</text>
<text x="25.8" y="345.6" font-size="12" text-anchor="middle" fill="#000" transform="rotate(-90 25.8 345.6)">relative distance</text>
<text x="43" y="305.5" font-size="12.3" text-anchor="end" fill="#000">40</text>
<text x="43" y="351.9" font-size="12.3" text-anchor="end" fill="#000">20</text>
<text x="43" y="395.6" font-size="12.3" text-anchor="end" fill="#000">0</text>
<text x="256.5" y="305.5" font-size="12.3" text-anchor="end" fill="#000">40</text>
<text x="256.5" y="351.9" font-size="12.3" text-anchor="end" fill="#000">20</text>
<text x="256.5" y="395.7" font-size="12.3" text-anchor="end" fill="#000">0</text>
<text x="45.8" y="425.6" font-size="12.3" text-anchor="middle" fill="#000">-100</text>
<text x="137.4" y="425.6" font-size="12.3" text-anchor="middle" fill="#000">0</text>
<text x="221.2" y="425.6" font-size="12.3" text-anchor="middle" fill="#000">100</text>
<text x="260.3" y="425.6" font-size="12.3" text-anchor="middle" fill="#000">-100</text>
<text x="351.8" y="425.6" font-size="12.3" text-anchor="middle" fill="#000">0</text>
<text x="435.8" y="425.6" font-size="12.3" text-anchor="middle" fill="#000">100</text>
<text x="141" y="440" font-size="12" text-anchor="middle" fill="#000">time [ms]</text>
<text x="354" y="440" font-size="12" text-anchor="middle" fill="#000">time [ms]</text>
<rect x="447.6" y="347.2" width="62.1" height="62.3" fill="#fff" stroke="#000" stroke-width="1.2"/>
<line x1="451.4" y1="356.9" x2="466.6" y2="356.9" stroke="#d83a2e" stroke-width="1.5"/>
<text x="468.6" y="360.3" font-size="10" text-anchor="start" fill="#000">apple</text>
<line x1="451.4" y1="371" x2="466.6" y2="371" stroke="#2a3ee8" stroke-width="1.5"/>
<text x="468.6" y="374.4" font-size="10" text-anchor="start" fill="#000">grape</text>
<line x1="451.4" y1="385" x2="466.6" y2="385" stroke="#64b045" stroke-width="1.5"/>
<text x="468.6" y="388.4" font-size="10" text-anchor="start" fill="#000">banana</text>
<line x1="451.4" y1="399.6" x2="466.6" y2="399.6" stroke="#000" stroke-width="1.5"/>
<text x="469.6" y="403" font-size="10" text-anchor="start" fill="#000">RS</text>
<rect x="50" y="484.3" width="45.3" height="44.8" fill="#580010" stroke="none" stroke-width="1"/>
<rect x="95" y="484.3" width="45.3" height="44.8" fill="#de7052" stroke="none" stroke-width="1"/>
<rect x="140" y="484.3" width="45.3" height="44.8" fill="#9b1a1f" stroke="none" stroke-width="1"/>
<rect x="185" y="484.3" width="45.3" height="44.8" fill="#e08a6a" stroke="none" stroke-width="1"/>
<rect x="50" y="528.8" width="45.3" height="44.8" fill="#de7052" stroke="none" stroke-width="1"/>
<rect x="95" y="528.8" width="45.3" height="44.8" fill="#580010" stroke="none" stroke-width="1"/>
<rect x="140" y="528.8" width="45.3" height="44.8" fill="#edc8b2" stroke="none" stroke-width="1"/>
<rect x="185" y="528.8" width="45.3" height="44.8" fill="#faf0ec" stroke="none" stroke-width="1"/>
<rect x="50" y="573.3" width="45.3" height="44.8" fill="#9b1a1f" stroke="none" stroke-width="1"/>
<rect x="95" y="573.3" width="45.3" height="44.8" fill="#ecc8b2" stroke="none" stroke-width="1"/>
<rect x="140" y="573.3" width="45.3" height="44.8" fill="#580010" stroke="none" stroke-width="1"/>
<rect x="185" y="573.3" width="45.3" height="44.8" fill="#f8ebe5" stroke="none" stroke-width="1"/>
<rect x="50" y="617.8" width="45.3" height="44.8" fill="#e08a6a" stroke="none" stroke-width="1"/>
<rect x="95" y="617.8" width="45.3" height="44.8" fill="#fbf3f0" stroke="none" stroke-width="1"/>
<rect x="140" y="617.8" width="45.3" height="44.8" fill="#f9ede8" stroke="none" stroke-width="1"/>
<rect x="185" y="617.8" width="45.3" height="44.8" fill="#580010" stroke="none" stroke-width="1"/>
<rect x="50" y="484.3" width="180" height="178" fill="none" stroke="#111" stroke-width="1.2"/>
<rect x="268.4" y="484.4" width="45.2" height="44.8" fill="#580010" stroke="none" stroke-width="1"/>
<rect x="313.3" y="484.4" width="45.2" height="44.8" fill="#f6e2d8" stroke="none" stroke-width="1"/>
<rect x="358.2" y="484.4" width="45.2" height="44.8" fill="#e8a88c" stroke="none" stroke-width="1"/>
<rect x="403.1" y="484.4" width="45.2" height="44.8" fill="#f4ded0" stroke="none" stroke-width="1"/>
<rect x="268.4" y="528.9" width="45.2" height="44.8" fill="#f6e2d8" stroke="none" stroke-width="1"/>
<rect x="313.3" y="528.9" width="45.2" height="44.8" fill="#580010" stroke="none" stroke-width="1"/>
<rect x="358.2" y="528.9" width="45.2" height="44.8" fill="#f9ece6" stroke="none" stroke-width="1"/>
<rect x="403.1" y="528.9" width="45.2" height="44.8" fill="#fbf1ee" stroke="none" stroke-width="1"/>
<rect x="268.4" y="573.3" width="45.2" height="44.8" fill="#e8a88c" stroke="none" stroke-width="1"/>
<rect x="313.3" y="573.3" width="45.2" height="44.8" fill="#f8ebe5" stroke="none" stroke-width="1"/>
<rect x="358.2" y="573.3" width="45.2" height="44.8" fill="#580010" stroke="none" stroke-width="1"/>
<rect x="403.1" y="573.3" width="45.2" height="44.8" fill="#fcf2ef" stroke="none" stroke-width="1"/>
<rect x="268.4" y="617.8" width="45.2" height="44.8" fill="#f4ded0" stroke="none" stroke-width="1"/>
<rect x="313.3" y="617.8" width="45.2" height="44.8" fill="#fcf3f0" stroke="none" stroke-width="1"/>
<rect x="358.2" y="617.8" width="45.2" height="44.8" fill="#fcf3f0" stroke="none" stroke-width="1"/>
<rect x="403.1" y="617.8" width="45.2" height="44.8" fill="#580010" stroke="none" stroke-width="1"/>
<rect x="268.4" y="484.4" width="179.6" height="177.9" fill="none" stroke="#111" stroke-width="1.2"/>
<text x="7.5" y="475.8" font-size="15.5" text-anchor="start" font-weight="bold" fill="#000">C</text>
<text x="140.4" y="468.2" font-size="11.5" text-anchor="middle" font-weight="bold" fill="#000">RC1</text>
<text x="357.8" y="468.2" font-size="11.5" text-anchor="middle" font-weight="bold" fill="#000">RC2</text>
<text x="72.5" y="478.6" font-size="9.2" text-anchor="middle" fill="#222">RS</text>
<text x="117.5" y="479.9" font-size="11.8" text-anchor="middle" fill="#222">apple</text>
<text x="162.5" y="479.9" font-size="11.8" text-anchor="middle" fill="#222">grape</text>
<text x="207.5" y="479.9" font-size="11.8" text-anchor="middle" fill="#222">banana</text>
<text x="45.9" y="506.6" font-size="11" text-anchor="middle" fill="#222" transform="rotate(-90 45.9 506.6)">RS</text>
<text x="43.4" y="551" font-size="11.8" text-anchor="middle" fill="#222" transform="rotate(-90 43.4 551)">apple</text>
<text x="43.4" y="595.5" font-size="11.8" text-anchor="middle" fill="#222" transform="rotate(-90 43.4 595.5)">grape</text>
<text x="43.4" y="640" font-size="11.8" text-anchor="middle" fill="#222" transform="rotate(-90 43.4 640)">banana</text>
<text x="290.8" y="478.6" font-size="9.2" text-anchor="middle" fill="#222">RS</text>
<text x="335.8" y="479.9" font-size="11.8" text-anchor="middle" fill="#222">apple</text>
<text x="380.6" y="479.9" font-size="11.8" text-anchor="middle" fill="#222">grape</text>
<text x="425.5" y="479.9" font-size="11.8" text-anchor="middle" fill="#222">banana</text>
<text x="264.3" y="506.6" font-size="11" text-anchor="middle" fill="#222" transform="rotate(-90 264.3 506.6)">RS</text>
<text x="261.8" y="551" font-size="11.8" text-anchor="middle" fill="#222" transform="rotate(-90 261.8 551)">apple</text>
<text x="261.8" y="595.5" font-size="11.8" text-anchor="middle" fill="#222" transform="rotate(-90 261.8 595.5)">grape</text>
<text x="261.8" y="640" font-size="11.8" text-anchor="middle" fill="#222" transform="rotate(-90 261.8 640)">banana</text>
<defs><linearGradient id="cbg" x1="0" y1="1" x2="0" y2="0"><stop offset="0.000" stop-color="#fdf3ef"/><stop offset="0.100" stop-color="#f9e2d8"/><stop offset="0.213" stop-color="#f5cab6"/><stop offset="0.326" stop-color="#eea088"/><stop offset="0.438" stop-color="#e6745a"/><stop offset="0.550" stop-color="#d84c3c"/><stop offset="0.663" stop-color="#c02c2a"/><stop offset="0.775" stop-color="#a8181f"/><stop offset="0.888" stop-color="#821018"/><stop offset="1.000" stop-color="#560010"/></linearGradient></defs>
<rect x="469.6" y="484.8" width="9" height="178" fill="url(#cbg)" stroke="#8a8a8a" stroke-width="0.8"/>
<text x="483.6" y="488" font-size="7.5" text-anchor="start" fill="#333">1.0</text>
<text x="483.6" y="507.9" font-size="7.5" text-anchor="start" fill="#333">0.9</text>
<text x="483.6" y="527.9" font-size="7.5" text-anchor="start" fill="#333">0.8</text>
<text x="483.6" y="547.9" font-size="7.5" text-anchor="start" fill="#333">0.7</text>
<text x="483.6" y="567.8" font-size="7.5" text-anchor="start" fill="#333">0.6</text>
<text x="483.6" y="587.8" font-size="7.5" text-anchor="start" fill="#333">0.5</text>
<text x="483.6" y="607.7" font-size="7.5" text-anchor="start" fill="#333">0.4</text>
<text x="483.6" y="627.7" font-size="7.5" text-anchor="start" fill="#333">0.3</text>
<text x="483.6" y="647.6" font-size="7.5" text-anchor="start" fill="#333">0.2</text>
<path d="M478.6 485.3h1.8M478.6 505.2h1.8M478.6 525.2h1.8M478.6 545.1h1.8M478.6 565.1h1.8M478.6 585h1.8M478.6 605h1.8M478.6 625h1.8M478.6 644.9h1.8" stroke="#555" stroke-width="0.8"/>
<rect x="62" y="702.4" width="172.5" height="172.2" fill="#fff"/>
<path d="M90.8 702.4V874.6M119.5 702.4V874.6M148.2 702.4V874.6M177 702.4V874.6M205.8 702.4V874.6M62 736.8H234.5M62 771.3H234.5M62 805.7H234.5M62 840.2H234.5" stroke="#d0d0d0" stroke-width="0.7" fill="none"/>
<polyline points="62,837.7 67.8,819.6 73.5,805 79.2,793.1 85,783.3 90.8,775.1 96.5,768.2 102.2,762.3 108,757.1 113.8,752.5 119.5,748.4 125.2,744.6 131,741.1 136.8,737.9 142.5,734.8 148.2,731.8 154,729 159.8,726.4 165.5,723.8 171.2,721.3 177,718.9 182.8,716.6 188.5,714.3 194.2,712.2 200,710.2 205.8,708.2 211.5,706.5 217.2,704.8 223,703.4 228.8,702.4" fill="none" stroke="#ff7f0e" stroke-width="1.1" stroke-opacity="0.62" stroke-linejoin="round"/>
<polyline points="62,837.7 67.8,816.5 73.5,800.5 79.2,788.3 85,778.8 90.8,771.1 96.5,764.8 102.2,759.4 108,754.7 113.8,750.5 119.5,746.7 125.2,743.2 131,739.9 136.8,736.7 142.5,733.7 148.2,730.8 154,728 159.8,725.3 165.5,722.7 171.2,720.2 177,717.8 182.8,715.5 188.5,713.3 194.2,711.2 200,709.3 205.8,707.5 211.5,705.8 217.2,704.4 223,703.2 228.8,702.4" fill="none" stroke="#2ca02c" stroke-width="1.1" stroke-opacity="0.62" stroke-linejoin="round"/>
<polyline points="62,837.7 67.8,811.3 73.5,794.1 79.2,782.3 85,773.8 90.8,767.3 96.5,762 102.2,757.5 108,753.4 113.8,749.6 119.5,746 125.2,742.6 131,739.3 136.8,736.1 142.5,733.1 148.2,730.1 154,727.3 159.8,724.5 165.5,721.9 171.2,719.3 177,716.9 182.8,714.6 188.5,712.4 194.2,710.4 200,708.5 205.8,706.8 211.5,705.3 217.2,704 223,703 228.8,702.4" fill="none" stroke="#d62728" stroke-width="1.1" stroke-opacity="0.62" stroke-linejoin="round"/>
<polyline points="62,837.7 67.8,809.1 73.5,791.7 79.2,780.4 85,772.5 90.8,766.5 96.5,761.6 102.2,757.2 108,753.3 113.8,749.5 119.5,746 125.2,742.6 131,739.3 136.8,736.1 142.5,733 148.2,730 154,727.1 159.8,724.3 165.5,721.6 171.2,719.1 177,716.7 182.8,714.4 188.5,712.2 194.2,710.2 200,708.3 205.8,706.6 211.5,705.2 217.2,703.9 223,702.9 228.8,702.4" fill="none" stroke="#9467bd" stroke-width="1.1" stroke-opacity="0.62" stroke-linejoin="round"/>
<polyline points="62,793.8 67.8,771.8 73.5,758.8 79.2,750.5 85,744.9 90.8,740.6 96.5,737.1 102.2,734.1 108,731.3 113.8,728.8 119.5,726.4 125.2,724.1 131,722 136.8,719.9 142.5,718 148.2,716.1 154,714.4 159.8,712.8 165.5,711.3 171.2,709.8 177,708.5 182.8,707.4 188.5,706.3 194.2,705.3 200,704.5 205.8,703.8 211.5,703.2 217.2,702.8 223,702.5 228.8,702.4" fill="none" stroke="#1f77b4" stroke-width="1.1" stroke-opacity="0.62" stroke-linejoin="round"/>
<rect x="62" y="702.4" width="172.5" height="172.2" fill="none" stroke="#7a7a7a" stroke-width="0.9"/>
<path d="M62 874.6v2.2M90.8 874.6v2.2M119.5 874.6v2.2M148.2 874.6v2.2M177 874.6v2.2M205.8 874.6v2.2M234.5 874.6v2.2M62 702.4h-2.2M62 736.8h-2.2M62 771.3h-2.2M62 805.7h-2.2M62 840.2h-2.2M62 874.6h-2.2" stroke="#555" stroke-width="0.8" fill="none"/>
<rect x="63.7" y="832.6" width="39.7" height="39.4" fill="#fff" stroke="#e6e6e6" stroke-width="0.8" fill-opacity="0.8"/>
<line x1="65.4" y1="836.6" x2="75.9" y2="836.6" stroke="#1f77b4" stroke-width="1.0" stroke-opacity="0.45"/>
<text x="80" y="838.4" font-size="5.2" text-anchor="start" fill="#666">C=0</text>
<line x1="65.4" y1="844.3" x2="75.9" y2="844.3" stroke="#ff7f0e" stroke-width="1.0" stroke-opacity="0.45"/>
<text x="80" y="846.1" font-size="5.2" text-anchor="start" fill="#666">C=100</text>
<line x1="65.4" y1="851.8" x2="75.9" y2="851.8" stroke="#2ca02c" stroke-width="1.0" stroke-opacity="0.45"/>
<text x="80" y="853.6" font-size="5.2" text-anchor="start" fill="#666">C=500</text>
<line x1="65.4" y1="859.4" x2="75.9" y2="859.4" stroke="#d62728" stroke-width="1.0" stroke-opacity="0.45"/>
<text x="80" y="861.2" font-size="5.2" text-anchor="start" fill="#666">C=1100</text>
<line x1="65.4" y1="867.1" x2="75.9" y2="867.1" stroke="#9467bd" stroke-width="1.0" stroke-opacity="0.45"/>
<text x="80" y="868.9" font-size="5.2" text-anchor="start" fill="#666">C=2200</text>
<rect x="168.6" y="808.6" width="60.5" height="59.4" fill="#fff" stroke="#dddddd" stroke-width="0.8" fill-opacity="0.8"/>
<line x1="171.3" y1="814" x2="187.9" y2="814" stroke="#1f77b4" stroke-width="1.6" stroke-opacity="0.62"/>
<text x="193.8" y="817.3" font-size="9.3" text-anchor="start" fill="#333">C=0</text>
<line x1="171.3" y1="826.1" x2="187.9" y2="826.1" stroke="#ff7f0e" stroke-width="1.6" stroke-opacity="0.62"/>
<text x="193.8" y="829.4" font-size="9.3" text-anchor="start" fill="#333">C=100</text>
<line x1="171.3" y1="837.5" x2="187.9" y2="837.5" stroke="#2ca02c" stroke-width="1.6" stroke-opacity="0.62"/>
<text x="193.8" y="840.8" font-size="9.3" text-anchor="start" fill="#333">C=500</text>
<line x1="171.3" y1="849.2" x2="187.9" y2="849.2" stroke="#d62728" stroke-width="1.6" stroke-opacity="0.62"/>
<text x="193.8" y="852.5" font-size="9.3" text-anchor="start" fill="#333">C=1100</text>
<line x1="171.3" y1="860.8" x2="187.9" y2="860.8" stroke="#9467bd" stroke-width="1.6" stroke-opacity="0.62"/>
<text x="193.8" y="864.1" font-size="9.3" text-anchor="start" fill="#333">C=2200</text>
<path d="M301.4 702.2V872.8M330 702.2V872.8M358.6 702.2V872.8M387.3 702.2V872.8M416 702.2V872.8M272.7 736.3H444.6M272.7 770.4H444.6M272.7 804.6H444.6M272.7 838.7H444.6" stroke="#d0d0d0" stroke-width="0.7" fill="none"/>
<polyline points="272.7,804.6 278.4,773.9 284.2,756.1 289.9,745.4 295.6,738.6 301.4,734 307.1,730.6 312.8,727.8 318.5,725.5 324.3,723.4 330,721.5 335.7,719.7 341.5,718 347.2,716.4 352.9,714.8 358.6,713.4 364.4,712 370.1,710.7 375.8,709.5 381.6,708.4 387.3,707.3 393,706.4 398.8,705.5 404.5,704.7 410.2,704 416,703.4 421.7,702.9 427.4,702.6 433.1,702.3 438.9,702.2" fill="none" stroke="#ff7f0e" stroke-width="1.1" stroke-opacity="0.62" stroke-linejoin="round"/>
<polyline points="272.7,804.6 278.4,772.7 284.2,753.9 289.9,742.6 295.6,735.5 301.4,730.8 307.1,727.4 312.8,724.8 318.5,722.6 324.3,720.7 330,719 335.7,717.5 341.5,716 347.2,714.6 352.9,713.3 358.6,712 364.4,710.9 370.1,709.7 375.8,708.7 381.6,707.7 387.3,706.8 393,706 398.8,705.2 404.5,704.5 410.2,703.9 416,703.3 421.7,702.9 427.4,702.5 433.1,702.3 438.9,702.2" fill="none" stroke="#2ca02c" stroke-width="1.1" stroke-opacity="0.62" stroke-linejoin="round"/>
<polyline points="272.7,804.6 278.4,772 284.2,752.7 289.9,740.9 295.6,733.6 301.4,728.7 307.1,725.3 312.8,722.8 318.5,720.7 324.3,719 330,717.5 335.7,716 341.5,714.7 347.2,713.5 352.9,712.3 358.6,711.1 364.4,710.1 370.1,709.1 375.8,708.1 381.6,707.2 387.3,706.4 393,705.7 398.8,705 404.5,704.3 410.2,703.8 416,703.3 421.7,702.9 427.4,702.5 433.1,702.3 438.9,702.2" fill="none" stroke="#d62728" stroke-width="1.1" stroke-opacity="0.62" stroke-linejoin="round"/>
<polyline points="272.7,804.6 278.4,771.9 284.2,752.5 289.9,740.7 295.6,733.3 301.4,728.4 307.1,725.1 312.8,722.5 318.5,720.5 324.3,718.8 330,717.2 335.7,715.8 341.5,714.5 347.2,713.3 352.9,712.1 358.6,711 364.4,710 370.1,709 375.8,708.1 381.6,707.2 387.3,706.4 393,705.6 398.8,704.9 404.5,704.3 410.2,703.7 416,703.3 421.7,702.8 427.4,702.5 433.1,702.3 438.9,702.2" fill="none" stroke="#1f77b4" stroke-width="1.1" stroke-opacity="0.62" stroke-linejoin="round"/>
<polyline points="272.7,804.6 278.4,771.8 284.2,752.3 289.9,740.5 295.6,733 301.4,728.2 307.1,724.8 312.8,722.2 318.5,720.2 324.3,718.5 330,717 335.7,715.6 341.5,714.3 347.2,713.1 352.9,712 358.6,710.9 364.4,709.9 370.1,708.9 375.8,708 381.6,707.1 387.3,706.3 393,705.6 398.8,704.9 404.5,704.3 410.2,703.7 416,703.2 421.7,702.8 427.4,702.5 433.1,702.3 438.9,702.2" fill="none" stroke="#9467bd" stroke-width="1.1" stroke-opacity="0.62" stroke-linejoin="round"/>
<rect x="272.7" y="702.2" width="171.9" height="170.6" fill="none" stroke="#7a7a7a" stroke-width="0.9"/>
<path d="M272.7 872.8v2.2M301.4 872.8v2.2M330 872.8v2.2M358.6 872.8v2.2M387.3 872.8v2.2M416 872.8v2.2M444.6 872.8v2.2M272.7 702.2h-2.2M272.7 736.3h-2.2M272.7 770.4h-2.2M272.7 804.6h-2.2M272.7 838.7h-2.2M272.7 872.8h-2.2" stroke="#555" stroke-width="0.8" fill="none"/>
<rect x="379.4" y="806.6" width="61" height="60.5" fill="#fff" stroke="#dddddd" stroke-width="0.8" fill-opacity="0.8"/>
<line x1="382" y1="812.8" x2="398.7" y2="812.8" stroke="#1f77b4" stroke-width="1.6" stroke-opacity="0.62"/>
<text x="404.5" y="816.1" font-size="9.3" text-anchor="start" fill="#333">C=0</text>
<line x1="382" y1="824.7" x2="398.7" y2="824.7" stroke="#ff7f0e" stroke-width="1.6" stroke-opacity="0.62"/>
<text x="404.5" y="828" font-size="9.3" text-anchor="start" fill="#333">C=100</text>
<line x1="382" y1="836.1" x2="398.7" y2="836.1" stroke="#2ca02c" stroke-width="1.6" stroke-opacity="0.62"/>
<text x="404.5" y="839.4" font-size="9.3" text-anchor="start" fill="#333">C=500</text>
<line x1="382" y1="848" x2="398.7" y2="848" stroke="#d62728" stroke-width="1.6" stroke-opacity="0.62"/>
<text x="404.5" y="851.3" font-size="9.3" text-anchor="start" fill="#333">C=1100</text>
<line x1="382" y1="859.7" x2="398.7" y2="859.7" stroke="#9467bd" stroke-width="1.6" stroke-opacity="0.62"/>
<text x="404.5" y="863" font-size="9.3" text-anchor="start" fill="#333">C=2200</text>
<path d="M515.7 701.4V873.5M551.4 701.4V873.5M587.1 701.4V873.5M622.8 701.4V873.5M658.5 701.4V873.5M507 708.9H680.5M507 730.3H680.5M507 751H680.5M507 772H680.5M507 793H680.5M507 813.7H680.5M507 834.7H680.5M507 855.7H680.5" stroke="#d0d0d0" stroke-width="0.7" fill="none"/>
<polyline points="515.7,865.3 522.8,738.7 551.4,708.9 594.2,740.4 672.8,745.7" fill="none" stroke="#1f77b4" stroke-width="1.3" stroke-opacity="0.62" stroke-linejoin="miter"/>
<polyline points="515.7,799 522.8,708.9 551.4,722.9 594.2,729.4 672.8,734.8" fill="none" stroke="#ff7f0e" stroke-width="1.3" stroke-opacity="0.62" stroke-linejoin="miter"/>
<rect x="507" y="701.4" width="173.5" height="172.1" fill="none" stroke="#7a7a7a" stroke-width="0.9"/>
<path d="M515.7 873.5v2.2M551.4 873.5v2.2M587.1 873.5v2.2M622.8 873.5v2.2M658.5 873.5v2.2M507 708.9h-2.2M507 730.3h-2.2M507 751h-2.2M507 772h-2.2M507 793h-2.2M507 813.7h-2.2M507 834.7h-2.2M507 855.7h-2.2M507 873.5h-2.2" stroke="#555" stroke-width="0.8" fill="none"/>
<rect x="617.6" y="835.2" width="57.4" height="32.8" fill="#fff" stroke="#dddddd" stroke-width="0.8" fill-opacity="0.8"/>
<line x1="621.1" y1="843.1" x2="642.6" y2="843.1" stroke="#1f77b4" stroke-width="1.6" stroke-opacity="0.62"/>
<text x="650.8" y="846.5" font-size="9.8" text-anchor="start" fill="#333">RC1</text>
<line x1="621.1" y1="858.3" x2="642.6" y2="858.3" stroke="#ff7f0e" stroke-width="1.6" stroke-opacity="0.62"/>
<text x="650.8" y="861.7" font-size="9.8" text-anchor="start" fill="#333">RC2</text>
<text x="6.3" y="698.6" font-size="16" text-anchor="start" font-weight="bold" fill="#000">D</text>
<text x="18.6" y="699.3" font-size="9" text-anchor="start" font-weight="bold" fill="#000">1</text>
<text x="461.6" y="698.6" font-size="16" text-anchor="start" font-weight="bold" fill="#000">D</text>
<text x="473.9" y="699.3" font-size="9" text-anchor="start" font-weight="bold" fill="#000">2</text>
<text x="144.2" y="696.9" font-size="11.5" text-anchor="middle" font-weight="bold" fill="#000">RC1</text>
<text x="352.9" y="696.6" font-size="11.5" text-anchor="middle" font-weight="bold" fill="#000">RC2</text>
<text x="43.5" y="781.6" font-size="11.4" text-anchor="middle" font-weight="bold" fill="#000" transform="rotate(-90 43.5 781.6)">cumulative contribution ratio</text>
<text x="54.6" y="702" font-size="8.4" text-anchor="middle" font-weight="bold" fill="#000" transform="rotate(-90 54.6 702)">1.0</text>
<text x="54.6" y="868.6" font-size="8.4" text-anchor="middle" font-weight="bold" fill="#000" transform="rotate(-90 54.6 868.6)">0</text>
<text x="62.6" y="889" font-size="8.2" text-anchor="middle" font-weight="bold" fill="#000">0</text>
<text x="147.4" y="889" font-size="8.2" text-anchor="middle" font-weight="bold" fill="#000">15</text>
<text x="230.7" y="889" font-size="8.2" text-anchor="middle" font-weight="bold" fill="#000">30</text>
<text x="278" y="887.8" font-size="8.2" text-anchor="middle" font-weight="bold" fill="#000">0</text>
<text x="358.4" y="887.8" font-size="8.2" text-anchor="middle" font-weight="bold" fill="#000">15</text>
<text x="440.7" y="887.8" font-size="8.2" text-anchor="middle" font-weight="bold" fill="#000">30</text>
<text x="146.9" y="904.6" font-size="12" text-anchor="middle" font-weight="bold" fill="#000">eigenstate</text>
<text x="357.2" y="900.9" font-size="12" text-anchor="middle" font-weight="bold" fill="#000">eigenstate</text>
<text x="489" y="784" font-size="13.8" text-anchor="middle" font-weight="bold" fill="#000" transform="rotate(-90 489 784)">effective dimension</text>
<text x="498.6" y="705" font-size="8.4" text-anchor="middle" font-weight="bold" fill="#000" transform="rotate(-90 498.6 705)">1.0</text>
<text x="497.6" y="872.3" font-size="8.4" text-anchor="middle" font-weight="bold" fill="#000" transform="rotate(-90 497.6 872.3)">0</text>
<text x="510.5" y="886.6" font-size="8.2" text-anchor="middle" font-weight="bold" fill="#000">0</text>
<text x="581.6" y="886.6" font-size="8.2" text-anchor="middle" font-weight="bold" fill="#000">1000</text>
<text x="657.9" y="886.6" font-size="8.2" text-anchor="middle" font-weight="bold" fill="#000">2000</text>
<text x="587.8" y="900.3" font-size="12" text-anchor="middle" font-weight="bold" fill="#000">C</text>
</svg>
</body></html>
